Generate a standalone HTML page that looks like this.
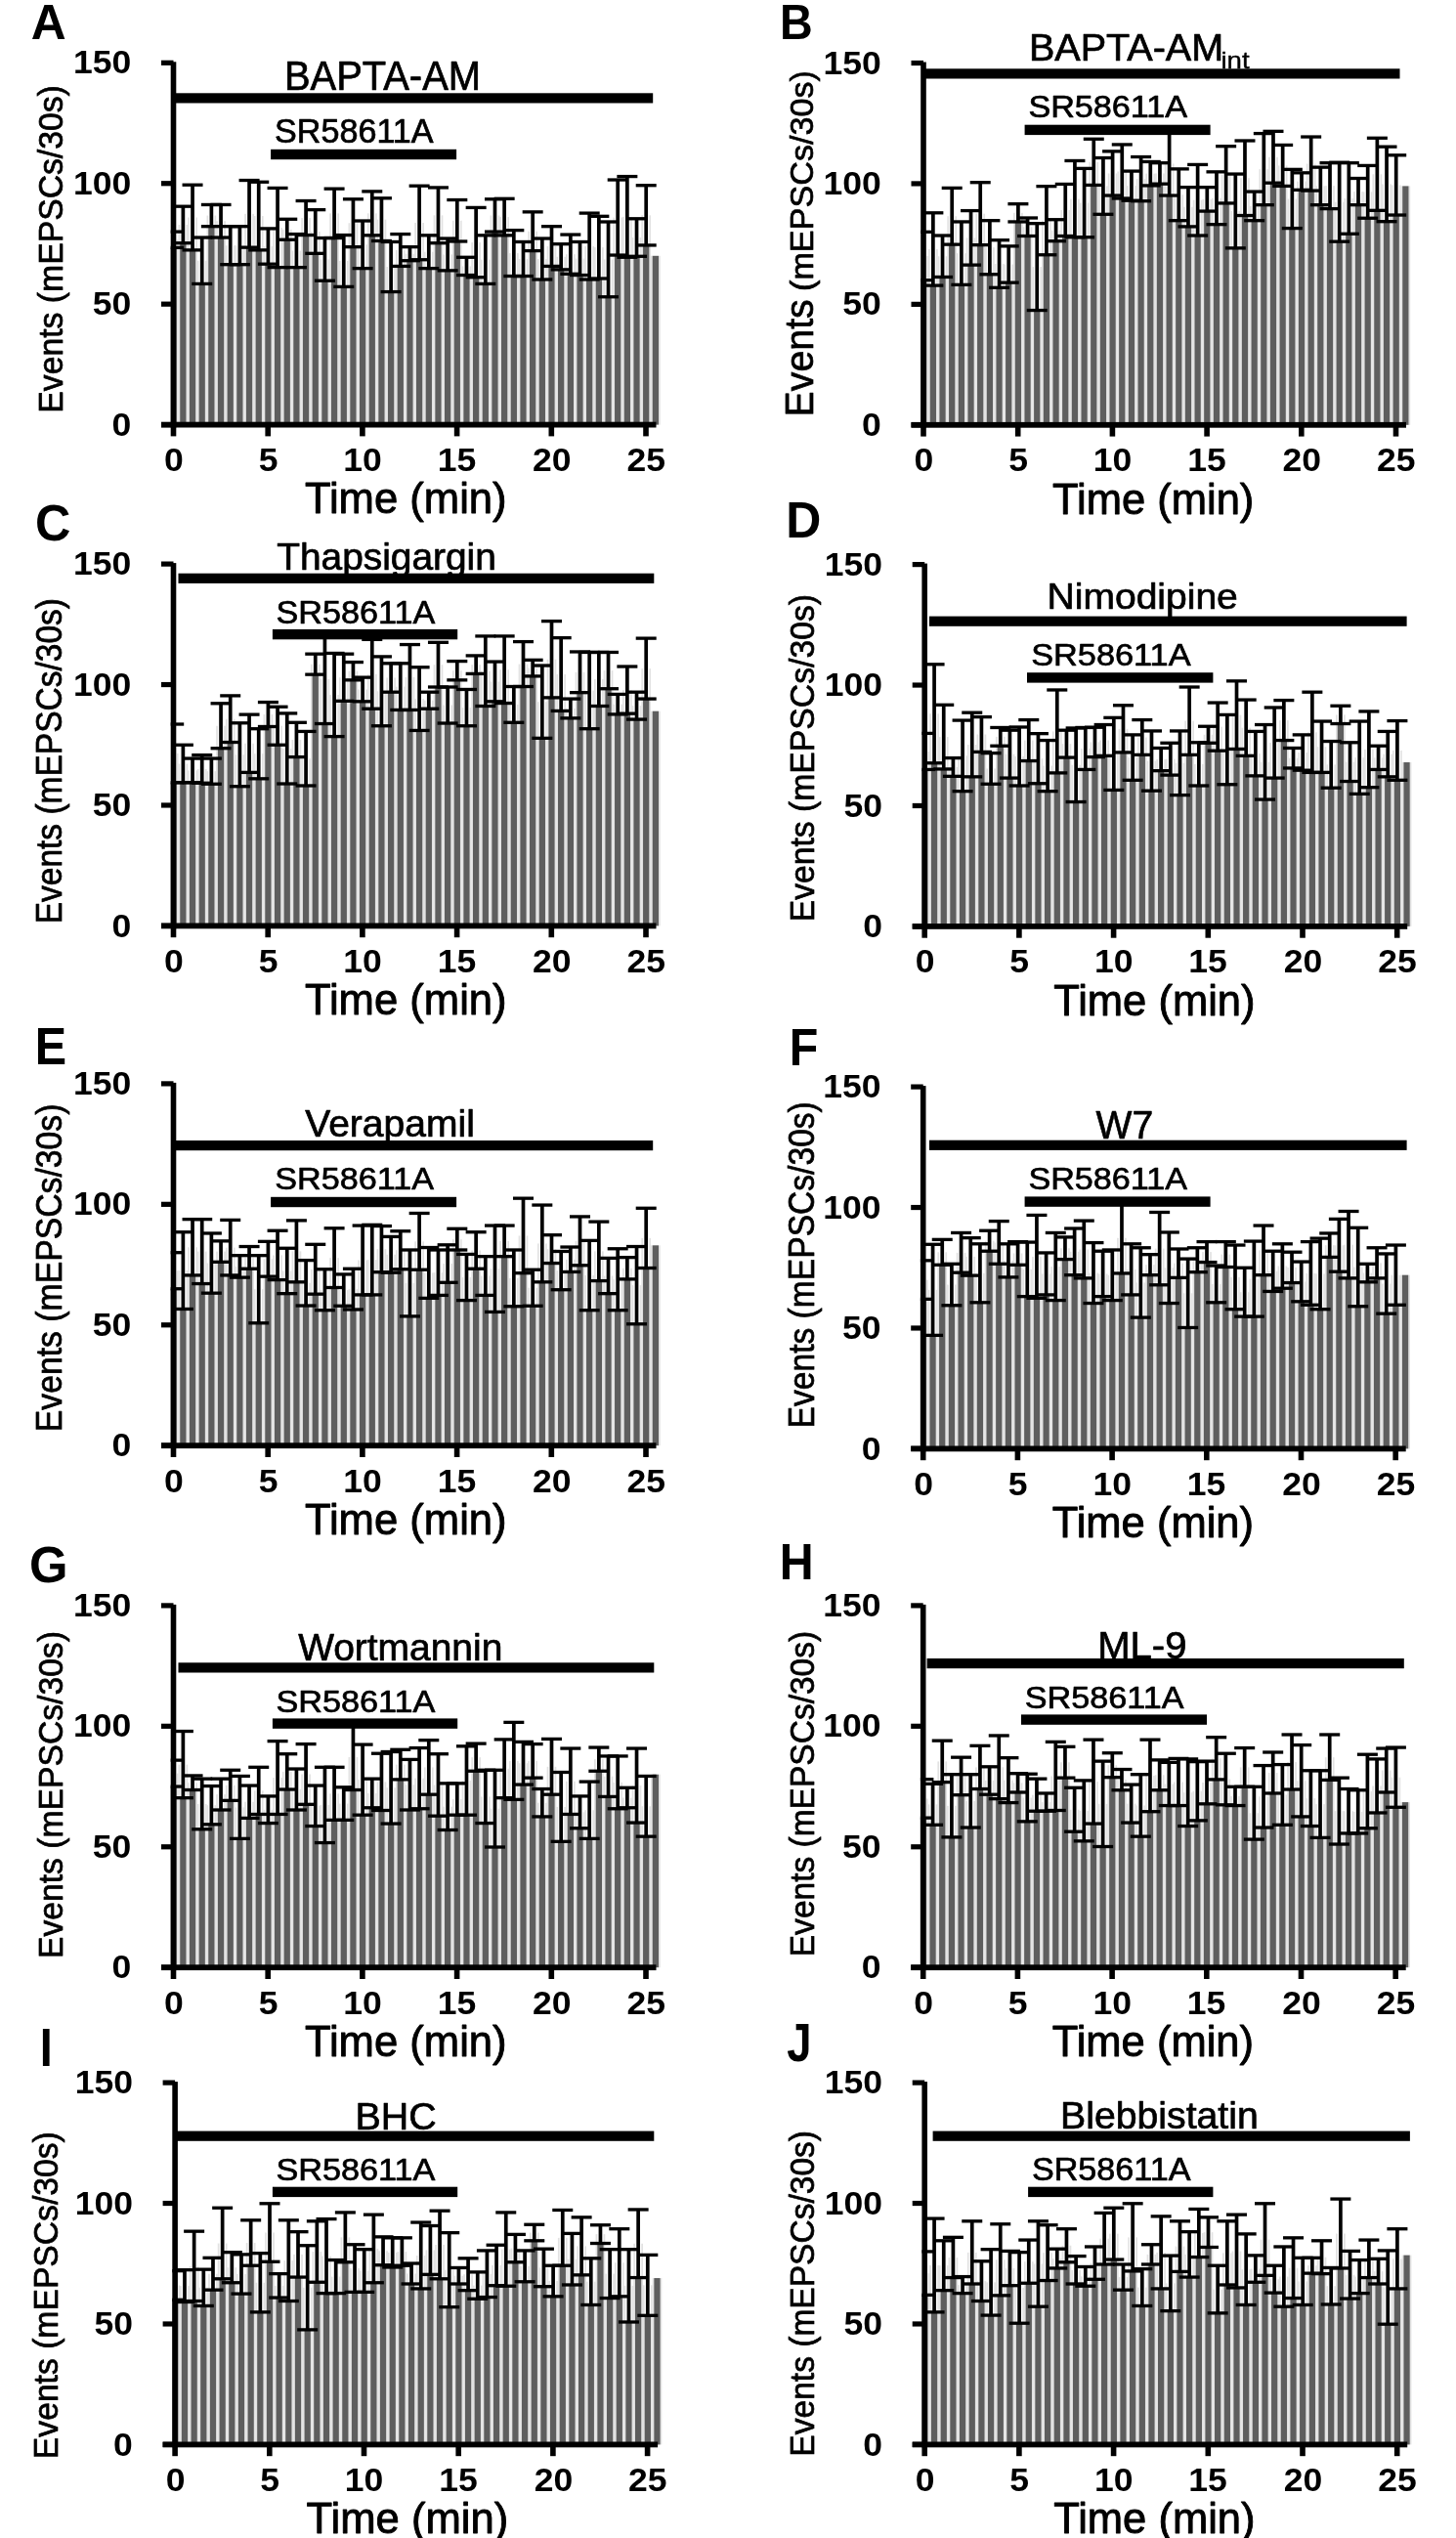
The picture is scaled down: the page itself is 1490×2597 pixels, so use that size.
<!DOCTYPE html>
<html><head><meta charset="utf-8"><title>Figure</title>
<style>html,body{margin:0;padding:0;background:#fff;}svg{display:block;will-change:transform;}
text{font-family:"Liberation Sans",sans-serif;font-size:100px;fill:#000;}</style></head>
<body><svg width="1490" height="2597" viewBox="0 0 1490 2597">
<rect x="0" y="0" width="1490" height="2597" fill="#fff"/>
<g>
<rect x="180.85" y="245.25" width="1.70" height="189.35" fill="#e2e2e2"/>
<rect x="182.51" y="229.95" width="1.70" height="204.65" fill="#e2e2e2"/>
<rect x="190.52" y="229.95" width="1.70" height="204.65" fill="#e2e2e2"/>
<rect x="192.19" y="222.54" width="1.70" height="212.06" fill="#e2e2e2"/>
<rect x="200.19" y="222.54" width="1.70" height="212.06" fill="#e2e2e2"/>
<rect x="201.85" y="266.73" width="1.70" height="167.87" fill="#e2e2e2"/>
<rect x="209.86" y="266.73" width="1.70" height="167.87" fill="#e2e2e2"/>
<rect x="211.53" y="220.57" width="1.70" height="214.03" fill="#e2e2e2"/>
<rect x="219.53" y="220.57" width="1.70" height="214.03" fill="#e2e2e2"/>
<rect x="221.19" y="226.24" width="1.70" height="208.36" fill="#e2e2e2"/>
<rect x="229.20" y="226.24" width="1.70" height="208.36" fill="#e2e2e2"/>
<rect x="230.86" y="251.18" width="1.70" height="183.42" fill="#e2e2e2"/>
<rect x="238.87" y="251.18" width="1.70" height="183.42" fill="#e2e2e2"/>
<rect x="240.53" y="251.18" width="1.70" height="183.42" fill="#e2e2e2"/>
<rect x="248.54" y="251.18" width="1.70" height="183.42" fill="#e2e2e2"/>
<rect x="250.21" y="218.84" width="1.70" height="215.76" fill="#e2e2e2"/>
<rect x="258.21" y="218.84" width="1.71" height="215.76" fill="#e2e2e2"/>
<rect x="259.87" y="221.06" width="1.71" height="213.54" fill="#e2e2e2"/>
<rect x="267.88" y="221.06" width="1.71" height="213.54" fill="#e2e2e2"/>
<rect x="269.54" y="252.04" width="1.71" height="182.56" fill="#e2e2e2"/>
<rect x="277.55" y="252.04" width="1.71" height="182.56" fill="#e2e2e2"/>
<rect x="279.21" y="233.03" width="1.71" height="201.57" fill="#e2e2e2"/>
<rect x="287.22" y="233.03" width="1.71" height="201.57" fill="#e2e2e2"/>
<rect x="288.88" y="234.76" width="1.71" height="199.84" fill="#e2e2e2"/>
<rect x="296.89" y="234.76" width="1.71" height="199.84" fill="#e2e2e2"/>
<rect x="298.55" y="256.61" width="1.71" height="177.99" fill="#e2e2e2"/>
<rect x="306.56" y="256.61" width="1.71" height="177.99" fill="#e2e2e2"/>
<rect x="308.22" y="223.04" width="1.71" height="211.56" fill="#e2e2e2"/>
<rect x="316.23" y="223.04" width="1.71" height="211.56" fill="#e2e2e2"/>
<rect x="317.89" y="236.98" width="1.71" height="197.62" fill="#e2e2e2"/>
<rect x="325.90" y="236.98" width="1.71" height="197.62" fill="#e2e2e2"/>
<rect x="327.56" y="265.37" width="1.71" height="169.23" fill="#e2e2e2"/>
<rect x="335.57" y="265.37" width="1.71" height="169.23" fill="#e2e2e2"/>
<rect x="337.23" y="218.34" width="1.71" height="216.26" fill="#e2e2e2"/>
<rect x="345.24" y="218.34" width="1.71" height="216.26" fill="#e2e2e2"/>
<rect x="346.90" y="266.98" width="1.71" height="167.62" fill="#e2e2e2"/>
<rect x="354.91" y="266.98" width="1.71" height="167.62" fill="#e2e2e2"/>
<rect x="356.57" y="228.22" width="1.71" height="206.38" fill="#e2e2e2"/>
<rect x="364.58" y="228.22" width="1.71" height="206.38" fill="#e2e2e2"/>
<rect x="366.24" y="250.31" width="1.71" height="184.29" fill="#e2e2e2"/>
<rect x="374.25" y="250.31" width="1.71" height="184.29" fill="#e2e2e2"/>
<rect x="375.91" y="218.34" width="1.71" height="216.26" fill="#e2e2e2"/>
<rect x="383.92" y="218.34" width="1.71" height="216.26" fill="#e2e2e2"/>
<rect x="385.58" y="224.64" width="1.71" height="209.96" fill="#e2e2e2"/>
<rect x="393.59" y="224.64" width="1.71" height="209.96" fill="#e2e2e2"/>
<rect x="395.25" y="273.03" width="1.71" height="161.57" fill="#e2e2e2"/>
<rect x="403.26" y="273.03" width="1.71" height="161.57" fill="#e2e2e2"/>
<rect x="404.92" y="255.99" width="1.71" height="178.61" fill="#e2e2e2"/>
<rect x="412.93" y="255.99" width="1.71" height="178.61" fill="#e2e2e2"/>
<rect x="414.59" y="259.69" width="1.71" height="174.91" fill="#e2e2e2"/>
<rect x="422.60" y="259.69" width="1.71" height="174.91" fill="#e2e2e2"/>
<rect x="424.26" y="227.97" width="1.71" height="206.63" fill="#e2e2e2"/>
<rect x="432.27" y="227.97" width="1.71" height="206.63" fill="#e2e2e2"/>
<rect x="433.93" y="257.72" width="1.71" height="176.88" fill="#e2e2e2"/>
<rect x="441.94" y="257.72" width="1.71" height="176.88" fill="#e2e2e2"/>
<rect x="443.60" y="220.32" width="1.71" height="214.28" fill="#e2e2e2"/>
<rect x="451.61" y="220.32" width="1.71" height="214.28" fill="#e2e2e2"/>
<rect x="453.27" y="260.44" width="1.71" height="174.16" fill="#e2e2e2"/>
<rect x="461.28" y="260.44" width="1.71" height="174.16" fill="#e2e2e2"/>
<rect x="462.94" y="225.75" width="1.71" height="208.85" fill="#e2e2e2"/>
<rect x="470.95" y="225.75" width="1.71" height="208.85" fill="#e2e2e2"/>
<rect x="472.61" y="272.41" width="1.71" height="162.19" fill="#e2e2e2"/>
<rect x="480.62" y="272.41" width="1.71" height="162.19" fill="#e2e2e2"/>
<rect x="482.28" y="248.09" width="1.71" height="186.51" fill="#e2e2e2"/>
<rect x="490.29" y="248.09" width="1.71" height="186.51" fill="#e2e2e2"/>
<rect x="491.95" y="265.62" width="1.71" height="168.98" fill="#e2e2e2"/>
<rect x="499.96" y="265.62" width="1.71" height="168.98" fill="#e2e2e2"/>
<rect x="501.62" y="220.44" width="1.71" height="214.16" fill="#e2e2e2"/>
<rect x="509.63" y="220.44" width="1.71" height="214.16" fill="#e2e2e2"/>
<rect x="511.30" y="222.05" width="1.71" height="212.55" fill="#e2e2e2"/>
<rect x="519.30" y="222.05" width="1.71" height="212.55" fill="#e2e2e2"/>
<rect x="520.97" y="259.08" width="1.71" height="175.52" fill="#e2e2e2"/>
<rect x="528.97" y="259.08" width="1.71" height="175.52" fill="#e2e2e2"/>
<rect x="530.63" y="265.00" width="1.71" height="169.60" fill="#e2e2e2"/>
<rect x="538.64" y="265.00" width="1.71" height="169.60" fill="#e2e2e2"/>
<rect x="540.31" y="236.74" width="1.71" height="197.86" fill="#e2e2e2"/>
<rect x="548.31" y="236.74" width="1.71" height="197.86" fill="#e2e2e2"/>
<rect x="549.98" y="265.00" width="1.71" height="169.60" fill="#e2e2e2"/>
<rect x="557.98" y="265.00" width="1.71" height="169.60" fill="#e2e2e2"/>
<rect x="559.64" y="252.04" width="1.71" height="182.56" fill="#e2e2e2"/>
<rect x="567.65" y="252.04" width="1.71" height="182.56" fill="#e2e2e2"/>
<rect x="569.32" y="262.78" width="1.71" height="171.82" fill="#e2e2e2"/>
<rect x="577.32" y="262.78" width="1.71" height="171.82" fill="#e2e2e2"/>
<rect x="578.99" y="260.19" width="1.71" height="174.41" fill="#e2e2e2"/>
<rect x="586.99" y="260.19" width="1.71" height="174.41" fill="#e2e2e2"/>
<rect x="588.65" y="264.51" width="1.71" height="170.09" fill="#e2e2e2"/>
<rect x="596.66" y="264.51" width="1.71" height="170.09" fill="#e2e2e2"/>
<rect x="598.33" y="252.04" width="1.71" height="182.56" fill="#e2e2e2"/>
<rect x="606.33" y="252.04" width="1.71" height="182.56" fill="#e2e2e2"/>
<rect x="608.00" y="253.15" width="1.71" height="181.45" fill="#e2e2e2"/>
<rect x="616.00" y="253.15" width="1.71" height="181.45" fill="#e2e2e2"/>
<rect x="617.66" y="265.37" width="1.71" height="169.23" fill="#e2e2e2"/>
<rect x="625.67" y="265.37" width="1.71" height="169.23" fill="#e2e2e2"/>
<rect x="627.34" y="222.54" width="1.71" height="212.06" fill="#e2e2e2"/>
<rect x="635.34" y="222.54" width="1.71" height="212.06" fill="#e2e2e2"/>
<rect x="637.00" y="221.92" width="1.71" height="212.68" fill="#e2e2e2"/>
<rect x="645.01" y="221.92" width="1.71" height="212.68" fill="#e2e2e2"/>
<rect x="646.67" y="243.03" width="1.71" height="191.57" fill="#e2e2e2"/>
<rect x="654.68" y="243.03" width="1.71" height="191.57" fill="#e2e2e2"/>
<rect x="656.35" y="220.32" width="1.71" height="214.28" fill="#e2e2e2"/>
<rect x="664.35" y="220.32" width="1.71" height="214.28" fill="#e2e2e2"/>
<rect x="666.02" y="261.79" width="1.71" height="172.81" fill="#e2e2e2"/>
<rect x="674.02" y="261.79" width="1.71" height="172.81" fill="#e2e2e2"/>
<rect x="174.70" y="253.40" width="6.15" height="181.20" fill="#5e5e5e"/>
<rect x="184.22" y="248.71" width="6.30" height="185.89" fill="#5e5e5e"/>
<rect x="193.89" y="255.87" width="6.30" height="178.73" fill="#5e5e5e"/>
<rect x="203.56" y="290.43" width="6.30" height="144.17" fill="#5e5e5e"/>
<rect x="213.23" y="231.68" width="6.30" height="202.92" fill="#5e5e5e"/>
<rect x="222.90" y="243.03" width="6.30" height="191.57" fill="#5e5e5e"/>
<rect x="232.57" y="270.68" width="6.30" height="163.92" fill="#5e5e5e"/>
<rect x="242.24" y="270.68" width="6.30" height="163.92" fill="#5e5e5e"/>
<rect x="251.91" y="253.15" width="6.30" height="181.45" fill="#5e5e5e"/>
<rect x="261.58" y="255.87" width="6.30" height="178.73" fill="#5e5e5e"/>
<rect x="271.25" y="270.19" width="6.30" height="164.41" fill="#5e5e5e"/>
<rect x="280.92" y="273.64" width="6.30" height="160.96" fill="#5e5e5e"/>
<rect x="290.59" y="245.25" width="6.30" height="189.35" fill="#5e5e5e"/>
<rect x="300.26" y="273.64" width="6.30" height="160.96" fill="#5e5e5e"/>
<rect x="309.93" y="240.56" width="6.30" height="194.04" fill="#5e5e5e"/>
<rect x="319.60" y="259.32" width="6.30" height="175.28" fill="#5e5e5e"/>
<rect x="329.27" y="287.22" width="6.30" height="147.38" fill="#5e5e5e"/>
<rect x="338.94" y="243.53" width="6.30" height="191.07" fill="#5e5e5e"/>
<rect x="348.61" y="293.39" width="6.30" height="141.21" fill="#5e5e5e"/>
<rect x="358.28" y="252.66" width="6.30" height="181.94" fill="#5e5e5e"/>
<rect x="367.95" y="274.63" width="6.30" height="159.97" fill="#5e5e5e"/>
<rect x="377.62" y="240.81" width="6.30" height="193.79" fill="#5e5e5e"/>
<rect x="387.29" y="246.49" width="6.30" height="188.11" fill="#5e5e5e"/>
<rect x="396.96" y="298.58" width="6.30" height="136.02" fill="#5e5e5e"/>
<rect x="406.63" y="272.41" width="6.30" height="162.19" fill="#5e5e5e"/>
<rect x="416.30" y="266.73" width="6.30" height="167.87" fill="#5e5e5e"/>
<rect x="425.97" y="265.74" width="6.30" height="168.86" fill="#5e5e5e"/>
<rect x="435.64" y="274.63" width="6.30" height="159.97" fill="#5e5e5e"/>
<rect x="445.31" y="248.71" width="6.30" height="185.89" fill="#5e5e5e"/>
<rect x="454.98" y="276.85" width="6.30" height="157.75" fill="#5e5e5e"/>
<rect x="464.65" y="246.98" width="6.30" height="187.62" fill="#5e5e5e"/>
<rect x="474.32" y="281.54" width="6.30" height="153.06" fill="#5e5e5e"/>
<rect x="483.99" y="283.76" width="6.30" height="150.84" fill="#5e5e5e"/>
<rect x="493.66" y="290.43" width="6.30" height="144.17" fill="#5e5e5e"/>
<rect x="503.33" y="237.11" width="6.30" height="197.49" fill="#5e5e5e"/>
<rect x="513.00" y="240.81" width="6.30" height="193.79" fill="#5e5e5e"/>
<rect x="522.67" y="282.53" width="6.30" height="152.07" fill="#5e5e5e"/>
<rect x="532.34" y="282.53" width="6.30" height="152.07" fill="#5e5e5e"/>
<rect x="542.01" y="256.61" width="6.30" height="177.99" fill="#5e5e5e"/>
<rect x="551.68" y="285.99" width="6.30" height="148.61" fill="#5e5e5e"/>
<rect x="561.35" y="272.41" width="6.30" height="162.19" fill="#5e5e5e"/>
<rect x="571.02" y="275.86" width="6.30" height="158.74" fill="#5e5e5e"/>
<rect x="580.69" y="280.31" width="6.30" height="154.29" fill="#5e5e5e"/>
<rect x="590.36" y="281.54" width="6.30" height="153.06" fill="#5e5e5e"/>
<rect x="600.03" y="285.99" width="6.30" height="148.61" fill="#5e5e5e"/>
<rect x="609.70" y="285.00" width="6.30" height="149.60" fill="#5e5e5e"/>
<rect x="619.37" y="303.76" width="6.30" height="130.84" fill="#5e5e5e"/>
<rect x="629.04" y="261.05" width="6.30" height="173.55" fill="#5e5e5e"/>
<rect x="638.71" y="263.27" width="6.30" height="171.33" fill="#5e5e5e"/>
<rect x="648.38" y="262.29" width="6.30" height="172.31" fill="#5e5e5e"/>
<rect x="658.05" y="250.93" width="6.30" height="183.67" fill="#5e5e5e"/>
<rect x="667.72" y="261.79" width="6.30" height="172.81" fill="#5e5e5e"/>
</g>
<rect x="175.85" y="237.11" width="3.70" height="16.29" fill="#000"/>
<rect x="174.70" y="235.46" width="13.50" height="3.30" fill="#000"/>
<rect x="174.70" y="251.75" width="13.50" height="3.30" fill="#000"/>
<rect x="185.52" y="211.19" width="3.70" height="37.52" fill="#000"/>
<rect x="176.87" y="209.54" width="21.00" height="3.30" fill="#000"/>
<rect x="176.87" y="247.06" width="21.00" height="3.30" fill="#000"/>
<rect x="195.19" y="189.21" width="3.70" height="66.65" fill="#000"/>
<rect x="186.54" y="187.56" width="21.00" height="3.30" fill="#000"/>
<rect x="186.54" y="254.22" width="21.00" height="3.30" fill="#000"/>
<rect x="204.86" y="243.03" width="3.70" height="47.40" fill="#000"/>
<rect x="196.21" y="241.38" width="21.00" height="3.30" fill="#000"/>
<rect x="196.21" y="288.78" width="21.00" height="3.30" fill="#000"/>
<rect x="214.53" y="209.46" width="3.70" height="22.22" fill="#000"/>
<rect x="205.88" y="207.81" width="21.00" height="3.30" fill="#000"/>
<rect x="205.88" y="230.03" width="21.00" height="3.30" fill="#000"/>
<rect x="224.20" y="209.46" width="3.70" height="33.57" fill="#000"/>
<rect x="215.55" y="207.81" width="21.00" height="3.30" fill="#000"/>
<rect x="215.55" y="241.38" width="21.00" height="3.30" fill="#000"/>
<rect x="233.87" y="231.68" width="3.70" height="39.00" fill="#000"/>
<rect x="225.22" y="230.03" width="21.00" height="3.30" fill="#000"/>
<rect x="225.22" y="269.03" width="21.00" height="3.30" fill="#000"/>
<rect x="243.54" y="231.68" width="3.70" height="39.00" fill="#000"/>
<rect x="234.89" y="230.03" width="21.00" height="3.30" fill="#000"/>
<rect x="234.89" y="269.03" width="21.00" height="3.30" fill="#000"/>
<rect x="253.21" y="184.52" width="3.70" height="68.63" fill="#000"/>
<rect x="244.56" y="182.87" width="21.00" height="3.30" fill="#000"/>
<rect x="244.56" y="251.50" width="21.00" height="3.30" fill="#000"/>
<rect x="262.88" y="186.25" width="3.70" height="69.62" fill="#000"/>
<rect x="254.23" y="184.60" width="21.00" height="3.30" fill="#000"/>
<rect x="254.23" y="254.22" width="21.00" height="3.30" fill="#000"/>
<rect x="272.55" y="233.90" width="3.70" height="36.29" fill="#000"/>
<rect x="263.90" y="232.25" width="21.00" height="3.30" fill="#000"/>
<rect x="263.90" y="268.54" width="21.00" height="3.30" fill="#000"/>
<rect x="282.22" y="192.42" width="3.70" height="81.22" fill="#000"/>
<rect x="273.57" y="190.77" width="21.00" height="3.30" fill="#000"/>
<rect x="273.57" y="271.99" width="21.00" height="3.30" fill="#000"/>
<rect x="291.89" y="224.27" width="3.70" height="20.98" fill="#000"/>
<rect x="283.24" y="222.62" width="21.00" height="3.30" fill="#000"/>
<rect x="283.24" y="243.60" width="21.00" height="3.30" fill="#000"/>
<rect x="301.56" y="239.58" width="3.70" height="34.07" fill="#000"/>
<rect x="292.91" y="237.93" width="21.00" height="3.30" fill="#000"/>
<rect x="292.91" y="271.99" width="21.00" height="3.30" fill="#000"/>
<rect x="311.23" y="205.51" width="3.70" height="35.06" fill="#000"/>
<rect x="302.58" y="203.86" width="21.00" height="3.30" fill="#000"/>
<rect x="302.58" y="238.91" width="21.00" height="3.30" fill="#000"/>
<rect x="320.90" y="214.64" width="3.70" height="44.68" fill="#000"/>
<rect x="312.25" y="212.99" width="21.00" height="3.30" fill="#000"/>
<rect x="312.25" y="257.67" width="21.00" height="3.30" fill="#000"/>
<rect x="330.57" y="243.53" width="3.70" height="43.70" fill="#000"/>
<rect x="321.92" y="241.88" width="21.00" height="3.30" fill="#000"/>
<rect x="321.92" y="285.57" width="21.00" height="3.30" fill="#000"/>
<rect x="340.24" y="193.16" width="3.70" height="50.36" fill="#000"/>
<rect x="331.59" y="191.51" width="21.00" height="3.30" fill="#000"/>
<rect x="331.59" y="241.88" width="21.00" height="3.30" fill="#000"/>
<rect x="349.91" y="240.56" width="3.70" height="52.83" fill="#000"/>
<rect x="341.26" y="238.91" width="21.00" height="3.30" fill="#000"/>
<rect x="341.26" y="291.74" width="21.00" height="3.30" fill="#000"/>
<rect x="359.58" y="203.78" width="3.70" height="48.88" fill="#000"/>
<rect x="350.93" y="202.13" width="21.00" height="3.30" fill="#000"/>
<rect x="350.93" y="251.01" width="21.00" height="3.30" fill="#000"/>
<rect x="369.25" y="226.00" width="3.70" height="48.63" fill="#000"/>
<rect x="360.60" y="224.35" width="21.00" height="3.30" fill="#000"/>
<rect x="360.60" y="272.98" width="21.00" height="3.30" fill="#000"/>
<rect x="378.92" y="195.88" width="3.70" height="44.93" fill="#000"/>
<rect x="370.27" y="194.23" width="21.00" height="3.30" fill="#000"/>
<rect x="370.27" y="239.16" width="21.00" height="3.30" fill="#000"/>
<rect x="388.59" y="202.79" width="3.70" height="43.70" fill="#000"/>
<rect x="379.94" y="201.14" width="21.00" height="3.30" fill="#000"/>
<rect x="379.94" y="244.84" width="21.00" height="3.30" fill="#000"/>
<rect x="398.26" y="247.48" width="3.70" height="51.10" fill="#000"/>
<rect x="389.61" y="245.83" width="21.00" height="3.30" fill="#000"/>
<rect x="389.61" y="296.93" width="21.00" height="3.30" fill="#000"/>
<rect x="407.93" y="239.58" width="3.70" height="32.83" fill="#000"/>
<rect x="399.28" y="237.93" width="21.00" height="3.30" fill="#000"/>
<rect x="399.28" y="270.76" width="21.00" height="3.30" fill="#000"/>
<rect x="417.60" y="252.66" width="3.70" height="14.07" fill="#000"/>
<rect x="408.95" y="251.01" width="21.00" height="3.30" fill="#000"/>
<rect x="408.95" y="265.08" width="21.00" height="3.30" fill="#000"/>
<rect x="427.27" y="190.20" width="3.70" height="75.54" fill="#000"/>
<rect x="418.62" y="188.55" width="21.00" height="3.30" fill="#000"/>
<rect x="418.62" y="264.09" width="21.00" height="3.30" fill="#000"/>
<rect x="436.94" y="240.81" width="3.70" height="33.82" fill="#000"/>
<rect x="428.29" y="239.16" width="21.00" height="3.30" fill="#000"/>
<rect x="428.29" y="272.98" width="21.00" height="3.30" fill="#000"/>
<rect x="446.61" y="191.93" width="3.70" height="56.78" fill="#000"/>
<rect x="437.96" y="190.28" width="21.00" height="3.30" fill="#000"/>
<rect x="437.96" y="247.06" width="21.00" height="3.30" fill="#000"/>
<rect x="456.28" y="244.02" width="3.70" height="32.83" fill="#000"/>
<rect x="447.63" y="242.37" width="21.00" height="3.30" fill="#000"/>
<rect x="447.63" y="275.20" width="21.00" height="3.30" fill="#000"/>
<rect x="465.95" y="204.52" width="3.70" height="42.46" fill="#000"/>
<rect x="457.30" y="202.87" width="21.00" height="3.30" fill="#000"/>
<rect x="457.30" y="245.33" width="21.00" height="3.30" fill="#000"/>
<rect x="475.62" y="263.27" width="3.70" height="18.27" fill="#000"/>
<rect x="466.97" y="261.62" width="21.00" height="3.30" fill="#000"/>
<rect x="466.97" y="279.89" width="21.00" height="3.30" fill="#000"/>
<rect x="485.29" y="212.42" width="3.70" height="71.34" fill="#000"/>
<rect x="476.64" y="210.77" width="21.00" height="3.30" fill="#000"/>
<rect x="476.64" y="282.11" width="21.00" height="3.30" fill="#000"/>
<rect x="494.96" y="240.81" width="3.70" height="49.62" fill="#000"/>
<rect x="486.31" y="239.16" width="21.00" height="3.30" fill="#000"/>
<rect x="486.31" y="288.78" width="21.00" height="3.30" fill="#000"/>
<rect x="504.63" y="203.78" width="3.70" height="33.33" fill="#000"/>
<rect x="495.98" y="202.13" width="21.00" height="3.30" fill="#000"/>
<rect x="495.98" y="235.46" width="21.00" height="3.30" fill="#000"/>
<rect x="514.30" y="203.29" width="3.70" height="37.52" fill="#000"/>
<rect x="505.65" y="201.64" width="21.00" height="3.30" fill="#000"/>
<rect x="505.65" y="239.16" width="21.00" height="3.30" fill="#000"/>
<rect x="523.97" y="235.63" width="3.70" height="46.90" fill="#000"/>
<rect x="515.32" y="233.98" width="21.00" height="3.30" fill="#000"/>
<rect x="515.32" y="280.88" width="21.00" height="3.30" fill="#000"/>
<rect x="533.64" y="247.48" width="3.70" height="35.06" fill="#000"/>
<rect x="524.99" y="245.83" width="21.00" height="3.30" fill="#000"/>
<rect x="524.99" y="280.88" width="21.00" height="3.30" fill="#000"/>
<rect x="543.31" y="216.86" width="3.70" height="39.75" fill="#000"/>
<rect x="534.66" y="215.21" width="21.00" height="3.30" fill="#000"/>
<rect x="534.66" y="254.96" width="21.00" height="3.30" fill="#000"/>
<rect x="552.98" y="244.02" width="3.70" height="41.97" fill="#000"/>
<rect x="544.33" y="242.37" width="21.00" height="3.30" fill="#000"/>
<rect x="544.33" y="284.34" width="21.00" height="3.30" fill="#000"/>
<rect x="562.65" y="231.68" width="3.70" height="40.73" fill="#000"/>
<rect x="554.00" y="230.03" width="21.00" height="3.30" fill="#000"/>
<rect x="554.00" y="270.76" width="21.00" height="3.30" fill="#000"/>
<rect x="572.32" y="249.70" width="3.70" height="26.17" fill="#000"/>
<rect x="563.67" y="248.05" width="21.00" height="3.30" fill="#000"/>
<rect x="563.67" y="274.21" width="21.00" height="3.30" fill="#000"/>
<rect x="581.99" y="240.07" width="3.70" height="40.24" fill="#000"/>
<rect x="573.34" y="238.42" width="21.00" height="3.30" fill="#000"/>
<rect x="573.34" y="278.66" width="21.00" height="3.30" fill="#000"/>
<rect x="591.66" y="247.48" width="3.70" height="34.07" fill="#000"/>
<rect x="583.01" y="245.83" width="21.00" height="3.30" fill="#000"/>
<rect x="583.01" y="279.89" width="21.00" height="3.30" fill="#000"/>
<rect x="601.33" y="218.10" width="3.70" height="67.89" fill="#000"/>
<rect x="592.68" y="216.45" width="21.00" height="3.30" fill="#000"/>
<rect x="592.68" y="284.34" width="21.00" height="3.30" fill="#000"/>
<rect x="611.00" y="221.31" width="3.70" height="63.69" fill="#000"/>
<rect x="602.35" y="219.66" width="21.00" height="3.30" fill="#000"/>
<rect x="602.35" y="283.35" width="21.00" height="3.30" fill="#000"/>
<rect x="620.67" y="226.99" width="3.70" height="76.78" fill="#000"/>
<rect x="612.02" y="225.34" width="21.00" height="3.30" fill="#000"/>
<rect x="612.02" y="302.11" width="21.00" height="3.30" fill="#000"/>
<rect x="630.34" y="184.03" width="3.70" height="77.02" fill="#000"/>
<rect x="621.69" y="182.38" width="21.00" height="3.30" fill="#000"/>
<rect x="621.69" y="259.40" width="21.00" height="3.30" fill="#000"/>
<rect x="640.01" y="180.57" width="3.70" height="82.70" fill="#000"/>
<rect x="631.36" y="178.92" width="21.00" height="3.30" fill="#000"/>
<rect x="631.36" y="261.62" width="21.00" height="3.30" fill="#000"/>
<rect x="649.68" y="223.78" width="3.70" height="38.51" fill="#000"/>
<rect x="641.03" y="222.13" width="21.00" height="3.30" fill="#000"/>
<rect x="641.03" y="260.64" width="21.00" height="3.30" fill="#000"/>
<rect x="659.35" y="189.71" width="3.70" height="61.22" fill="#000"/>
<rect x="650.70" y="188.06" width="21.00" height="3.30" fill="#000"/>
<rect x="650.70" y="249.28" width="21.00" height="3.30" fill="#000"/>
<rect x="174.70" y="63.30" width="5.60" height="374.20" fill="#000"/>
<rect x="165.00" y="431.70" width="506.50" height="5.80" fill="#000"/>
<rect x="165.00" y="432.00" width="12.50" height="5.20" fill="#000"/>
<rect x="165.00" y="308.57" width="12.50" height="5.20" fill="#000"/>
<rect x="165.00" y="185.13" width="12.50" height="5.20" fill="#000"/>
<rect x="165.00" y="61.70" width="12.50" height="5.20" fill="#000"/>
<rect x="174.70" y="434.60" width="5.60" height="11.80" fill="#000"/>
<rect x="271.40" y="434.60" width="5.60" height="11.80" fill="#000"/>
<rect x="368.10" y="434.60" width="5.60" height="11.80" fill="#000"/>
<rect x="464.80" y="434.60" width="5.60" height="11.80" fill="#000"/>
<rect x="561.50" y="434.60" width="5.60" height="11.80" fill="#000"/>
<rect x="658.20" y="434.60" width="5.60" height="11.80" fill="#000"/>
<text transform="translate(114.50,445.70) scale(0.35527,0.34000)" font-weight="700">0</text>
<text transform="translate(94.79,322.27) scale(0.35527,0.34000)" font-weight="700">50</text>
<text transform="translate(75.07,198.83) scale(0.35527,0.34000)" font-weight="700">100</text>
<text transform="translate(75.07,75.40) scale(0.35527,0.34000)" font-weight="700">150</text>
<text transform="translate(168.04,482.10) scale(0.35527,0.34000)" font-weight="700">0</text>
<text transform="translate(264.65,482.10) scale(0.35527,0.34000)" font-weight="700">5</text>
<text transform="translate(351.23,482.10) scale(0.35527,0.34000)" font-weight="700">10</text>
<text transform="translate(447.66,482.10) scale(0.35527,0.34000)" font-weight="700">15</text>
<text transform="translate(545.07,482.10) scale(0.35527,0.34000)" font-weight="700">20</text>
<text transform="translate(641.50,482.10) scale(0.35527,0.34000)" font-weight="700">25</text>
<text transform="translate(311.88,525.35) scale(0.43631,0.43724)" font-weight="400" stroke="#000" stroke-width="2.06" stroke-linejoin="round">Time (min)</text>
<text transform="translate(63.75,422.65) rotate(-90) scale(0.33738,0.35362)" font-weight="400" stroke="#000" stroke-width="2.03" stroke-linejoin="round">Events (mEPSCs/30s)</text>
<text transform="translate(31.76,39.60) scale(0.49701,0.50725)" font-weight="700">A</text>
<rect x="180.00" y="95.30" width="488.20" height="10.20" fill="#000"/>
<text transform="translate(290.96,91.65) scale(0.39918,0.41884)" font-weight="400" stroke="#000" stroke-width="1.71" stroke-linejoin="round">BAPTA-AM</text>
<rect x="277.10" y="152.80" width="190.00" height="10.40" fill="#000"/>
<text transform="translate(281.12,145.55) scale(0.34104,0.34714)" font-weight="400" stroke="#000" stroke-width="2.03" stroke-linejoin="round">SR58611A</text>
<g>
<rect x="948.35" y="261.99" width="1.71" height="172.81" fill="#e2e2e2"/>
<rect x="950.01" y="254.96" width="1.71" height="179.84" fill="#e2e2e2"/>
<rect x="958.02" y="254.96" width="1.71" height="179.84" fill="#e2e2e2"/>
<rect x="959.69" y="262.24" width="1.71" height="172.56" fill="#e2e2e2"/>
<rect x="967.69" y="262.24" width="1.71" height="172.56" fill="#e2e2e2"/>
<rect x="969.36" y="221.26" width="1.71" height="213.54" fill="#e2e2e2"/>
<rect x="977.36" y="221.26" width="1.71" height="213.54" fill="#e2e2e2"/>
<rect x="979.02" y="259.15" width="1.71" height="175.65" fill="#e2e2e2"/>
<rect x="987.03" y="259.15" width="1.71" height="175.65" fill="#e2e2e2"/>
<rect x="988.70" y="243.35" width="1.71" height="191.45" fill="#e2e2e2"/>
<rect x="996.70" y="243.35" width="1.71" height="191.45" fill="#e2e2e2"/>
<rect x="998.37" y="218.67" width="1.71" height="216.13" fill="#e2e2e2"/>
<rect x="1006.37" y="218.67" width="1.71" height="216.13" fill="#e2e2e2"/>
<rect x="1008.04" y="253.23" width="1.71" height="181.57" fill="#e2e2e2"/>
<rect x="1016.04" y="253.23" width="1.71" height="181.57" fill="#e2e2e2"/>
<rect x="1017.71" y="270.02" width="1.71" height="164.78" fill="#e2e2e2"/>
<rect x="1025.71" y="270.02" width="1.70" height="164.78" fill="#e2e2e2"/>
<rect x="1027.38" y="270.51" width="1.70" height="164.29" fill="#e2e2e2"/>
<rect x="1035.38" y="270.51" width="1.70" height="164.29" fill="#e2e2e2"/>
<rect x="1037.05" y="217.80" width="1.70" height="217.00" fill="#e2e2e2"/>
<rect x="1045.05" y="217.80" width="1.70" height="217.00" fill="#e2e2e2"/>
<rect x="1046.71" y="232.25" width="1.70" height="202.55" fill="#e2e2e2"/>
<rect x="1054.72" y="232.25" width="1.70" height="202.55" fill="#e2e2e2"/>
<rect x="1056.38" y="273.10" width="1.70" height="161.70" fill="#e2e2e2"/>
<rect x="1064.39" y="273.10" width="1.70" height="161.70" fill="#e2e2e2"/>
<rect x="1066.06" y="225.70" width="1.70" height="209.10" fill="#e2e2e2"/>
<rect x="1074.06" y="225.70" width="1.70" height="209.10" fill="#e2e2e2"/>
<rect x="1075.73" y="235.70" width="1.70" height="199.10" fill="#e2e2e2"/>
<rect x="1083.73" y="235.70" width="1.70" height="199.10" fill="#e2e2e2"/>
<rect x="1085.39" y="214.97" width="1.70" height="219.83" fill="#e2e2e2"/>
<rect x="1093.40" y="214.97" width="1.70" height="219.83" fill="#e2e2e2"/>
<rect x="1095.07" y="203.61" width="1.70" height="231.19" fill="#e2e2e2"/>
<rect x="1103.07" y="203.61" width="1.70" height="231.19" fill="#e2e2e2"/>
<rect x="1104.73" y="207.56" width="1.70" height="227.24" fill="#e2e2e2"/>
<rect x="1112.74" y="207.56" width="1.70" height="227.24" fill="#e2e2e2"/>
<rect x="1114.40" y="165.84" width="1.70" height="268.96" fill="#e2e2e2"/>
<rect x="1122.41" y="165.84" width="1.70" height="268.96" fill="#e2e2e2"/>
<rect x="1124.08" y="190.40" width="1.70" height="244.40" fill="#e2e2e2"/>
<rect x="1132.08" y="190.40" width="1.70" height="244.40" fill="#e2e2e2"/>
<rect x="1133.75" y="177.44" width="1.70" height="257.36" fill="#e2e2e2"/>
<rect x="1141.75" y="177.44" width="1.70" height="257.36" fill="#e2e2e2"/>
<rect x="1143.41" y="175.47" width="1.70" height="259.33" fill="#e2e2e2"/>
<rect x="1151.42" y="175.47" width="1.70" height="259.33" fill="#e2e2e2"/>
<rect x="1153.09" y="190.16" width="1.70" height="244.64" fill="#e2e2e2"/>
<rect x="1161.09" y="190.16" width="1.70" height="244.64" fill="#e2e2e2"/>
<rect x="1162.76" y="183.12" width="1.70" height="251.68" fill="#e2e2e2"/>
<rect x="1170.76" y="183.12" width="1.70" height="251.68" fill="#e2e2e2"/>
<rect x="1172.42" y="177.69" width="1.70" height="257.11" fill="#e2e2e2"/>
<rect x="1180.43" y="177.69" width="1.70" height="257.11" fill="#e2e2e2"/>
<rect x="1182.10" y="177.44" width="1.70" height="257.36" fill="#e2e2e2"/>
<rect x="1190.10" y="177.44" width="1.70" height="257.36" fill="#e2e2e2"/>
<rect x="1191.77" y="167.44" width="1.70" height="267.36" fill="#e2e2e2"/>
<rect x="1199.77" y="167.44" width="1.70" height="267.36" fill="#e2e2e2"/>
<rect x="1201.43" y="199.29" width="1.70" height="235.51" fill="#e2e2e2"/>
<rect x="1209.44" y="199.29" width="1.70" height="235.51" fill="#e2e2e2"/>
<rect x="1211.11" y="211.76" width="1.70" height="223.04" fill="#e2e2e2"/>
<rect x="1219.11" y="211.76" width="1.70" height="223.04" fill="#e2e2e2"/>
<rect x="1220.78" y="204.72" width="1.70" height="230.08" fill="#e2e2e2"/>
<rect x="1228.78" y="204.72" width="1.70" height="230.08" fill="#e2e2e2"/>
<rect x="1230.44" y="203.86" width="1.70" height="230.94" fill="#e2e2e2"/>
<rect x="1238.45" y="203.86" width="1.70" height="230.94" fill="#e2e2e2"/>
<rect x="1240.12" y="202.75" width="1.70" height="232.05" fill="#e2e2e2"/>
<rect x="1248.12" y="202.75" width="1.70" height="232.05" fill="#e2e2e2"/>
<rect x="1249.79" y="178.80" width="1.70" height="256.00" fill="#e2e2e2"/>
<rect x="1257.79" y="178.80" width="1.70" height="256.00" fill="#e2e2e2"/>
<rect x="1259.46" y="215.95" width="1.70" height="218.85" fill="#e2e2e2"/>
<rect x="1267.46" y="215.95" width="1.70" height="218.85" fill="#e2e2e2"/>
<rect x="1269.12" y="182.26" width="1.70" height="252.54" fill="#e2e2e2"/>
<rect x="1277.13" y="182.26" width="1.70" height="252.54" fill="#e2e2e2"/>
<rect x="1278.80" y="210.89" width="1.70" height="223.91" fill="#e2e2e2"/>
<rect x="1286.80" y="210.89" width="1.70" height="223.91" fill="#e2e2e2"/>
<rect x="1288.46" y="173.12" width="1.70" height="261.68" fill="#e2e2e2"/>
<rect x="1296.47" y="173.12" width="1.70" height="261.68" fill="#e2e2e2"/>
<rect x="1298.13" y="160.78" width="1.70" height="274.02" fill="#e2e2e2"/>
<rect x="1306.14" y="160.78" width="1.70" height="274.02" fill="#e2e2e2"/>
<rect x="1307.81" y="169.42" width="1.70" height="265.38" fill="#e2e2e2"/>
<rect x="1315.81" y="169.42" width="1.70" height="265.38" fill="#e2e2e2"/>
<rect x="1317.48" y="203.49" width="1.70" height="231.31" fill="#e2e2e2"/>
<rect x="1325.48" y="203.49" width="1.70" height="231.31" fill="#e2e2e2"/>
<rect x="1327.14" y="185.59" width="1.70" height="249.21" fill="#e2e2e2"/>
<rect x="1335.15" y="185.59" width="1.70" height="249.21" fill="#e2e2e2"/>
<rect x="1336.82" y="167.57" width="1.70" height="267.23" fill="#e2e2e2"/>
<rect x="1344.82" y="167.57" width="1.70" height="267.23" fill="#e2e2e2"/>
<rect x="1346.48" y="190.40" width="1.70" height="244.40" fill="#e2e2e2"/>
<rect x="1354.49" y="190.40" width="1.70" height="244.40" fill="#e2e2e2"/>
<rect x="1356.15" y="190.16" width="1.70" height="244.64" fill="#e2e2e2"/>
<rect x="1364.16" y="190.16" width="1.70" height="244.64" fill="#e2e2e2"/>
<rect x="1365.83" y="206.70" width="1.70" height="228.10" fill="#e2e2e2"/>
<rect x="1373.83" y="206.70" width="1.70" height="228.10" fill="#e2e2e2"/>
<rect x="1375.50" y="202.99" width="1.70" height="231.81" fill="#e2e2e2"/>
<rect x="1383.50" y="202.99" width="1.70" height="231.81" fill="#e2e2e2"/>
<rect x="1385.16" y="196.08" width="1.70" height="238.72" fill="#e2e2e2"/>
<rect x="1393.17" y="196.08" width="1.70" height="238.72" fill="#e2e2e2"/>
<rect x="1394.84" y="196.33" width="1.70" height="238.47" fill="#e2e2e2"/>
<rect x="1402.84" y="196.33" width="1.70" height="238.47" fill="#e2e2e2"/>
<rect x="1404.50" y="178.31" width="1.70" height="256.49" fill="#e2e2e2"/>
<rect x="1412.51" y="178.31" width="1.70" height="256.49" fill="#e2e2e2"/>
<rect x="1414.17" y="188.43" width="1.70" height="246.37" fill="#e2e2e2"/>
<rect x="1422.18" y="188.43" width="1.70" height="246.37" fill="#e2e2e2"/>
<rect x="1423.85" y="189.41" width="1.70" height="245.39" fill="#e2e2e2"/>
<rect x="1431.85" y="189.41" width="1.70" height="245.39" fill="#e2e2e2"/>
<rect x="1433.52" y="190.40" width="1.70" height="244.40" fill="#e2e2e2"/>
<rect x="1441.52" y="190.40" width="1.70" height="244.40" fill="#e2e2e2"/>
<rect x="942.20" y="286.68" width="6.15" height="148.12" fill="#5e5e5e"/>
<rect x="951.72" y="292.11" width="6.30" height="142.69" fill="#5e5e5e"/>
<rect x="961.39" y="283.47" width="6.30" height="151.33" fill="#5e5e5e"/>
<rect x="971.06" y="250.14" width="6.30" height="184.66" fill="#5e5e5e"/>
<rect x="980.73" y="291.37" width="6.30" height="143.43" fill="#5e5e5e"/>
<rect x="990.40" y="271.13" width="6.30" height="163.67" fill="#5e5e5e"/>
<rect x="1000.07" y="250.64" width="6.30" height="184.16" fill="#5e5e5e"/>
<rect x="1009.74" y="280.76" width="6.30" height="154.04" fill="#5e5e5e"/>
<rect x="1019.41" y="294.33" width="6.30" height="140.47" fill="#5e5e5e"/>
<rect x="1029.08" y="289.15" width="6.30" height="145.65" fill="#5e5e5e"/>
<rect x="1038.75" y="226.94" width="6.30" height="207.86" fill="#5e5e5e"/>
<rect x="1048.42" y="241.50" width="6.30" height="193.30" fill="#5e5e5e"/>
<rect x="1058.09" y="317.54" width="6.30" height="117.26" fill="#5e5e5e"/>
<rect x="1067.76" y="260.76" width="6.30" height="174.04" fill="#5e5e5e"/>
<rect x="1077.43" y="246.69" width="6.30" height="188.11" fill="#5e5e5e"/>
<rect x="1087.10" y="241.50" width="6.30" height="193.30" fill="#5e5e5e"/>
<rect x="1096.77" y="242.74" width="6.30" height="192.06" fill="#5e5e5e"/>
<rect x="1106.44" y="242.74" width="6.30" height="192.06" fill="#5e5e5e"/>
<rect x="1116.11" y="189.41" width="6.30" height="245.39" fill="#5e5e5e"/>
<rect x="1125.78" y="219.29" width="6.30" height="215.51" fill="#5e5e5e"/>
<rect x="1135.45" y="200.03" width="6.30" height="234.77" fill="#5e5e5e"/>
<rect x="1145.12" y="202.99" width="6.30" height="231.81" fill="#5e5e5e"/>
<rect x="1154.79" y="205.21" width="6.30" height="229.59" fill="#5e5e5e"/>
<rect x="1164.46" y="205.71" width="6.30" height="229.09" fill="#5e5e5e"/>
<rect x="1174.13" y="189.91" width="6.30" height="244.89" fill="#5e5e5e"/>
<rect x="1183.80" y="188.18" width="6.30" height="246.62" fill="#5e5e5e"/>
<rect x="1193.47" y="200.03" width="6.30" height="234.77" fill="#5e5e5e"/>
<rect x="1203.14" y="225.70" width="6.30" height="209.10" fill="#5e5e5e"/>
<rect x="1212.81" y="231.88" width="6.30" height="202.92" fill="#5e5e5e"/>
<rect x="1222.48" y="241.01" width="6.30" height="193.79" fill="#5e5e5e"/>
<rect x="1232.15" y="216.08" width="6.30" height="218.72" fill="#5e5e5e"/>
<rect x="1241.82" y="229.65" width="6.30" height="205.15" fill="#5e5e5e"/>
<rect x="1251.49" y="207.93" width="6.30" height="226.87" fill="#5e5e5e"/>
<rect x="1261.16" y="253.85" width="6.30" height="180.95" fill="#5e5e5e"/>
<rect x="1270.83" y="220.52" width="6.30" height="214.28" fill="#5e5e5e"/>
<rect x="1280.50" y="225.70" width="6.30" height="209.10" fill="#5e5e5e"/>
<rect x="1290.17" y="209.66" width="6.30" height="225.14" fill="#5e5e5e"/>
<rect x="1299.84" y="187.19" width="6.30" height="247.61" fill="#5e5e5e"/>
<rect x="1309.51" y="190.40" width="6.30" height="244.40" fill="#5e5e5e"/>
<rect x="1319.18" y="233.60" width="6.30" height="201.20" fill="#5e5e5e"/>
<rect x="1328.85" y="194.35" width="6.30" height="240.45" fill="#5e5e5e"/>
<rect x="1338.52" y="195.09" width="6.30" height="239.71" fill="#5e5e5e"/>
<rect x="1348.19" y="209.66" width="6.30" height="225.14" fill="#5e5e5e"/>
<rect x="1357.86" y="213.61" width="6.30" height="221.19" fill="#5e5e5e"/>
<rect x="1367.53" y="247.18" width="6.30" height="187.62" fill="#5e5e5e"/>
<rect x="1377.20" y="239.28" width="6.30" height="195.52" fill="#5e5e5e"/>
<rect x="1386.87" y="209.66" width="6.30" height="225.14" fill="#5e5e5e"/>
<rect x="1396.54" y="223.24" width="6.30" height="211.56" fill="#5e5e5e"/>
<rect x="1406.21" y="215.34" width="6.30" height="219.46" fill="#5e5e5e"/>
<rect x="1415.88" y="226.69" width="6.30" height="208.11" fill="#5e5e5e"/>
<rect x="1425.55" y="220.03" width="6.30" height="214.77" fill="#5e5e5e"/>
<rect x="1435.22" y="190.40" width="6.30" height="244.40" fill="#5e5e5e"/>
</g>
<rect x="943.35" y="237.31" width="3.70" height="49.37" fill="#000"/>
<rect x="942.20" y="235.66" width="13.50" height="3.30" fill="#000"/>
<rect x="942.20" y="285.03" width="13.50" height="3.30" fill="#000"/>
<rect x="953.02" y="217.80" width="3.70" height="74.31" fill="#000"/>
<rect x="944.37" y="216.15" width="21.00" height="3.30" fill="#000"/>
<rect x="944.37" y="290.46" width="21.00" height="3.30" fill="#000"/>
<rect x="962.69" y="241.01" width="3.70" height="42.46" fill="#000"/>
<rect x="954.04" y="239.36" width="21.00" height="3.30" fill="#000"/>
<rect x="954.04" y="281.82" width="21.00" height="3.30" fill="#000"/>
<rect x="972.36" y="192.38" width="3.70" height="57.77" fill="#000"/>
<rect x="963.71" y="190.73" width="21.00" height="3.30" fill="#000"/>
<rect x="963.71" y="248.49" width="21.00" height="3.30" fill="#000"/>
<rect x="982.03" y="226.94" width="3.70" height="64.43" fill="#000"/>
<rect x="973.38" y="225.29" width="21.00" height="3.30" fill="#000"/>
<rect x="973.38" y="289.72" width="21.00" height="3.30" fill="#000"/>
<rect x="991.70" y="215.58" width="3.70" height="55.54" fill="#000"/>
<rect x="983.05" y="213.93" width="21.00" height="3.30" fill="#000"/>
<rect x="983.05" y="269.48" width="21.00" height="3.30" fill="#000"/>
<rect x="1001.37" y="186.70" width="3.70" height="63.94" fill="#000"/>
<rect x="992.72" y="185.05" width="21.00" height="3.30" fill="#000"/>
<rect x="992.72" y="248.99" width="21.00" height="3.30" fill="#000"/>
<rect x="1011.04" y="225.70" width="3.70" height="55.05" fill="#000"/>
<rect x="1002.39" y="224.05" width="21.00" height="3.30" fill="#000"/>
<rect x="1002.39" y="279.11" width="21.00" height="3.30" fill="#000"/>
<rect x="1020.71" y="245.70" width="3.70" height="48.63" fill="#000"/>
<rect x="1012.06" y="244.05" width="21.00" height="3.30" fill="#000"/>
<rect x="1012.06" y="292.68" width="21.00" height="3.30" fill="#000"/>
<rect x="1030.38" y="251.87" width="3.70" height="37.28" fill="#000"/>
<rect x="1021.73" y="250.22" width="21.00" height="3.30" fill="#000"/>
<rect x="1021.73" y="287.50" width="21.00" height="3.30" fill="#000"/>
<rect x="1040.05" y="208.67" width="3.70" height="18.27" fill="#000"/>
<rect x="1031.40" y="207.02" width="21.00" height="3.30" fill="#000"/>
<rect x="1031.40" y="225.29" width="21.00" height="3.30" fill="#000"/>
<rect x="1049.72" y="222.99" width="3.70" height="18.51" fill="#000"/>
<rect x="1041.07" y="221.34" width="21.00" height="3.30" fill="#000"/>
<rect x="1041.07" y="239.85" width="21.00" height="3.30" fill="#000"/>
<rect x="1059.39" y="228.67" width="3.70" height="88.87" fill="#000"/>
<rect x="1050.74" y="227.02" width="21.00" height="3.30" fill="#000"/>
<rect x="1050.74" y="315.89" width="21.00" height="3.30" fill="#000"/>
<rect x="1069.06" y="190.65" width="3.70" height="70.11" fill="#000"/>
<rect x="1060.41" y="189.00" width="21.00" height="3.30" fill="#000"/>
<rect x="1060.41" y="259.11" width="21.00" height="3.30" fill="#000"/>
<rect x="1078.73" y="224.72" width="3.70" height="21.97" fill="#000"/>
<rect x="1070.08" y="223.07" width="21.00" height="3.30" fill="#000"/>
<rect x="1070.08" y="245.04" width="21.00" height="3.30" fill="#000"/>
<rect x="1088.40" y="188.43" width="3.70" height="53.08" fill="#000"/>
<rect x="1079.75" y="186.78" width="21.00" height="3.30" fill="#000"/>
<rect x="1079.75" y="239.85" width="21.00" height="3.30" fill="#000"/>
<rect x="1098.07" y="164.48" width="3.70" height="78.26" fill="#000"/>
<rect x="1089.42" y="162.83" width="21.00" height="3.30" fill="#000"/>
<rect x="1089.42" y="241.09" width="21.00" height="3.30" fill="#000"/>
<rect x="1107.74" y="172.38" width="3.70" height="70.36" fill="#000"/>
<rect x="1099.09" y="170.73" width="21.00" height="3.30" fill="#000"/>
<rect x="1099.09" y="241.09" width="21.00" height="3.30" fill="#000"/>
<rect x="1117.41" y="142.26" width="3.70" height="47.15" fill="#000"/>
<rect x="1108.76" y="140.61" width="21.00" height="3.30" fill="#000"/>
<rect x="1108.76" y="187.76" width="21.00" height="3.30" fill="#000"/>
<rect x="1127.08" y="161.52" width="3.70" height="57.77" fill="#000"/>
<rect x="1118.43" y="159.87" width="21.00" height="3.30" fill="#000"/>
<rect x="1118.43" y="217.64" width="21.00" height="3.30" fill="#000"/>
<rect x="1136.75" y="154.85" width="3.70" height="45.18" fill="#000"/>
<rect x="1128.10" y="153.20" width="21.00" height="3.30" fill="#000"/>
<rect x="1128.10" y="198.38" width="21.00" height="3.30" fill="#000"/>
<rect x="1146.42" y="147.94" width="3.70" height="55.05" fill="#000"/>
<rect x="1137.77" y="146.29" width="21.00" height="3.30" fill="#000"/>
<rect x="1137.77" y="201.34" width="21.00" height="3.30" fill="#000"/>
<rect x="1156.09" y="175.10" width="3.70" height="30.12" fill="#000"/>
<rect x="1147.44" y="173.45" width="21.00" height="3.30" fill="#000"/>
<rect x="1147.44" y="203.56" width="21.00" height="3.30" fill="#000"/>
<rect x="1165.76" y="160.53" width="3.70" height="45.18" fill="#000"/>
<rect x="1157.11" y="158.88" width="21.00" height="3.30" fill="#000"/>
<rect x="1157.11" y="204.06" width="21.00" height="3.30" fill="#000"/>
<rect x="1175.43" y="165.47" width="3.70" height="24.44" fill="#000"/>
<rect x="1166.78" y="163.82" width="21.00" height="3.30" fill="#000"/>
<rect x="1166.78" y="188.26" width="21.00" height="3.30" fill="#000"/>
<rect x="1185.10" y="166.70" width="3.70" height="21.48" fill="#000"/>
<rect x="1176.45" y="165.05" width="21.00" height="3.30" fill="#000"/>
<rect x="1176.45" y="186.53" width="21.00" height="3.30" fill="#000"/>
<rect x="1194.77" y="134.86" width="3.70" height="65.17" fill="#000"/>
<rect x="1186.12" y="133.21" width="21.00" height="3.30" fill="#000"/>
<rect x="1186.12" y="198.38" width="21.00" height="3.30" fill="#000"/>
<rect x="1204.44" y="172.87" width="3.70" height="52.83" fill="#000"/>
<rect x="1195.79" y="171.22" width="21.00" height="3.30" fill="#000"/>
<rect x="1195.79" y="224.05" width="21.00" height="3.30" fill="#000"/>
<rect x="1214.11" y="191.64" width="3.70" height="40.24" fill="#000"/>
<rect x="1205.46" y="189.99" width="21.00" height="3.30" fill="#000"/>
<rect x="1205.46" y="230.23" width="21.00" height="3.30" fill="#000"/>
<rect x="1223.78" y="168.43" width="3.70" height="72.58" fill="#000"/>
<rect x="1215.13" y="166.78" width="21.00" height="3.30" fill="#000"/>
<rect x="1215.13" y="239.36" width="21.00" height="3.30" fill="#000"/>
<rect x="1233.45" y="191.64" width="3.70" height="24.44" fill="#000"/>
<rect x="1224.80" y="189.99" width="21.00" height="3.30" fill="#000"/>
<rect x="1224.80" y="214.43" width="21.00" height="3.30" fill="#000"/>
<rect x="1243.12" y="175.84" width="3.70" height="53.82" fill="#000"/>
<rect x="1234.47" y="174.19" width="21.00" height="3.30" fill="#000"/>
<rect x="1234.47" y="228.00" width="21.00" height="3.30" fill="#000"/>
<rect x="1252.79" y="149.67" width="3.70" height="58.26" fill="#000"/>
<rect x="1244.14" y="148.02" width="21.00" height="3.30" fill="#000"/>
<rect x="1244.14" y="206.28" width="21.00" height="3.30" fill="#000"/>
<rect x="1262.46" y="178.06" width="3.70" height="75.79" fill="#000"/>
<rect x="1253.81" y="176.41" width="21.00" height="3.30" fill="#000"/>
<rect x="1253.81" y="252.20" width="21.00" height="3.30" fill="#000"/>
<rect x="1272.13" y="143.99" width="3.70" height="76.53" fill="#000"/>
<rect x="1263.48" y="142.34" width="21.00" height="3.30" fill="#000"/>
<rect x="1263.48" y="218.87" width="21.00" height="3.30" fill="#000"/>
<rect x="1281.80" y="196.08" width="3.70" height="29.62" fill="#000"/>
<rect x="1273.15" y="194.43" width="21.00" height="3.30" fill="#000"/>
<rect x="1273.15" y="224.05" width="21.00" height="3.30" fill="#000"/>
<rect x="1291.47" y="136.59" width="3.70" height="73.07" fill="#000"/>
<rect x="1282.82" y="134.94" width="21.00" height="3.30" fill="#000"/>
<rect x="1282.82" y="208.01" width="21.00" height="3.30" fill="#000"/>
<rect x="1301.14" y="134.36" width="3.70" height="52.83" fill="#000"/>
<rect x="1292.49" y="132.71" width="21.00" height="3.30" fill="#000"/>
<rect x="1292.49" y="185.54" width="21.00" height="3.30" fill="#000"/>
<rect x="1310.81" y="148.43" width="3.70" height="41.97" fill="#000"/>
<rect x="1302.16" y="146.78" width="21.00" height="3.30" fill="#000"/>
<rect x="1302.16" y="188.75" width="21.00" height="3.30" fill="#000"/>
<rect x="1320.48" y="173.37" width="3.70" height="60.24" fill="#000"/>
<rect x="1311.83" y="171.72" width="21.00" height="3.30" fill="#000"/>
<rect x="1311.83" y="231.95" width="21.00" height="3.30" fill="#000"/>
<rect x="1330.15" y="176.82" width="3.70" height="17.53" fill="#000"/>
<rect x="1321.50" y="175.17" width="21.00" height="3.30" fill="#000"/>
<rect x="1321.50" y="192.70" width="21.00" height="3.30" fill="#000"/>
<rect x="1339.82" y="140.04" width="3.70" height="55.05" fill="#000"/>
<rect x="1331.17" y="138.39" width="21.00" height="3.30" fill="#000"/>
<rect x="1331.17" y="193.44" width="21.00" height="3.30" fill="#000"/>
<rect x="1349.49" y="171.15" width="3.70" height="38.51" fill="#000"/>
<rect x="1340.84" y="169.50" width="21.00" height="3.30" fill="#000"/>
<rect x="1340.84" y="208.01" width="21.00" height="3.30" fill="#000"/>
<rect x="1359.16" y="166.70" width="3.70" height="46.90" fill="#000"/>
<rect x="1350.51" y="165.05" width="21.00" height="3.30" fill="#000"/>
<rect x="1350.51" y="211.96" width="21.00" height="3.30" fill="#000"/>
<rect x="1368.83" y="166.21" width="3.70" height="80.97" fill="#000"/>
<rect x="1360.18" y="164.56" width="21.00" height="3.30" fill="#000"/>
<rect x="1360.18" y="245.53" width="21.00" height="3.30" fill="#000"/>
<rect x="1378.50" y="166.70" width="3.70" height="72.58" fill="#000"/>
<rect x="1369.85" y="165.05" width="21.00" height="3.30" fill="#000"/>
<rect x="1369.85" y="237.63" width="21.00" height="3.30" fill="#000"/>
<rect x="1388.17" y="182.50" width="3.70" height="27.16" fill="#000"/>
<rect x="1379.52" y="180.85" width="21.00" height="3.30" fill="#000"/>
<rect x="1379.52" y="208.01" width="21.00" height="3.30" fill="#000"/>
<rect x="1397.84" y="169.42" width="3.70" height="53.82" fill="#000"/>
<rect x="1389.19" y="167.77" width="21.00" height="3.30" fill="#000"/>
<rect x="1389.19" y="221.59" width="21.00" height="3.30" fill="#000"/>
<rect x="1407.51" y="141.28" width="3.70" height="74.06" fill="#000"/>
<rect x="1398.86" y="139.63" width="21.00" height="3.30" fill="#000"/>
<rect x="1398.86" y="213.69" width="21.00" height="3.30" fill="#000"/>
<rect x="1417.18" y="150.16" width="3.70" height="76.53" fill="#000"/>
<rect x="1408.53" y="148.51" width="21.00" height="3.30" fill="#000"/>
<rect x="1408.53" y="225.04" width="21.00" height="3.30" fill="#000"/>
<rect x="1426.85" y="158.80" width="3.70" height="61.22" fill="#000"/>
<rect x="1418.20" y="157.15" width="21.00" height="3.30" fill="#000"/>
<rect x="1418.20" y="218.38" width="21.00" height="3.30" fill="#000"/>
<rect x="942.20" y="63.50" width="5.60" height="374.20" fill="#000"/>
<rect x="932.50" y="431.90" width="506.50" height="5.80" fill="#000"/>
<rect x="932.50" y="432.20" width="12.50" height="5.20" fill="#000"/>
<rect x="932.50" y="308.77" width="12.50" height="5.20" fill="#000"/>
<rect x="932.50" y="185.33" width="12.50" height="5.20" fill="#000"/>
<rect x="932.50" y="61.90" width="12.50" height="5.20" fill="#000"/>
<rect x="942.20" y="434.80" width="5.60" height="11.80" fill="#000"/>
<rect x="1038.90" y="434.80" width="5.60" height="11.80" fill="#000"/>
<rect x="1135.60" y="434.80" width="5.60" height="11.80" fill="#000"/>
<rect x="1232.30" y="434.80" width="5.60" height="11.80" fill="#000"/>
<rect x="1329.00" y="434.80" width="5.60" height="11.80" fill="#000"/>
<rect x="1425.70" y="434.80" width="5.60" height="11.80" fill="#000"/>
<text transform="translate(882.00,445.90) scale(0.35527,0.34000)" font-weight="700">0</text>
<text transform="translate(862.29,322.47) scale(0.35527,0.34000)" font-weight="700">50</text>
<text transform="translate(842.57,199.03) scale(0.35527,0.34000)" font-weight="700">100</text>
<text transform="translate(842.57,75.60) scale(0.35527,0.34000)" font-weight="700">150</text>
<text transform="translate(935.54,482.30) scale(0.35527,0.34000)" font-weight="700">0</text>
<text transform="translate(1032.15,482.30) scale(0.35527,0.34000)" font-weight="700">5</text>
<text transform="translate(1118.73,482.30) scale(0.35527,0.34000)" font-weight="700">10</text>
<text transform="translate(1215.16,482.30) scale(0.35527,0.34000)" font-weight="700">15</text>
<text transform="translate(1312.57,482.30) scale(0.35527,0.34000)" font-weight="700">20</text>
<text transform="translate(1409.00,482.30) scale(0.35527,0.34000)" font-weight="700">25</text>
<text transform="translate(1076.98,525.55) scale(0.43545,0.43724)" font-weight="400" stroke="#000" stroke-width="2.06" stroke-linejoin="round">Time (min)</text>
<text transform="translate(832.05,426.40) rotate(-90) scale(0.39320,0.41304)" font-weight="400" stroke="#000" stroke-width="1.74" stroke-linejoin="round">Events</text>
<text transform="translate(831.85,298.00) rotate(-90) scale(0.34191,0.33768)" font-weight="400" stroke="#000" stroke-width="2.06" stroke-linejoin="round">(mEPSCs/30s)</text>
<text transform="translate(797.96,40.00) scale(0.46721,0.50725)" font-weight="700">B</text>
<rect x="945.70" y="70.30" width="486.80" height="10.20" fill="#000"/>
<text transform="translate(1052.88,61.75) scale(0.39569,0.39275)" font-weight="400" stroke="#000" stroke-width="1.78" stroke-linejoin="round">BAPTA-AM</text>
<text transform="translate(1249.42,69.79) scale(0.27594,0.23007)" font-weight="400" stroke="#000" stroke-width="1.66" stroke-linejoin="round">int</text>
<rect x="1048.60" y="127.70" width="190.00" height="10.40" fill="#000"/>
<text transform="translate(1052.41,119.65) scale(0.34168,0.32143)" font-weight="400" stroke="#000" stroke-width="2.11" stroke-linejoin="round">SR58611A</text>
<g>
<rect x="180.85" y="770.89" width="1.70" height="176.51" fill="#e2e2e2"/>
<rect x="182.51" y="781.51" width="1.70" height="165.89" fill="#e2e2e2"/>
<rect x="190.52" y="781.51" width="1.70" height="165.89" fill="#e2e2e2"/>
<rect x="192.19" y="788.42" width="1.70" height="158.98" fill="#e2e2e2"/>
<rect x="200.19" y="788.42" width="1.70" height="158.98" fill="#e2e2e2"/>
<rect x="201.85" y="786.94" width="1.70" height="160.46" fill="#e2e2e2"/>
<rect x="209.86" y="786.94" width="1.70" height="160.46" fill="#e2e2e2"/>
<rect x="211.53" y="789.16" width="1.70" height="158.24" fill="#e2e2e2"/>
<rect x="219.53" y="789.16" width="1.70" height="158.24" fill="#e2e2e2"/>
<rect x="221.19" y="742.75" width="1.70" height="204.65" fill="#e2e2e2"/>
<rect x="229.20" y="742.75" width="1.70" height="204.65" fill="#e2e2e2"/>
<rect x="230.86" y="735.71" width="1.70" height="211.69" fill="#e2e2e2"/>
<rect x="238.87" y="735.71" width="1.70" height="211.69" fill="#e2e2e2"/>
<rect x="240.53" y="772.25" width="1.70" height="175.15" fill="#e2e2e2"/>
<rect x="248.54" y="772.25" width="1.70" height="175.15" fill="#e2e2e2"/>
<rect x="250.21" y="760.77" width="1.70" height="186.63" fill="#e2e2e2"/>
<rect x="258.21" y="760.77" width="1.71" height="186.63" fill="#e2e2e2"/>
<rect x="259.87" y="771.26" width="1.71" height="176.14" fill="#e2e2e2"/>
<rect x="267.88" y="771.26" width="1.71" height="176.14" fill="#e2e2e2"/>
<rect x="269.54" y="731.02" width="1.71" height="216.38" fill="#e2e2e2"/>
<rect x="277.55" y="731.02" width="1.71" height="216.38" fill="#e2e2e2"/>
<rect x="279.21" y="742.75" width="1.71" height="204.65" fill="#e2e2e2"/>
<rect x="287.22" y="742.75" width="1.71" height="204.65" fill="#e2e2e2"/>
<rect x="288.88" y="765.95" width="1.71" height="181.45" fill="#e2e2e2"/>
<rect x="296.89" y="765.95" width="1.71" height="181.45" fill="#e2e2e2"/>
<rect x="298.55" y="756.94" width="1.71" height="190.46" fill="#e2e2e2"/>
<rect x="306.56" y="756.94" width="1.71" height="190.46" fill="#e2e2e2"/>
<rect x="308.22" y="776.20" width="1.71" height="171.20" fill="#e2e2e2"/>
<rect x="316.23" y="776.20" width="1.71" height="171.20" fill="#e2e2e2"/>
<rect x="317.89" y="679.67" width="1.71" height="267.73" fill="#e2e2e2"/>
<rect x="325.90" y="679.67" width="1.71" height="267.73" fill="#e2e2e2"/>
<rect x="327.56" y="694.86" width="1.71" height="252.54" fill="#e2e2e2"/>
<rect x="335.57" y="694.86" width="1.71" height="252.54" fill="#e2e2e2"/>
<rect x="337.23" y="711.03" width="1.71" height="236.37" fill="#e2e2e2"/>
<rect x="345.24" y="711.03" width="1.71" height="236.37" fill="#e2e2e2"/>
<rect x="346.90" y="693.25" width="1.71" height="254.15" fill="#e2e2e2"/>
<rect x="354.91" y="693.25" width="1.71" height="254.15" fill="#e2e2e2"/>
<rect x="356.57" y="686.71" width="1.71" height="260.69" fill="#e2e2e2"/>
<rect x="364.58" y="686.71" width="1.71" height="260.69" fill="#e2e2e2"/>
<rect x="366.24" y="705.47" width="1.71" height="241.93" fill="#e2e2e2"/>
<rect x="374.25" y="705.47" width="1.71" height="241.93" fill="#e2e2e2"/>
<rect x="375.91" y="689.79" width="1.71" height="257.61" fill="#e2e2e2"/>
<rect x="383.92" y="689.79" width="1.71" height="257.61" fill="#e2e2e2"/>
<rect x="385.58" y="707.32" width="1.71" height="240.08" fill="#e2e2e2"/>
<rect x="393.59" y="707.32" width="1.71" height="240.08" fill="#e2e2e2"/>
<rect x="395.25" y="693.50" width="1.71" height="253.90" fill="#e2e2e2"/>
<rect x="403.26" y="693.50" width="1.71" height="253.90" fill="#e2e2e2"/>
<rect x="404.92" y="702.63" width="1.71" height="244.77" fill="#e2e2e2"/>
<rect x="412.93" y="702.63" width="1.71" height="244.77" fill="#e2e2e2"/>
<rect x="414.59" y="693.00" width="1.71" height="254.40" fill="#e2e2e2"/>
<rect x="422.60" y="693.00" width="1.71" height="254.40" fill="#e2e2e2"/>
<rect x="424.26" y="715.10" width="1.71" height="232.30" fill="#e2e2e2"/>
<rect x="432.27" y="715.10" width="1.71" height="232.30" fill="#e2e2e2"/>
<rect x="433.93" y="716.70" width="1.71" height="230.70" fill="#e2e2e2"/>
<rect x="441.94" y="716.70" width="1.71" height="230.70" fill="#e2e2e2"/>
<rect x="443.60" y="680.17" width="1.71" height="267.23" fill="#e2e2e2"/>
<rect x="451.61" y="680.17" width="1.71" height="267.23" fill="#e2e2e2"/>
<rect x="453.27" y="721.52" width="1.71" height="225.88" fill="#e2e2e2"/>
<rect x="461.28" y="721.52" width="1.71" height="225.88" fill="#e2e2e2"/>
<rect x="462.94" y="686.22" width="1.71" height="261.18" fill="#e2e2e2"/>
<rect x="470.95" y="686.22" width="1.71" height="261.18" fill="#e2e2e2"/>
<rect x="472.61" y="724.11" width="1.71" height="223.29" fill="#e2e2e2"/>
<rect x="480.62" y="724.11" width="1.71" height="223.29" fill="#e2e2e2"/>
<rect x="482.28" y="680.17" width="1.71" height="267.23" fill="#e2e2e2"/>
<rect x="490.29" y="680.17" width="1.71" height="267.23" fill="#e2e2e2"/>
<rect x="491.95" y="686.71" width="1.71" height="260.69" fill="#e2e2e2"/>
<rect x="499.96" y="686.71" width="1.71" height="260.69" fill="#e2e2e2"/>
<rect x="501.62" y="697.45" width="1.71" height="249.95" fill="#e2e2e2"/>
<rect x="509.63" y="697.45" width="1.71" height="249.95" fill="#e2e2e2"/>
<rect x="511.30" y="685.23" width="1.71" height="262.17" fill="#e2e2e2"/>
<rect x="519.30" y="685.23" width="1.71" height="262.17" fill="#e2e2e2"/>
<rect x="520.97" y="720.90" width="1.71" height="226.50" fill="#e2e2e2"/>
<rect x="528.97" y="720.90" width="1.71" height="226.50" fill="#e2e2e2"/>
<rect x="530.63" y="679.55" width="1.71" height="267.85" fill="#e2e2e2"/>
<rect x="538.64" y="679.55" width="1.71" height="267.85" fill="#e2e2e2"/>
<rect x="540.31" y="683.62" width="1.71" height="263.78" fill="#e2e2e2"/>
<rect x="548.31" y="683.62" width="1.71" height="263.78" fill="#e2e2e2"/>
<rect x="549.98" y="718.18" width="1.71" height="229.22" fill="#e2e2e2"/>
<rect x="557.98" y="718.18" width="1.71" height="229.22" fill="#e2e2e2"/>
<rect x="559.64" y="674.74" width="1.71" height="272.66" fill="#e2e2e2"/>
<rect x="567.65" y="674.74" width="1.71" height="272.66" fill="#e2e2e2"/>
<rect x="569.32" y="690.04" width="1.71" height="257.36" fill="#e2e2e2"/>
<rect x="577.32" y="690.04" width="1.71" height="257.36" fill="#e2e2e2"/>
<rect x="578.99" y="724.97" width="1.71" height="222.43" fill="#e2e2e2"/>
<rect x="586.99" y="724.97" width="1.71" height="222.43" fill="#e2e2e2"/>
<rect x="588.65" y="687.82" width="1.71" height="259.58" fill="#e2e2e2"/>
<rect x="596.66" y="687.82" width="1.71" height="259.58" fill="#e2e2e2"/>
<rect x="598.33" y="706.58" width="1.71" height="240.82" fill="#e2e2e2"/>
<rect x="606.33" y="706.58" width="1.71" height="240.82" fill="#e2e2e2"/>
<rect x="608.00" y="694.98" width="1.71" height="252.42" fill="#e2e2e2"/>
<rect x="616.00" y="694.98" width="1.71" height="252.42" fill="#e2e2e2"/>
<rect x="617.66" y="686.09" width="1.71" height="261.31" fill="#e2e2e2"/>
<rect x="625.67" y="686.09" width="1.71" height="261.31" fill="#e2e2e2"/>
<rect x="627.34" y="720.65" width="1.71" height="226.75" fill="#e2e2e2"/>
<rect x="635.34" y="720.65" width="1.71" height="226.75" fill="#e2e2e2"/>
<rect x="637.00" y="706.09" width="1.71" height="241.31" fill="#e2e2e2"/>
<rect x="645.01" y="706.09" width="1.71" height="241.31" fill="#e2e2e2"/>
<rect x="646.67" y="722.13" width="1.71" height="225.27" fill="#e2e2e2"/>
<rect x="654.68" y="722.13" width="1.71" height="225.27" fill="#e2e2e2"/>
<rect x="656.35" y="684.12" width="1.71" height="263.28" fill="#e2e2e2"/>
<rect x="664.35" y="684.12" width="1.71" height="263.28" fill="#e2e2e2"/>
<rect x="666.02" y="727.69" width="1.71" height="219.71" fill="#e2e2e2"/>
<rect x="674.02" y="727.69" width="1.71" height="219.71" fill="#e2e2e2"/>
<rect x="174.70" y="800.76" width="6.15" height="146.64" fill="#5e5e5e"/>
<rect x="184.22" y="800.76" width="6.30" height="146.64" fill="#5e5e5e"/>
<rect x="193.89" y="800.76" width="6.30" height="146.64" fill="#5e5e5e"/>
<rect x="203.56" y="801.25" width="6.30" height="146.15" fill="#5e5e5e"/>
<rect x="213.23" y="802.24" width="6.30" height="145.16" fill="#5e5e5e"/>
<rect x="222.90" y="765.71" width="6.30" height="181.69" fill="#5e5e5e"/>
<rect x="232.57" y="759.53" width="6.30" height="187.87" fill="#5e5e5e"/>
<rect x="242.24" y="804.71" width="6.30" height="142.69" fill="#5e5e5e"/>
<rect x="251.91" y="790.39" width="6.30" height="157.01" fill="#5e5e5e"/>
<rect x="261.58" y="796.81" width="6.30" height="150.59" fill="#5e5e5e"/>
<rect x="271.25" y="743.49" width="6.30" height="203.91" fill="#5e5e5e"/>
<rect x="280.92" y="762.25" width="6.30" height="185.15" fill="#5e5e5e"/>
<rect x="290.59" y="802.00" width="6.30" height="145.40" fill="#5e5e5e"/>
<rect x="300.26" y="774.59" width="6.30" height="172.81" fill="#5e5e5e"/>
<rect x="309.93" y="803.97" width="6.30" height="143.43" fill="#5e5e5e"/>
<rect x="319.60" y="690.16" width="6.30" height="257.24" fill="#5e5e5e"/>
<rect x="329.27" y="740.53" width="6.30" height="206.87" fill="#5e5e5e"/>
<rect x="338.94" y="753.61" width="6.30" height="193.79" fill="#5e5e5e"/>
<rect x="348.61" y="717.32" width="6.30" height="230.08" fill="#5e5e5e"/>
<rect x="358.28" y="695.84" width="6.30" height="251.56" fill="#5e5e5e"/>
<rect x="367.95" y="717.81" width="6.30" height="229.59" fill="#5e5e5e"/>
<rect x="377.62" y="725.22" width="6.30" height="222.18" fill="#5e5e5e"/>
<rect x="387.29" y="742.75" width="6.30" height="204.65" fill="#5e5e5e"/>
<rect x="396.96" y="708.19" width="6.30" height="239.21" fill="#5e5e5e"/>
<rect x="406.63" y="726.45" width="6.30" height="220.95" fill="#5e5e5e"/>
<rect x="416.30" y="726.45" width="6.30" height="220.95" fill="#5e5e5e"/>
<rect x="425.97" y="747.44" width="6.30" height="199.96" fill="#5e5e5e"/>
<rect x="435.64" y="725.22" width="6.30" height="222.18" fill="#5e5e5e"/>
<rect x="445.31" y="703.00" width="6.30" height="244.40" fill="#5e5e5e"/>
<rect x="454.98" y="740.03" width="6.30" height="207.37" fill="#5e5e5e"/>
<rect x="464.65" y="695.84" width="6.30" height="251.56" fill="#5e5e5e"/>
<rect x="474.32" y="742.75" width="6.30" height="204.65" fill="#5e5e5e"/>
<rect x="483.99" y="689.42" width="6.30" height="257.98" fill="#5e5e5e"/>
<rect x="493.66" y="722.50" width="6.30" height="224.90" fill="#5e5e5e"/>
<rect x="503.33" y="717.81" width="6.30" height="229.59" fill="#5e5e5e"/>
<rect x="513.00" y="719.54" width="6.30" height="227.86" fill="#5e5e5e"/>
<rect x="522.67" y="739.29" width="6.30" height="208.11" fill="#5e5e5e"/>
<rect x="532.34" y="702.51" width="6.30" height="244.89" fill="#5e5e5e"/>
<rect x="542.01" y="691.89" width="6.30" height="255.51" fill="#5e5e5e"/>
<rect x="551.68" y="755.34" width="6.30" height="192.06" fill="#5e5e5e"/>
<rect x="561.35" y="713.86" width="6.30" height="233.54" fill="#5e5e5e"/>
<rect x="571.02" y="727.44" width="6.30" height="219.96" fill="#5e5e5e"/>
<rect x="580.69" y="734.85" width="6.30" height="212.55" fill="#5e5e5e"/>
<rect x="590.36" y="708.68" width="6.30" height="238.72" fill="#5e5e5e"/>
<rect x="600.03" y="745.71" width="6.30" height="201.69" fill="#5e5e5e"/>
<rect x="609.70" y="722.50" width="6.30" height="224.90" fill="#5e5e5e"/>
<rect x="619.37" y="704.73" width="6.30" height="242.67" fill="#5e5e5e"/>
<rect x="629.04" y="730.90" width="6.30" height="216.50" fill="#5e5e5e"/>
<rect x="638.71" y="730.16" width="6.30" height="217.24" fill="#5e5e5e"/>
<rect x="648.38" y="736.08" width="6.30" height="211.32" fill="#5e5e5e"/>
<rect x="658.05" y="715.10" width="6.30" height="232.30" fill="#5e5e5e"/>
<rect x="667.72" y="727.69" width="6.30" height="219.71" fill="#5e5e5e"/>
</g>
<rect x="175.85" y="741.02" width="3.70" height="59.74" fill="#000"/>
<rect x="174.70" y="739.37" width="13.50" height="3.30" fill="#000"/>
<rect x="174.70" y="799.11" width="13.50" height="3.30" fill="#000"/>
<rect x="185.52" y="762.25" width="3.70" height="38.51" fill="#000"/>
<rect x="176.87" y="760.60" width="21.00" height="3.30" fill="#000"/>
<rect x="176.87" y="799.11" width="21.00" height="3.30" fill="#000"/>
<rect x="195.19" y="776.07" width="3.70" height="24.69" fill="#000"/>
<rect x="186.54" y="774.42" width="21.00" height="3.30" fill="#000"/>
<rect x="186.54" y="799.11" width="21.00" height="3.30" fill="#000"/>
<rect x="204.86" y="772.62" width="3.70" height="28.64" fill="#000"/>
<rect x="196.21" y="770.97" width="21.00" height="3.30" fill="#000"/>
<rect x="196.21" y="799.60" width="21.00" height="3.30" fill="#000"/>
<rect x="214.53" y="776.07" width="3.70" height="26.17" fill="#000"/>
<rect x="205.88" y="774.42" width="21.00" height="3.30" fill="#000"/>
<rect x="205.88" y="800.59" width="21.00" height="3.30" fill="#000"/>
<rect x="224.20" y="719.79" width="3.70" height="45.92" fill="#000"/>
<rect x="215.55" y="718.14" width="21.00" height="3.30" fill="#000"/>
<rect x="215.55" y="764.06" width="21.00" height="3.30" fill="#000"/>
<rect x="233.87" y="711.89" width="3.70" height="47.65" fill="#000"/>
<rect x="225.22" y="710.24" width="21.00" height="3.30" fill="#000"/>
<rect x="225.22" y="757.88" width="21.00" height="3.30" fill="#000"/>
<rect x="243.54" y="739.79" width="3.70" height="64.93" fill="#000"/>
<rect x="234.89" y="738.14" width="21.00" height="3.30" fill="#000"/>
<rect x="234.89" y="803.06" width="21.00" height="3.30" fill="#000"/>
<rect x="253.21" y="731.14" width="3.70" height="59.25" fill="#000"/>
<rect x="244.56" y="729.49" width="21.00" height="3.30" fill="#000"/>
<rect x="244.56" y="788.74" width="21.00" height="3.30" fill="#000"/>
<rect x="262.88" y="745.71" width="3.70" height="51.10" fill="#000"/>
<rect x="254.23" y="744.06" width="21.00" height="3.30" fill="#000"/>
<rect x="254.23" y="795.16" width="21.00" height="3.30" fill="#000"/>
<rect x="272.55" y="718.55" width="3.70" height="24.93" fill="#000"/>
<rect x="263.90" y="716.90" width="21.00" height="3.30" fill="#000"/>
<rect x="263.90" y="741.84" width="21.00" height="3.30" fill="#000"/>
<rect x="282.22" y="723.25" width="3.70" height="39.00" fill="#000"/>
<rect x="273.57" y="721.60" width="21.00" height="3.30" fill="#000"/>
<rect x="273.57" y="760.60" width="21.00" height="3.30" fill="#000"/>
<rect x="291.89" y="729.91" width="3.70" height="72.09" fill="#000"/>
<rect x="283.24" y="728.26" width="21.00" height="3.30" fill="#000"/>
<rect x="283.24" y="800.35" width="21.00" height="3.30" fill="#000"/>
<rect x="301.56" y="739.29" width="3.70" height="35.30" fill="#000"/>
<rect x="292.91" y="737.64" width="21.00" height="3.30" fill="#000"/>
<rect x="292.91" y="772.94" width="21.00" height="3.30" fill="#000"/>
<rect x="311.23" y="748.43" width="3.70" height="55.54" fill="#000"/>
<rect x="302.58" y="746.78" width="21.00" height="3.30" fill="#000"/>
<rect x="302.58" y="802.32" width="21.00" height="3.30" fill="#000"/>
<rect x="320.90" y="669.18" width="3.70" height="20.98" fill="#000"/>
<rect x="312.25" y="667.53" width="21.00" height="3.30" fill="#000"/>
<rect x="312.25" y="688.51" width="21.00" height="3.30" fill="#000"/>
<rect x="330.57" y="649.19" width="3.70" height="91.34" fill="#000"/>
<rect x="321.92" y="647.54" width="21.00" height="3.30" fill="#000"/>
<rect x="321.92" y="738.88" width="21.00" height="3.30" fill="#000"/>
<rect x="340.24" y="668.44" width="3.70" height="85.17" fill="#000"/>
<rect x="331.59" y="666.79" width="21.00" height="3.30" fill="#000"/>
<rect x="331.59" y="751.96" width="21.00" height="3.30" fill="#000"/>
<rect x="349.91" y="669.18" width="3.70" height="48.14" fill="#000"/>
<rect x="341.26" y="667.53" width="21.00" height="3.30" fill="#000"/>
<rect x="341.26" y="715.67" width="21.00" height="3.30" fill="#000"/>
<rect x="359.58" y="677.57" width="3.70" height="18.27" fill="#000"/>
<rect x="350.93" y="675.92" width="21.00" height="3.30" fill="#000"/>
<rect x="350.93" y="694.19" width="21.00" height="3.30" fill="#000"/>
<rect x="369.25" y="693.13" width="3.70" height="24.69" fill="#000"/>
<rect x="360.60" y="691.48" width="21.00" height="3.30" fill="#000"/>
<rect x="360.60" y="716.16" width="21.00" height="3.30" fill="#000"/>
<rect x="378.92" y="654.37" width="3.70" height="70.85" fill="#000"/>
<rect x="370.27" y="652.72" width="21.00" height="3.30" fill="#000"/>
<rect x="370.27" y="723.57" width="21.00" height="3.30" fill="#000"/>
<rect x="388.59" y="671.90" width="3.70" height="70.85" fill="#000"/>
<rect x="379.94" y="670.25" width="21.00" height="3.30" fill="#000"/>
<rect x="379.94" y="741.10" width="21.00" height="3.30" fill="#000"/>
<rect x="398.26" y="678.81" width="3.70" height="29.38" fill="#000"/>
<rect x="389.61" y="677.16" width="21.00" height="3.30" fill="#000"/>
<rect x="389.61" y="706.54" width="21.00" height="3.30" fill="#000"/>
<rect x="407.93" y="678.81" width="3.70" height="47.65" fill="#000"/>
<rect x="399.28" y="677.16" width="21.00" height="3.30" fill="#000"/>
<rect x="399.28" y="724.80" width="21.00" height="3.30" fill="#000"/>
<rect x="417.60" y="659.55" width="3.70" height="66.90" fill="#000"/>
<rect x="408.95" y="657.90" width="21.00" height="3.30" fill="#000"/>
<rect x="408.95" y="724.80" width="21.00" height="3.30" fill="#000"/>
<rect x="427.27" y="682.76" width="3.70" height="64.68" fill="#000"/>
<rect x="418.62" y="681.11" width="21.00" height="3.30" fill="#000"/>
<rect x="418.62" y="745.79" width="21.00" height="3.30" fill="#000"/>
<rect x="436.94" y="708.19" width="3.70" height="17.03" fill="#000"/>
<rect x="428.29" y="706.54" width="21.00" height="3.30" fill="#000"/>
<rect x="428.29" y="723.57" width="21.00" height="3.30" fill="#000"/>
<rect x="446.61" y="657.33" width="3.70" height="45.67" fill="#000"/>
<rect x="437.96" y="655.68" width="21.00" height="3.30" fill="#000"/>
<rect x="437.96" y="701.35" width="21.00" height="3.30" fill="#000"/>
<rect x="456.28" y="703.00" width="3.70" height="37.03" fill="#000"/>
<rect x="447.63" y="701.35" width="21.00" height="3.30" fill="#000"/>
<rect x="447.63" y="738.38" width="21.00" height="3.30" fill="#000"/>
<rect x="465.95" y="676.59" width="3.70" height="19.26" fill="#000"/>
<rect x="457.30" y="674.94" width="21.00" height="3.30" fill="#000"/>
<rect x="457.30" y="694.19" width="21.00" height="3.30" fill="#000"/>
<rect x="475.62" y="705.47" width="3.70" height="37.28" fill="#000"/>
<rect x="466.97" y="703.82" width="21.00" height="3.30" fill="#000"/>
<rect x="466.97" y="741.10" width="21.00" height="3.30" fill="#000"/>
<rect x="485.29" y="670.91" width="3.70" height="18.52" fill="#000"/>
<rect x="476.64" y="669.26" width="21.00" height="3.30" fill="#000"/>
<rect x="476.64" y="687.77" width="21.00" height="3.30" fill="#000"/>
<rect x="494.96" y="650.91" width="3.70" height="71.59" fill="#000"/>
<rect x="486.31" y="649.26" width="21.00" height="3.30" fill="#000"/>
<rect x="486.31" y="720.85" width="21.00" height="3.30" fill="#000"/>
<rect x="504.63" y="677.08" width="3.70" height="40.73" fill="#000"/>
<rect x="495.98" y="675.43" width="21.00" height="3.30" fill="#000"/>
<rect x="495.98" y="716.16" width="21.00" height="3.30" fill="#000"/>
<rect x="514.30" y="650.91" width="3.70" height="68.63" fill="#000"/>
<rect x="505.65" y="649.26" width="21.00" height="3.30" fill="#000"/>
<rect x="505.65" y="717.89" width="21.00" height="3.30" fill="#000"/>
<rect x="523.97" y="702.51" width="3.70" height="36.78" fill="#000"/>
<rect x="515.32" y="700.86" width="21.00" height="3.30" fill="#000"/>
<rect x="515.32" y="737.64" width="21.00" height="3.30" fill="#000"/>
<rect x="533.64" y="656.59" width="3.70" height="45.92" fill="#000"/>
<rect x="524.99" y="654.94" width="21.00" height="3.30" fill="#000"/>
<rect x="524.99" y="700.86" width="21.00" height="3.30" fill="#000"/>
<rect x="543.31" y="675.35" width="3.70" height="16.54" fill="#000"/>
<rect x="534.66" y="673.70" width="21.00" height="3.30" fill="#000"/>
<rect x="534.66" y="690.24" width="21.00" height="3.30" fill="#000"/>
<rect x="552.98" y="681.03" width="3.70" height="74.31" fill="#000"/>
<rect x="544.33" y="679.38" width="21.00" height="3.30" fill="#000"/>
<rect x="544.33" y="753.69" width="21.00" height="3.30" fill="#000"/>
<rect x="562.65" y="635.61" width="3.70" height="78.26" fill="#000"/>
<rect x="554.00" y="633.96" width="21.00" height="3.30" fill="#000"/>
<rect x="554.00" y="712.21" width="21.00" height="3.30" fill="#000"/>
<rect x="572.32" y="652.64" width="3.70" height="74.80" fill="#000"/>
<rect x="563.67" y="650.99" width="21.00" height="3.30" fill="#000"/>
<rect x="563.67" y="725.79" width="21.00" height="3.30" fill="#000"/>
<rect x="581.99" y="715.10" width="3.70" height="19.75" fill="#000"/>
<rect x="573.34" y="713.45" width="21.00" height="3.30" fill="#000"/>
<rect x="573.34" y="733.20" width="21.00" height="3.30" fill="#000"/>
<rect x="591.66" y="666.96" width="3.70" height="41.72" fill="#000"/>
<rect x="583.01" y="665.31" width="21.00" height="3.30" fill="#000"/>
<rect x="583.01" y="707.03" width="21.00" height="3.30" fill="#000"/>
<rect x="601.33" y="667.45" width="3.70" height="78.26" fill="#000"/>
<rect x="592.68" y="665.80" width="21.00" height="3.30" fill="#000"/>
<rect x="592.68" y="744.06" width="21.00" height="3.30" fill="#000"/>
<rect x="611.00" y="667.45" width="3.70" height="55.05" fill="#000"/>
<rect x="602.35" y="665.80" width="21.00" height="3.30" fill="#000"/>
<rect x="602.35" y="720.85" width="21.00" height="3.30" fill="#000"/>
<rect x="620.67" y="667.45" width="3.70" height="37.28" fill="#000"/>
<rect x="612.02" y="665.80" width="21.00" height="3.30" fill="#000"/>
<rect x="612.02" y="703.08" width="21.00" height="3.30" fill="#000"/>
<rect x="630.34" y="710.41" width="3.70" height="20.49" fill="#000"/>
<rect x="621.69" y="708.76" width="21.00" height="3.30" fill="#000"/>
<rect x="621.69" y="729.25" width="21.00" height="3.30" fill="#000"/>
<rect x="640.01" y="682.02" width="3.70" height="48.14" fill="#000"/>
<rect x="631.36" y="680.37" width="21.00" height="3.30" fill="#000"/>
<rect x="631.36" y="728.51" width="21.00" height="3.30" fill="#000"/>
<rect x="649.68" y="708.19" width="3.70" height="27.90" fill="#000"/>
<rect x="641.03" y="706.54" width="21.00" height="3.30" fill="#000"/>
<rect x="641.03" y="734.43" width="21.00" height="3.30" fill="#000"/>
<rect x="659.35" y="653.13" width="3.70" height="61.96" fill="#000"/>
<rect x="650.70" y="651.48" width="21.00" height="3.30" fill="#000"/>
<rect x="650.70" y="713.45" width="21.00" height="3.30" fill="#000"/>
<rect x="174.70" y="576.10" width="5.60" height="374.20" fill="#000"/>
<rect x="165.00" y="944.50" width="506.50" height="5.80" fill="#000"/>
<rect x="165.00" y="944.80" width="12.50" height="5.20" fill="#000"/>
<rect x="165.00" y="821.37" width="12.50" height="5.20" fill="#000"/>
<rect x="165.00" y="697.93" width="12.50" height="5.20" fill="#000"/>
<rect x="165.00" y="574.50" width="12.50" height="5.20" fill="#000"/>
<rect x="174.70" y="947.40" width="5.60" height="11.80" fill="#000"/>
<rect x="271.40" y="947.40" width="5.60" height="11.80" fill="#000"/>
<rect x="368.10" y="947.40" width="5.60" height="11.80" fill="#000"/>
<rect x="464.80" y="947.40" width="5.60" height="11.80" fill="#000"/>
<rect x="561.50" y="947.40" width="5.60" height="11.80" fill="#000"/>
<rect x="658.20" y="947.40" width="5.60" height="11.80" fill="#000"/>
<text transform="translate(114.50,958.50) scale(0.35527,0.34000)" font-weight="700">0</text>
<text transform="translate(94.79,835.07) scale(0.35527,0.34000)" font-weight="700">50</text>
<text transform="translate(75.07,711.63) scale(0.35527,0.34000)" font-weight="700">100</text>
<text transform="translate(75.07,588.20) scale(0.35527,0.34000)" font-weight="700">150</text>
<text transform="translate(168.04,994.90) scale(0.35527,0.34000)" font-weight="700">0</text>
<text transform="translate(264.65,994.90) scale(0.35527,0.34000)" font-weight="700">5</text>
<text transform="translate(351.23,994.90) scale(0.35527,0.34000)" font-weight="700">10</text>
<text transform="translate(447.66,994.90) scale(0.35527,0.34000)" font-weight="700">15</text>
<text transform="translate(545.07,994.90) scale(0.35527,0.34000)" font-weight="700">20</text>
<text transform="translate(641.50,994.90) scale(0.35527,0.34000)" font-weight="700">25</text>
<text transform="translate(311.88,1038.15) scale(0.43631,0.43724)" font-weight="400" stroke="#000" stroke-width="2.06" stroke-linejoin="round">Time (min)</text>
<text transform="translate(63.45,945.33) rotate(-90) scale(0.33524,0.36232)" font-weight="400" stroke="#000" stroke-width="2.01" stroke-linejoin="round">Events (mEPSCs/30s)</text>
<text transform="translate(35.98,553.20) scale(0.50382,0.52714)" font-weight="700">C</text>
<rect x="182.50" y="586.70" width="486.80" height="10.20" fill="#000"/>
<text transform="translate(283.17,582.85) scale(0.38876,0.37931)" font-weight="400" stroke="#000" stroke-width="1.82" stroke-linejoin="round">Thapsigargin</text>
<rect x="278.90" y="643.90" width="189.30" height="10.40" fill="#000"/>
<text transform="translate(282.41,637.55) scale(0.34231,0.32286)" font-weight="400" stroke="#000" stroke-width="2.10" stroke-linejoin="round">SR58611A</text>
<g>
<rect x="949.55" y="768.92" width="1.71" height="178.98" fill="#e2e2e2"/>
<rect x="951.22" y="730.29" width="1.71" height="217.61" fill="#e2e2e2"/>
<rect x="959.22" y="730.29" width="1.71" height="217.61" fill="#e2e2e2"/>
<rect x="960.89" y="754.11" width="1.71" height="193.79" fill="#e2e2e2"/>
<rect x="968.89" y="754.11" width="1.71" height="193.79" fill="#e2e2e2"/>
<rect x="970.56" y="784.97" width="1.71" height="162.93" fill="#e2e2e2"/>
<rect x="978.56" y="784.97" width="1.71" height="162.93" fill="#e2e2e2"/>
<rect x="980.23" y="773.37" width="1.71" height="174.53" fill="#e2e2e2"/>
<rect x="988.23" y="773.37" width="1.71" height="174.53" fill="#e2e2e2"/>
<rect x="989.90" y="762.01" width="1.71" height="185.89" fill="#e2e2e2"/>
<rect x="997.90" y="762.01" width="1.71" height="185.89" fill="#e2e2e2"/>
<rect x="999.57" y="751.52" width="1.71" height="196.38" fill="#e2e2e2"/>
<rect x="1007.57" y="751.52" width="1.71" height="196.38" fill="#e2e2e2"/>
<rect x="1009.24" y="786.45" width="1.71" height="161.45" fill="#e2e2e2"/>
<rect x="1017.24" y="786.45" width="1.71" height="161.45" fill="#e2e2e2"/>
<rect x="1018.91" y="753.86" width="1.71" height="194.04" fill="#e2e2e2"/>
<rect x="1026.91" y="753.86" width="1.70" height="194.04" fill="#e2e2e2"/>
<rect x="1028.58" y="771.64" width="1.70" height="176.26" fill="#e2e2e2"/>
<rect x="1036.58" y="771.64" width="1.70" height="176.26" fill="#e2e2e2"/>
<rect x="1038.25" y="773.98" width="1.70" height="173.92" fill="#e2e2e2"/>
<rect x="1046.25" y="773.98" width="1.70" height="173.92" fill="#e2e2e2"/>
<rect x="1047.92" y="757.57" width="1.70" height="190.33" fill="#e2e2e2"/>
<rect x="1055.92" y="757.57" width="1.70" height="190.33" fill="#e2e2e2"/>
<rect x="1057.59" y="776.20" width="1.70" height="171.70" fill="#e2e2e2"/>
<rect x="1065.59" y="776.20" width="1.70" height="171.70" fill="#e2e2e2"/>
<rect x="1067.26" y="783.61" width="1.70" height="164.29" fill="#e2e2e2"/>
<rect x="1075.26" y="783.61" width="1.70" height="164.29" fill="#e2e2e2"/>
<rect x="1076.92" y="748.43" width="1.70" height="199.47" fill="#e2e2e2"/>
<rect x="1084.93" y="748.43" width="1.70" height="199.47" fill="#e2e2e2"/>
<rect x="1086.60" y="761.15" width="1.70" height="186.75" fill="#e2e2e2"/>
<rect x="1094.60" y="761.15" width="1.70" height="186.75" fill="#e2e2e2"/>
<rect x="1096.27" y="782.75" width="1.70" height="165.15" fill="#e2e2e2"/>
<rect x="1104.27" y="782.75" width="1.70" height="165.15" fill="#e2e2e2"/>
<rect x="1105.94" y="765.96" width="1.70" height="181.94" fill="#e2e2e2"/>
<rect x="1113.94" y="765.96" width="1.70" height="181.94" fill="#e2e2e2"/>
<rect x="1115.61" y="759.42" width="1.70" height="188.48" fill="#e2e2e2"/>
<rect x="1123.61" y="759.42" width="1.70" height="188.48" fill="#e2e2e2"/>
<rect x="1125.28" y="757.44" width="1.70" height="190.46" fill="#e2e2e2"/>
<rect x="1133.28" y="757.44" width="1.70" height="190.46" fill="#e2e2e2"/>
<rect x="1134.95" y="771.39" width="1.70" height="176.51" fill="#e2e2e2"/>
<rect x="1142.95" y="771.39" width="1.70" height="176.51" fill="#e2e2e2"/>
<rect x="1144.62" y="745.84" width="1.70" height="202.06" fill="#e2e2e2"/>
<rect x="1152.62" y="745.84" width="1.70" height="202.06" fill="#e2e2e2"/>
<rect x="1154.29" y="775.09" width="1.70" height="172.81" fill="#e2e2e2"/>
<rect x="1162.29" y="775.09" width="1.70" height="172.81" fill="#e2e2e2"/>
<rect x="1163.96" y="754.48" width="1.70" height="193.42" fill="#e2e2e2"/>
<rect x="1171.96" y="754.48" width="1.70" height="193.42" fill="#e2e2e2"/>
<rect x="1173.62" y="778.55" width="1.70" height="169.35" fill="#e2e2e2"/>
<rect x="1181.63" y="778.55" width="1.70" height="169.35" fill="#e2e2e2"/>
<rect x="1183.30" y="777.07" width="1.70" height="170.83" fill="#e2e2e2"/>
<rect x="1191.30" y="777.07" width="1.70" height="170.83" fill="#e2e2e2"/>
<rect x="1192.97" y="776.70" width="1.70" height="171.20" fill="#e2e2e2"/>
<rect x="1200.97" y="776.70" width="1.70" height="171.20" fill="#e2e2e2"/>
<rect x="1202.63" y="780.77" width="1.70" height="167.13" fill="#e2e2e2"/>
<rect x="1210.64" y="780.77" width="1.70" height="167.13" fill="#e2e2e2"/>
<rect x="1212.31" y="737.69" width="1.70" height="210.21" fill="#e2e2e2"/>
<rect x="1220.31" y="737.69" width="1.70" height="210.21" fill="#e2e2e2"/>
<rect x="1221.98" y="781.88" width="1.70" height="166.02" fill="#e2e2e2"/>
<rect x="1229.98" y="781.88" width="1.70" height="166.02" fill="#e2e2e2"/>
<rect x="1231.65" y="751.76" width="1.70" height="196.14" fill="#e2e2e2"/>
<rect x="1239.65" y="751.76" width="1.70" height="196.14" fill="#e2e2e2"/>
<rect x="1241.32" y="743.62" width="1.70" height="204.28" fill="#e2e2e2"/>
<rect x="1249.32" y="743.62" width="1.70" height="204.28" fill="#e2e2e2"/>
<rect x="1250.99" y="767.07" width="1.70" height="180.83" fill="#e2e2e2"/>
<rect x="1258.99" y="767.07" width="1.70" height="180.83" fill="#e2e2e2"/>
<rect x="1260.65" y="731.64" width="1.70" height="216.26" fill="#e2e2e2"/>
<rect x="1268.66" y="731.64" width="1.70" height="216.26" fill="#e2e2e2"/>
<rect x="1270.33" y="744.73" width="1.70" height="203.17" fill="#e2e2e2"/>
<rect x="1278.33" y="744.73" width="1.70" height="203.17" fill="#e2e2e2"/>
<rect x="1280.00" y="771.14" width="1.70" height="176.76" fill="#e2e2e2"/>
<rect x="1288.00" y="771.14" width="1.70" height="176.76" fill="#e2e2e2"/>
<rect x="1289.67" y="779.78" width="1.70" height="168.12" fill="#e2e2e2"/>
<rect x="1297.67" y="779.78" width="1.70" height="168.12" fill="#e2e2e2"/>
<rect x="1299.34" y="760.03" width="1.70" height="187.87" fill="#e2e2e2"/>
<rect x="1307.34" y="760.03" width="1.70" height="187.87" fill="#e2e2e2"/>
<rect x="1309.01" y="737.08" width="1.70" height="210.82" fill="#e2e2e2"/>
<rect x="1317.01" y="737.08" width="1.70" height="210.82" fill="#e2e2e2"/>
<rect x="1318.67" y="775.71" width="1.70" height="172.19" fill="#e2e2e2"/>
<rect x="1326.68" y="775.71" width="1.70" height="172.19" fill="#e2e2e2"/>
<rect x="1328.35" y="770.03" width="1.70" height="177.87" fill="#e2e2e2"/>
<rect x="1336.35" y="770.03" width="1.70" height="177.87" fill="#e2e2e2"/>
<rect x="1338.02" y="749.30" width="1.70" height="198.60" fill="#e2e2e2"/>
<rect x="1346.02" y="749.30" width="1.70" height="198.60" fill="#e2e2e2"/>
<rect x="1347.69" y="764.23" width="1.70" height="183.67" fill="#e2e2e2"/>
<rect x="1355.69" y="764.23" width="1.70" height="183.67" fill="#e2e2e2"/>
<rect x="1357.36" y="782.38" width="1.70" height="165.52" fill="#e2e2e2"/>
<rect x="1365.36" y="782.38" width="1.70" height="165.52" fill="#e2e2e2"/>
<rect x="1367.03" y="731.40" width="1.70" height="216.50" fill="#e2e2e2"/>
<rect x="1375.03" y="731.40" width="1.70" height="216.50" fill="#e2e2e2"/>
<rect x="1376.69" y="779.66" width="1.70" height="168.24" fill="#e2e2e2"/>
<rect x="1384.70" y="779.66" width="1.70" height="168.24" fill="#e2e2e2"/>
<rect x="1386.37" y="775.22" width="1.70" height="172.68" fill="#e2e2e2"/>
<rect x="1394.37" y="775.22" width="1.70" height="172.68" fill="#e2e2e2"/>
<rect x="1396.04" y="766.82" width="1.70" height="181.08" fill="#e2e2e2"/>
<rect x="1404.04" y="766.82" width="1.70" height="181.08" fill="#e2e2e2"/>
<rect x="1405.71" y="775.34" width="1.70" height="172.56" fill="#e2e2e2"/>
<rect x="1413.71" y="775.34" width="1.70" height="172.56" fill="#e2e2e2"/>
<rect x="1415.38" y="771.64" width="1.70" height="176.26" fill="#e2e2e2"/>
<rect x="1423.38" y="771.64" width="1.70" height="176.26" fill="#e2e2e2"/>
<rect x="1425.05" y="767.93" width="1.70" height="179.97" fill="#e2e2e2"/>
<rect x="1433.05" y="767.93" width="1.70" height="179.97" fill="#e2e2e2"/>
<rect x="1434.72" y="780.03" width="1.70" height="167.87" fill="#e2e2e2"/>
<rect x="1442.72" y="780.03" width="1.70" height="167.87" fill="#e2e2e2"/>
<rect x="943.40" y="787.44" width="6.15" height="160.46" fill="#5e5e5e"/>
<rect x="952.92" y="780.77" width="6.30" height="167.13" fill="#5e5e5e"/>
<rect x="962.59" y="786.94" width="6.30" height="160.96" fill="#5e5e5e"/>
<rect x="972.26" y="794.35" width="6.30" height="153.55" fill="#5e5e5e"/>
<rect x="981.93" y="809.65" width="6.30" height="138.25" fill="#5e5e5e"/>
<rect x="991.60" y="794.84" width="6.30" height="153.06" fill="#5e5e5e"/>
<rect x="1001.27" y="769.42" width="6.30" height="178.48" fill="#5e5e5e"/>
<rect x="1010.94" y="802.25" width="6.30" height="145.65" fill="#5e5e5e"/>
<rect x="1020.61" y="763.24" width="6.30" height="184.66" fill="#5e5e5e"/>
<rect x="1030.28" y="796.08" width="6.30" height="151.82" fill="#5e5e5e"/>
<rect x="1039.95" y="803.98" width="6.30" height="143.92" fill="#5e5e5e"/>
<rect x="1049.62" y="778.55" width="6.30" height="169.35" fill="#5e5e5e"/>
<rect x="1059.29" y="801.75" width="6.30" height="146.15" fill="#5e5e5e"/>
<rect x="1068.96" y="809.65" width="6.30" height="138.25" fill="#5e5e5e"/>
<rect x="1078.63" y="790.89" width="6.30" height="157.01" fill="#5e5e5e"/>
<rect x="1088.30" y="775.09" width="6.30" height="172.81" fill="#5e5e5e"/>
<rect x="1097.97" y="820.52" width="6.30" height="127.38" fill="#5e5e5e"/>
<rect x="1107.64" y="787.44" width="6.30" height="160.46" fill="#5e5e5e"/>
<rect x="1117.31" y="774.60" width="6.30" height="173.30" fill="#5e5e5e"/>
<rect x="1126.98" y="773.37" width="6.30" height="174.53" fill="#5e5e5e"/>
<rect x="1136.65" y="808.42" width="6.30" height="139.48" fill="#5e5e5e"/>
<rect x="1146.32" y="769.91" width="6.30" height="177.99" fill="#5e5e5e"/>
<rect x="1155.99" y="798.30" width="6.30" height="149.60" fill="#5e5e5e"/>
<rect x="1165.66" y="772.38" width="6.30" height="175.52" fill="#5e5e5e"/>
<rect x="1175.33" y="809.16" width="6.30" height="138.74" fill="#5e5e5e"/>
<rect x="1185.00" y="788.67" width="6.30" height="159.23" fill="#5e5e5e"/>
<rect x="1194.67" y="793.11" width="6.30" height="154.79" fill="#5e5e5e"/>
<rect x="1204.34" y="813.60" width="6.30" height="134.30" fill="#5e5e5e"/>
<rect x="1214.01" y="772.38" width="6.30" height="175.52" fill="#5e5e5e"/>
<rect x="1223.68" y="803.98" width="6.30" height="143.92" fill="#5e5e5e"/>
<rect x="1233.35" y="760.28" width="6.30" height="187.62" fill="#5e5e5e"/>
<rect x="1243.02" y="768.18" width="6.30" height="179.72" fill="#5e5e5e"/>
<rect x="1252.69" y="802.74" width="6.30" height="145.16" fill="#5e5e5e"/>
<rect x="1262.36" y="766.45" width="6.30" height="181.45" fill="#5e5e5e"/>
<rect x="1272.03" y="773.37" width="6.30" height="174.53" fill="#5e5e5e"/>
<rect x="1281.70" y="793.86" width="6.30" height="154.04" fill="#5e5e5e"/>
<rect x="1291.37" y="818.05" width="6.30" height="129.85" fill="#5e5e5e"/>
<rect x="1301.04" y="796.08" width="6.30" height="151.82" fill="#5e5e5e"/>
<rect x="1310.71" y="757.57" width="6.30" height="190.33" fill="#5e5e5e"/>
<rect x="1320.38" y="785.96" width="6.30" height="161.94" fill="#5e5e5e"/>
<rect x="1330.05" y="788.18" width="6.30" height="159.72" fill="#5e5e5e"/>
<rect x="1339.72" y="790.40" width="6.30" height="157.50" fill="#5e5e5e"/>
<rect x="1349.39" y="790.40" width="6.30" height="157.50" fill="#5e5e5e"/>
<rect x="1359.06" y="806.20" width="6.30" height="141.70" fill="#5e5e5e"/>
<rect x="1368.73" y="740.53" width="6.30" height="207.37" fill="#5e5e5e"/>
<rect x="1378.40" y="799.53" width="6.30" height="148.37" fill="#5e5e5e"/>
<rect x="1388.07" y="812.37" width="6.30" height="135.53" fill="#5e5e5e"/>
<rect x="1397.74" y="805.70" width="6.30" height="142.20" fill="#5e5e5e"/>
<rect x="1407.41" y="787.44" width="6.30" height="160.46" fill="#5e5e5e"/>
<rect x="1417.08" y="794.84" width="6.30" height="153.06" fill="#5e5e5e"/>
<rect x="1426.75" y="798.30" width="6.30" height="149.60" fill="#5e5e5e"/>
<rect x="1436.42" y="780.03" width="6.30" height="167.87" fill="#5e5e5e"/>
</g>
<rect x="944.55" y="750.41" width="3.70" height="37.03" fill="#000"/>
<rect x="943.40" y="748.76" width="13.50" height="3.30" fill="#000"/>
<rect x="943.40" y="785.79" width="13.50" height="3.30" fill="#000"/>
<rect x="954.22" y="679.80" width="3.70" height="100.97" fill="#000"/>
<rect x="945.57" y="678.15" width="21.00" height="3.30" fill="#000"/>
<rect x="945.57" y="779.12" width="21.00" height="3.30" fill="#000"/>
<rect x="963.89" y="721.28" width="3.70" height="65.67" fill="#000"/>
<rect x="955.24" y="719.63" width="21.00" height="3.30" fill="#000"/>
<rect x="955.24" y="785.29" width="21.00" height="3.30" fill="#000"/>
<rect x="973.56" y="775.59" width="3.70" height="18.76" fill="#000"/>
<rect x="964.91" y="773.94" width="21.00" height="3.30" fill="#000"/>
<rect x="964.91" y="792.70" width="21.00" height="3.30" fill="#000"/>
<rect x="983.23" y="737.08" width="3.70" height="72.58" fill="#000"/>
<rect x="974.58" y="735.43" width="21.00" height="3.30" fill="#000"/>
<rect x="974.58" y="808.00" width="21.00" height="3.30" fill="#000"/>
<rect x="992.90" y="729.18" width="3.70" height="65.67" fill="#000"/>
<rect x="984.25" y="727.53" width="21.00" height="3.30" fill="#000"/>
<rect x="984.25" y="793.19" width="21.00" height="3.30" fill="#000"/>
<rect x="1002.57" y="733.62" width="3.70" height="35.80" fill="#000"/>
<rect x="993.92" y="731.97" width="21.00" height="3.30" fill="#000"/>
<rect x="993.92" y="767.77" width="21.00" height="3.30" fill="#000"/>
<rect x="1012.24" y="770.65" width="3.70" height="31.60" fill="#000"/>
<rect x="1003.59" y="769.00" width="21.00" height="3.30" fill="#000"/>
<rect x="1003.59" y="800.60" width="21.00" height="3.30" fill="#000"/>
<rect x="1021.91" y="744.48" width="3.70" height="18.76" fill="#000"/>
<rect x="1013.26" y="742.83" width="21.00" height="3.30" fill="#000"/>
<rect x="1013.26" y="761.59" width="21.00" height="3.30" fill="#000"/>
<rect x="1031.58" y="747.20" width="3.70" height="48.88" fill="#000"/>
<rect x="1022.93" y="745.55" width="21.00" height="3.30" fill="#000"/>
<rect x="1022.93" y="794.43" width="21.00" height="3.30" fill="#000"/>
<rect x="1041.25" y="743.99" width="3.70" height="59.99" fill="#000"/>
<rect x="1032.60" y="742.34" width="21.00" height="3.30" fill="#000"/>
<rect x="1032.60" y="802.33" width="21.00" height="3.30" fill="#000"/>
<rect x="1050.92" y="736.58" width="3.70" height="41.97" fill="#000"/>
<rect x="1042.27" y="734.93" width="21.00" height="3.30" fill="#000"/>
<rect x="1042.27" y="776.90" width="21.00" height="3.30" fill="#000"/>
<rect x="1060.59" y="750.65" width="3.70" height="51.10" fill="#000"/>
<rect x="1051.94" y="749.00" width="21.00" height="3.30" fill="#000"/>
<rect x="1051.94" y="800.10" width="21.00" height="3.30" fill="#000"/>
<rect x="1070.26" y="757.57" width="3.70" height="52.09" fill="#000"/>
<rect x="1061.61" y="755.92" width="21.00" height="3.30" fill="#000"/>
<rect x="1061.61" y="808.00" width="21.00" height="3.30" fill="#000"/>
<rect x="1079.93" y="705.97" width="3.70" height="84.92" fill="#000"/>
<rect x="1071.28" y="704.32" width="21.00" height="3.30" fill="#000"/>
<rect x="1071.28" y="789.24" width="21.00" height="3.30" fill="#000"/>
<rect x="1089.60" y="747.20" width="3.70" height="27.90" fill="#000"/>
<rect x="1080.95" y="745.55" width="21.00" height="3.30" fill="#000"/>
<rect x="1080.95" y="773.44" width="21.00" height="3.30" fill="#000"/>
<rect x="1099.27" y="744.98" width="3.70" height="75.54" fill="#000"/>
<rect x="1090.62" y="743.33" width="21.00" height="3.30" fill="#000"/>
<rect x="1090.62" y="818.87" width="21.00" height="3.30" fill="#000"/>
<rect x="1108.94" y="744.48" width="3.70" height="42.95" fill="#000"/>
<rect x="1100.29" y="742.83" width="21.00" height="3.30" fill="#000"/>
<rect x="1100.29" y="785.79" width="21.00" height="3.30" fill="#000"/>
<rect x="1118.61" y="744.24" width="3.70" height="30.36" fill="#000"/>
<rect x="1109.96" y="742.59" width="21.00" height="3.30" fill="#000"/>
<rect x="1109.96" y="772.95" width="21.00" height="3.30" fill="#000"/>
<rect x="1128.28" y="741.52" width="3.70" height="31.85" fill="#000"/>
<rect x="1119.63" y="739.87" width="21.00" height="3.30" fill="#000"/>
<rect x="1119.63" y="771.72" width="21.00" height="3.30" fill="#000"/>
<rect x="1137.95" y="734.36" width="3.70" height="74.06" fill="#000"/>
<rect x="1129.30" y="732.71" width="21.00" height="3.30" fill="#000"/>
<rect x="1129.30" y="806.77" width="21.00" height="3.30" fill="#000"/>
<rect x="1147.62" y="721.77" width="3.70" height="48.14" fill="#000"/>
<rect x="1138.97" y="720.12" width="21.00" height="3.30" fill="#000"/>
<rect x="1138.97" y="768.26" width="21.00" height="3.30" fill="#000"/>
<rect x="1157.29" y="751.89" width="3.70" height="46.41" fill="#000"/>
<rect x="1148.64" y="750.24" width="21.00" height="3.30" fill="#000"/>
<rect x="1148.64" y="796.65" width="21.00" height="3.30" fill="#000"/>
<rect x="1166.96" y="736.58" width="3.70" height="35.80" fill="#000"/>
<rect x="1158.31" y="734.93" width="21.00" height="3.30" fill="#000"/>
<rect x="1158.31" y="770.73" width="21.00" height="3.30" fill="#000"/>
<rect x="1176.63" y="747.94" width="3.70" height="61.22" fill="#000"/>
<rect x="1167.98" y="746.29" width="21.00" height="3.30" fill="#000"/>
<rect x="1167.98" y="807.51" width="21.00" height="3.30" fill="#000"/>
<rect x="1186.30" y="765.47" width="3.70" height="23.21" fill="#000"/>
<rect x="1177.65" y="763.82" width="21.00" height="3.30" fill="#000"/>
<rect x="1177.65" y="787.02" width="21.00" height="3.30" fill="#000"/>
<rect x="1195.97" y="760.28" width="3.70" height="32.83" fill="#000"/>
<rect x="1187.32" y="758.63" width="21.00" height="3.30" fill="#000"/>
<rect x="1187.32" y="791.46" width="21.00" height="3.30" fill="#000"/>
<rect x="1205.64" y="747.94" width="3.70" height="65.67" fill="#000"/>
<rect x="1196.99" y="746.29" width="21.00" height="3.30" fill="#000"/>
<rect x="1196.99" y="811.95" width="21.00" height="3.30" fill="#000"/>
<rect x="1215.31" y="703.01" width="3.70" height="69.37" fill="#000"/>
<rect x="1206.66" y="701.36" width="21.00" height="3.30" fill="#000"/>
<rect x="1206.66" y="770.73" width="21.00" height="3.30" fill="#000"/>
<rect x="1224.98" y="759.79" width="3.70" height="44.19" fill="#000"/>
<rect x="1216.33" y="758.14" width="21.00" height="3.30" fill="#000"/>
<rect x="1216.33" y="802.33" width="21.00" height="3.30" fill="#000"/>
<rect x="1234.65" y="743.25" width="3.70" height="17.03" fill="#000"/>
<rect x="1226.00" y="741.60" width="21.00" height="3.30" fill="#000"/>
<rect x="1226.00" y="758.63" width="21.00" height="3.30" fill="#000"/>
<rect x="1244.32" y="719.05" width="3.70" height="49.13" fill="#000"/>
<rect x="1235.67" y="717.40" width="21.00" height="3.30" fill="#000"/>
<rect x="1235.67" y="766.53" width="21.00" height="3.30" fill="#000"/>
<rect x="1253.99" y="731.40" width="3.70" height="71.34" fill="#000"/>
<rect x="1245.34" y="729.75" width="21.00" height="3.30" fill="#000"/>
<rect x="1245.34" y="801.09" width="21.00" height="3.30" fill="#000"/>
<rect x="1263.66" y="696.84" width="3.70" height="69.62" fill="#000"/>
<rect x="1255.01" y="695.19" width="21.00" height="3.30" fill="#000"/>
<rect x="1255.01" y="764.80" width="21.00" height="3.30" fill="#000"/>
<rect x="1273.33" y="716.09" width="3.70" height="57.27" fill="#000"/>
<rect x="1264.68" y="714.44" width="21.00" height="3.30" fill="#000"/>
<rect x="1264.68" y="771.72" width="21.00" height="3.30" fill="#000"/>
<rect x="1283.00" y="748.43" width="3.70" height="45.42" fill="#000"/>
<rect x="1274.35" y="746.78" width="21.00" height="3.30" fill="#000"/>
<rect x="1274.35" y="792.21" width="21.00" height="3.30" fill="#000"/>
<rect x="1292.67" y="741.52" width="3.70" height="76.53" fill="#000"/>
<rect x="1284.02" y="739.87" width="21.00" height="3.30" fill="#000"/>
<rect x="1284.02" y="816.40" width="21.00" height="3.30" fill="#000"/>
<rect x="1302.34" y="723.99" width="3.70" height="72.09" fill="#000"/>
<rect x="1293.69" y="722.34" width="21.00" height="3.30" fill="#000"/>
<rect x="1293.69" y="794.43" width="21.00" height="3.30" fill="#000"/>
<rect x="1312.01" y="716.59" width="3.70" height="40.98" fill="#000"/>
<rect x="1303.36" y="714.94" width="21.00" height="3.30" fill="#000"/>
<rect x="1303.36" y="755.92" width="21.00" height="3.30" fill="#000"/>
<rect x="1321.68" y="765.47" width="3.70" height="20.49" fill="#000"/>
<rect x="1313.03" y="763.82" width="21.00" height="3.30" fill="#000"/>
<rect x="1313.03" y="784.31" width="21.00" height="3.30" fill="#000"/>
<rect x="1331.35" y="751.89" width="3.70" height="36.29" fill="#000"/>
<rect x="1322.70" y="750.24" width="21.00" height="3.30" fill="#000"/>
<rect x="1322.70" y="786.53" width="21.00" height="3.30" fill="#000"/>
<rect x="1341.02" y="708.19" width="3.70" height="82.21" fill="#000"/>
<rect x="1332.37" y="706.54" width="21.00" height="3.30" fill="#000"/>
<rect x="1332.37" y="788.75" width="21.00" height="3.30" fill="#000"/>
<rect x="1350.69" y="738.06" width="3.70" height="52.34" fill="#000"/>
<rect x="1342.04" y="736.41" width="21.00" height="3.30" fill="#000"/>
<rect x="1342.04" y="788.75" width="21.00" height="3.30" fill="#000"/>
<rect x="1360.36" y="758.55" width="3.70" height="47.65" fill="#000"/>
<rect x="1351.71" y="756.90" width="21.00" height="3.30" fill="#000"/>
<rect x="1351.71" y="804.55" width="21.00" height="3.30" fill="#000"/>
<rect x="1370.03" y="722.26" width="3.70" height="18.27" fill="#000"/>
<rect x="1361.38" y="720.61" width="21.00" height="3.30" fill="#000"/>
<rect x="1361.38" y="738.88" width="21.00" height="3.30" fill="#000"/>
<rect x="1379.70" y="759.79" width="3.70" height="39.75" fill="#000"/>
<rect x="1371.05" y="758.14" width="21.00" height="3.30" fill="#000"/>
<rect x="1371.05" y="797.88" width="21.00" height="3.30" fill="#000"/>
<rect x="1389.37" y="738.06" width="3.70" height="74.31" fill="#000"/>
<rect x="1380.72" y="736.41" width="21.00" height="3.30" fill="#000"/>
<rect x="1380.72" y="810.72" width="21.00" height="3.30" fill="#000"/>
<rect x="1399.04" y="727.94" width="3.70" height="77.76" fill="#000"/>
<rect x="1390.39" y="726.29" width="21.00" height="3.30" fill="#000"/>
<rect x="1390.39" y="804.05" width="21.00" height="3.30" fill="#000"/>
<rect x="1408.71" y="763.24" width="3.70" height="24.19" fill="#000"/>
<rect x="1400.06" y="761.59" width="21.00" height="3.30" fill="#000"/>
<rect x="1400.06" y="785.79" width="21.00" height="3.30" fill="#000"/>
<rect x="1418.38" y="748.43" width="3.70" height="46.41" fill="#000"/>
<rect x="1409.73" y="746.78" width="21.00" height="3.30" fill="#000"/>
<rect x="1409.73" y="793.19" width="21.00" height="3.30" fill="#000"/>
<rect x="1428.05" y="737.57" width="3.70" height="60.73" fill="#000"/>
<rect x="1419.40" y="735.92" width="21.00" height="3.30" fill="#000"/>
<rect x="1419.40" y="796.65" width="21.00" height="3.30" fill="#000"/>
<rect x="943.40" y="576.60" width="5.60" height="374.20" fill="#000"/>
<rect x="933.70" y="945.00" width="506.50" height="5.80" fill="#000"/>
<rect x="933.70" y="945.30" width="12.50" height="5.20" fill="#000"/>
<rect x="933.70" y="821.87" width="12.50" height="5.20" fill="#000"/>
<rect x="933.70" y="698.43" width="12.50" height="5.20" fill="#000"/>
<rect x="933.70" y="575.00" width="12.50" height="5.20" fill="#000"/>
<rect x="943.40" y="947.90" width="5.60" height="11.80" fill="#000"/>
<rect x="1040.10" y="947.90" width="5.60" height="11.80" fill="#000"/>
<rect x="1136.80" y="947.90" width="5.60" height="11.80" fill="#000"/>
<rect x="1233.50" y="947.90" width="5.60" height="11.80" fill="#000"/>
<rect x="1330.20" y="947.90" width="5.60" height="11.80" fill="#000"/>
<rect x="1426.90" y="947.90" width="5.60" height="11.80" fill="#000"/>
<text transform="translate(883.20,959.00) scale(0.35527,0.34000)" font-weight="700">0</text>
<text transform="translate(863.49,835.57) scale(0.35527,0.34000)" font-weight="700">50</text>
<text transform="translate(843.77,712.13) scale(0.35527,0.34000)" font-weight="700">100</text>
<text transform="translate(843.77,588.70) scale(0.35527,0.34000)" font-weight="700">150</text>
<text transform="translate(936.74,995.40) scale(0.35527,0.34000)" font-weight="700">0</text>
<text transform="translate(1033.35,995.40) scale(0.35527,0.34000)" font-weight="700">5</text>
<text transform="translate(1119.93,995.40) scale(0.35527,0.34000)" font-weight="700">10</text>
<text transform="translate(1216.36,995.40) scale(0.35527,0.34000)" font-weight="700">15</text>
<text transform="translate(1313.77,995.40) scale(0.35527,0.34000)" font-weight="700">20</text>
<text transform="translate(1410.20,995.40) scale(0.35527,0.34000)" font-weight="700">25</text>
<text transform="translate(1078.18,1038.65) scale(0.43545,0.43724)" font-weight="400" stroke="#000" stroke-width="2.06" stroke-linejoin="round">Time (min)</text>
<text transform="translate(832.55,943.35) rotate(-90) scale(0.33728,0.35507)" font-weight="400" stroke="#000" stroke-width="2.02" stroke-linejoin="round">Events (mEPSCs/30s)</text>
<text transform="translate(804.16,549.50) scale(0.49919,0.52609)" font-weight="700">D</text>
<rect x="951.00" y="630.60" width="488.60" height="10.20" fill="#000"/>
<text transform="translate(1071.53,623.25) scale(0.39056,0.37103)" font-weight="400" stroke="#000" stroke-width="1.84" stroke-linejoin="round">Nimodipine</text>
<rect x="1051.00" y="688.20" width="190.40" height="10.40" fill="#000"/>
<text transform="translate(1055.21,680.65) scale(0.34316,0.32000)" font-weight="400" stroke="#000" stroke-width="2.11" stroke-linejoin="round">SR58611A</text>
<g>
<rect x="180.85" y="1300.22" width="1.70" height="178.98" fill="#e2e2e2"/>
<rect x="182.51" y="1300.10" width="1.70" height="179.10" fill="#e2e2e2"/>
<rect x="190.52" y="1300.10" width="1.70" height="179.10" fill="#e2e2e2"/>
<rect x="192.19" y="1276.28" width="1.70" height="202.92" fill="#e2e2e2"/>
<rect x="200.19" y="1276.28" width="1.70" height="202.92" fill="#e2e2e2"/>
<rect x="201.85" y="1280.60" width="1.70" height="198.60" fill="#e2e2e2"/>
<rect x="209.86" y="1280.60" width="1.70" height="198.60" fill="#e2e2e2"/>
<rect x="211.53" y="1292.57" width="1.70" height="186.63" fill="#e2e2e2"/>
<rect x="219.53" y="1292.57" width="1.70" height="186.63" fill="#e2e2e2"/>
<rect x="221.19" y="1280.60" width="1.70" height="198.60" fill="#e2e2e2"/>
<rect x="229.20" y="1280.60" width="1.70" height="198.60" fill="#e2e2e2"/>
<rect x="230.86" y="1276.65" width="1.70" height="202.55" fill="#e2e2e2"/>
<rect x="238.87" y="1276.65" width="1.70" height="202.55" fill="#e2e2e2"/>
<rect x="240.53" y="1295.90" width="1.70" height="183.30" fill="#e2e2e2"/>
<rect x="248.54" y="1295.90" width="1.70" height="183.30" fill="#e2e2e2"/>
<rect x="250.21" y="1286.89" width="1.70" height="192.31" fill="#e2e2e2"/>
<rect x="258.21" y="1286.89" width="1.71" height="192.31" fill="#e2e2e2"/>
<rect x="259.87" y="1319.23" width="1.71" height="159.97" fill="#e2e2e2"/>
<rect x="267.88" y="1319.23" width="1.71" height="159.97" fill="#e2e2e2"/>
<rect x="269.54" y="1288.25" width="1.71" height="190.95" fill="#e2e2e2"/>
<rect x="277.55" y="1288.25" width="1.71" height="190.95" fill="#e2e2e2"/>
<rect x="279.21" y="1284.42" width="1.71" height="194.78" fill="#e2e2e2"/>
<rect x="287.22" y="1284.42" width="1.71" height="194.78" fill="#e2e2e2"/>
<rect x="288.88" y="1300.47" width="1.71" height="178.73" fill="#e2e2e2"/>
<rect x="296.89" y="1300.47" width="1.71" height="178.73" fill="#e2e2e2"/>
<rect x="298.55" y="1280.35" width="1.71" height="198.85" fill="#e2e2e2"/>
<rect x="306.56" y="1280.35" width="1.71" height="198.85" fill="#e2e2e2"/>
<rect x="308.22" y="1312.81" width="1.71" height="166.39" fill="#e2e2e2"/>
<rect x="316.23" y="1312.81" width="1.71" height="166.39" fill="#e2e2e2"/>
<rect x="317.89" y="1298.74" width="1.71" height="180.46" fill="#e2e2e2"/>
<rect x="325.90" y="1298.74" width="1.71" height="180.46" fill="#e2e2e2"/>
<rect x="327.56" y="1319.72" width="1.71" height="159.48" fill="#e2e2e2"/>
<rect x="335.57" y="1319.72" width="1.71" height="159.48" fill="#e2e2e2"/>
<rect x="337.23" y="1287.14" width="1.71" height="192.06" fill="#e2e2e2"/>
<rect x="345.24" y="1287.14" width="1.71" height="192.06" fill="#e2e2e2"/>
<rect x="346.90" y="1320.09" width="1.71" height="159.11" fill="#e2e2e2"/>
<rect x="354.91" y="1320.09" width="1.71" height="159.11" fill="#e2e2e2"/>
<rect x="356.57" y="1319.11" width="1.71" height="160.09" fill="#e2e2e2"/>
<rect x="364.58" y="1319.11" width="1.71" height="160.09" fill="#e2e2e2"/>
<rect x="366.24" y="1289.48" width="1.71" height="189.72" fill="#e2e2e2"/>
<rect x="374.25" y="1289.48" width="1.71" height="189.72" fill="#e2e2e2"/>
<rect x="375.91" y="1289.11" width="1.71" height="190.09" fill="#e2e2e2"/>
<rect x="383.92" y="1289.11" width="1.71" height="190.09" fill="#e2e2e2"/>
<rect x="385.58" y="1278.13" width="1.71" height="201.07" fill="#e2e2e2"/>
<rect x="393.59" y="1278.13" width="1.71" height="201.07" fill="#e2e2e2"/>
<rect x="395.25" y="1283.81" width="1.71" height="195.39" fill="#e2e2e2"/>
<rect x="403.26" y="1283.81" width="1.71" height="195.39" fill="#e2e2e2"/>
<rect x="404.92" y="1279.24" width="1.71" height="199.96" fill="#e2e2e2"/>
<rect x="412.93" y="1279.24" width="1.71" height="199.96" fill="#e2e2e2"/>
<rect x="414.59" y="1312.94" width="1.71" height="166.26" fill="#e2e2e2"/>
<rect x="422.60" y="1312.94" width="1.71" height="166.26" fill="#e2e2e2"/>
<rect x="424.26" y="1270.35" width="1.71" height="208.85" fill="#e2e2e2"/>
<rect x="432.27" y="1270.35" width="1.71" height="208.85" fill="#e2e2e2"/>
<rect x="433.93" y="1302.44" width="1.71" height="176.76" fill="#e2e2e2"/>
<rect x="441.94" y="1302.44" width="1.71" height="176.76" fill="#e2e2e2"/>
<rect x="443.60" y="1302.20" width="1.71" height="177.00" fill="#e2e2e2"/>
<rect x="451.61" y="1302.20" width="1.71" height="177.00" fill="#e2e2e2"/>
<rect x="453.27" y="1293.06" width="1.71" height="186.14" fill="#e2e2e2"/>
<rect x="461.28" y="1293.06" width="1.71" height="186.14" fill="#e2e2e2"/>
<rect x="462.94" y="1268.13" width="1.71" height="211.07" fill="#e2e2e2"/>
<rect x="470.95" y="1268.13" width="1.71" height="211.07" fill="#e2e2e2"/>
<rect x="472.61" y="1307.01" width="1.71" height="172.19" fill="#e2e2e2"/>
<rect x="480.62" y="1307.01" width="1.71" height="172.19" fill="#e2e2e2"/>
<rect x="482.28" y="1279.48" width="1.71" height="199.72" fill="#e2e2e2"/>
<rect x="490.29" y="1279.48" width="1.71" height="199.72" fill="#e2e2e2"/>
<rect x="491.95" y="1305.53" width="1.71" height="173.67" fill="#e2e2e2"/>
<rect x="499.96" y="1305.53" width="1.71" height="173.67" fill="#e2e2e2"/>
<rect x="501.62" y="1298.25" width="1.71" height="180.95" fill="#e2e2e2"/>
<rect x="509.63" y="1298.25" width="1.71" height="180.95" fill="#e2e2e2"/>
<rect x="511.30" y="1269.86" width="1.71" height="209.34" fill="#e2e2e2"/>
<rect x="519.30" y="1269.86" width="1.71" height="209.34" fill="#e2e2e2"/>
<rect x="520.97" y="1307.87" width="1.71" height="171.33" fill="#e2e2e2"/>
<rect x="528.97" y="1307.87" width="1.71" height="171.33" fill="#e2e2e2"/>
<rect x="530.63" y="1264.43" width="1.71" height="214.77" fill="#e2e2e2"/>
<rect x="538.64" y="1264.43" width="1.71" height="214.77" fill="#e2e2e2"/>
<rect x="540.31" y="1317.75" width="1.71" height="161.45" fill="#e2e2e2"/>
<rect x="548.31" y="1317.75" width="1.71" height="161.45" fill="#e2e2e2"/>
<rect x="549.98" y="1272.45" width="1.71" height="206.75" fill="#e2e2e2"/>
<rect x="557.98" y="1272.45" width="1.71" height="206.75" fill="#e2e2e2"/>
<rect x="559.64" y="1278.13" width="1.71" height="201.07" fill="#e2e2e2"/>
<rect x="567.65" y="1278.13" width="1.71" height="201.07" fill="#e2e2e2"/>
<rect x="569.32" y="1300.10" width="1.71" height="179.10" fill="#e2e2e2"/>
<rect x="577.32" y="1300.10" width="1.71" height="179.10" fill="#e2e2e2"/>
<rect x="578.99" y="1288.74" width="1.71" height="190.46" fill="#e2e2e2"/>
<rect x="586.99" y="1288.74" width="1.71" height="190.46" fill="#e2e2e2"/>
<rect x="588.65" y="1269.86" width="1.71" height="209.34" fill="#e2e2e2"/>
<rect x="596.66" y="1269.86" width="1.71" height="209.34" fill="#e2e2e2"/>
<rect x="598.33" y="1305.04" width="1.71" height="174.16" fill="#e2e2e2"/>
<rect x="606.33" y="1305.04" width="1.71" height="174.16" fill="#e2e2e2"/>
<rect x="608.00" y="1280.35" width="1.71" height="198.85" fill="#e2e2e2"/>
<rect x="616.00" y="1280.35" width="1.71" height="198.85" fill="#e2e2e2"/>
<rect x="617.66" y="1305.53" width="1.71" height="173.67" fill="#e2e2e2"/>
<rect x="625.67" y="1305.53" width="1.71" height="173.67" fill="#e2e2e2"/>
<rect x="627.34" y="1309.23" width="1.71" height="169.97" fill="#e2e2e2"/>
<rect x="635.34" y="1309.23" width="1.71" height="169.97" fill="#e2e2e2"/>
<rect x="637.00" y="1297.75" width="1.71" height="181.45" fill="#e2e2e2"/>
<rect x="645.01" y="1297.75" width="1.71" height="181.45" fill="#e2e2e2"/>
<rect x="646.67" y="1315.16" width="1.71" height="164.04" fill="#e2e2e2"/>
<rect x="654.68" y="1315.16" width="1.71" height="164.04" fill="#e2e2e2"/>
<rect x="656.35" y="1266.89" width="1.71" height="212.31" fill="#e2e2e2"/>
<rect x="664.35" y="1266.89" width="1.71" height="212.31" fill="#e2e2e2"/>
<rect x="666.02" y="1274.30" width="1.71" height="204.90" fill="#e2e2e2"/>
<rect x="674.02" y="1274.30" width="1.71" height="204.90" fill="#e2e2e2"/>
<rect x="174.70" y="1318.74" width="6.15" height="160.46" fill="#5e5e5e"/>
<rect x="184.22" y="1339.47" width="6.30" height="139.73" fill="#5e5e5e"/>
<rect x="193.89" y="1304.91" width="6.30" height="174.29" fill="#5e5e5e"/>
<rect x="203.56" y="1313.55" width="6.30" height="165.65" fill="#5e5e5e"/>
<rect x="213.23" y="1323.18" width="6.30" height="156.02" fill="#5e5e5e"/>
<rect x="222.90" y="1291.33" width="6.30" height="187.87" fill="#5e5e5e"/>
<rect x="232.57" y="1304.91" width="6.30" height="174.29" fill="#5e5e5e"/>
<rect x="242.24" y="1307.13" width="6.30" height="172.07" fill="#5e5e5e"/>
<rect x="251.91" y="1298.25" width="6.30" height="180.95" fill="#5e5e5e"/>
<rect x="261.58" y="1353.79" width="6.30" height="125.41" fill="#5e5e5e"/>
<rect x="271.25" y="1306.15" width="6.30" height="173.05" fill="#5e5e5e"/>
<rect x="280.92" y="1309.60" width="6.30" height="169.60" fill="#5e5e5e"/>
<rect x="290.59" y="1323.67" width="6.30" height="155.53" fill="#5e5e5e"/>
<rect x="300.26" y="1311.82" width="6.30" height="167.38" fill="#5e5e5e"/>
<rect x="309.93" y="1336.02" width="6.30" height="143.18" fill="#5e5e5e"/>
<rect x="319.60" y="1324.17" width="6.30" height="155.03" fill="#5e5e5e"/>
<rect x="329.27" y="1340.71" width="6.30" height="138.49" fill="#5e5e5e"/>
<rect x="338.94" y="1317.50" width="6.30" height="161.70" fill="#5e5e5e"/>
<rect x="348.61" y="1336.26" width="6.30" height="142.94" fill="#5e5e5e"/>
<rect x="358.28" y="1339.97" width="6.30" height="139.23" fill="#5e5e5e"/>
<rect x="367.95" y="1324.91" width="6.30" height="154.29" fill="#5e5e5e"/>
<rect x="377.62" y="1324.91" width="6.30" height="154.29" fill="#5e5e5e"/>
<rect x="387.29" y="1301.70" width="6.30" height="177.50" fill="#5e5e5e"/>
<rect x="396.96" y="1302.20" width="6.30" height="177.00" fill="#5e5e5e"/>
<rect x="406.63" y="1298.74" width="6.30" height="180.46" fill="#5e5e5e"/>
<rect x="416.30" y="1346.88" width="6.30" height="132.32" fill="#5e5e5e"/>
<rect x="425.97" y="1299.23" width="6.30" height="179.97" fill="#5e5e5e"/>
<rect x="435.64" y="1328.36" width="6.30" height="150.84" fill="#5e5e5e"/>
<rect x="445.31" y="1325.40" width="6.30" height="153.80" fill="#5e5e5e"/>
<rect x="454.98" y="1312.32" width="6.30" height="166.88" fill="#5e5e5e"/>
<rect x="464.65" y="1278.99" width="6.30" height="200.21" fill="#5e5e5e"/>
<rect x="474.32" y="1330.59" width="6.30" height="148.61" fill="#5e5e5e"/>
<rect x="483.99" y="1298.25" width="6.30" height="180.95" fill="#5e5e5e"/>
<rect x="493.66" y="1325.40" width="6.30" height="153.80" fill="#5e5e5e"/>
<rect x="503.33" y="1342.44" width="6.30" height="136.76" fill="#5e5e5e"/>
<rect x="513.00" y="1285.66" width="6.30" height="193.54" fill="#5e5e5e"/>
<rect x="522.67" y="1336.76" width="6.30" height="142.44" fill="#5e5e5e"/>
<rect x="532.34" y="1302.69" width="6.30" height="176.51" fill="#5e5e5e"/>
<rect x="542.01" y="1336.26" width="6.30" height="142.94" fill="#5e5e5e"/>
<rect x="551.68" y="1311.82" width="6.30" height="167.38" fill="#5e5e5e"/>
<rect x="561.35" y="1292.57" width="6.30" height="186.63" fill="#5e5e5e"/>
<rect x="571.02" y="1319.72" width="6.30" height="159.48" fill="#5e5e5e"/>
<rect x="580.69" y="1301.46" width="6.30" height="177.74" fill="#5e5e5e"/>
<rect x="590.36" y="1294.79" width="6.30" height="184.41" fill="#5e5e5e"/>
<rect x="600.03" y="1340.71" width="6.30" height="138.49" fill="#5e5e5e"/>
<rect x="609.70" y="1310.59" width="6.30" height="168.61" fill="#5e5e5e"/>
<rect x="619.37" y="1323.67" width="6.30" height="155.53" fill="#5e5e5e"/>
<rect x="629.04" y="1340.71" width="6.30" height="138.49" fill="#5e5e5e"/>
<rect x="638.71" y="1308.86" width="6.30" height="170.34" fill="#5e5e5e"/>
<rect x="648.38" y="1354.78" width="6.30" height="124.42" fill="#5e5e5e"/>
<rect x="658.05" y="1297.51" width="6.30" height="181.69" fill="#5e5e5e"/>
<rect x="667.72" y="1274.30" width="6.30" height="204.90" fill="#5e5e5e"/>
</g>
<rect x="175.85" y="1281.71" width="3.70" height="37.03" fill="#000"/>
<rect x="174.70" y="1280.06" width="13.50" height="3.30" fill="#000"/>
<rect x="174.70" y="1317.09" width="13.50" height="3.30" fill="#000"/>
<rect x="185.52" y="1260.72" width="3.70" height="78.75" fill="#000"/>
<rect x="176.87" y="1259.07" width="21.00" height="3.30" fill="#000"/>
<rect x="176.87" y="1337.82" width="21.00" height="3.30" fill="#000"/>
<rect x="195.19" y="1247.64" width="3.70" height="57.27" fill="#000"/>
<rect x="186.54" y="1245.99" width="21.00" height="3.30" fill="#000"/>
<rect x="186.54" y="1303.26" width="21.00" height="3.30" fill="#000"/>
<rect x="204.86" y="1247.64" width="3.70" height="65.91" fill="#000"/>
<rect x="196.21" y="1245.99" width="21.00" height="3.30" fill="#000"/>
<rect x="196.21" y="1311.90" width="21.00" height="3.30" fill="#000"/>
<rect x="214.53" y="1261.96" width="3.70" height="61.22" fill="#000"/>
<rect x="205.88" y="1260.31" width="21.00" height="3.30" fill="#000"/>
<rect x="205.88" y="1321.53" width="21.00" height="3.30" fill="#000"/>
<rect x="224.20" y="1269.86" width="3.70" height="21.48" fill="#000"/>
<rect x="215.55" y="1268.21" width="21.00" height="3.30" fill="#000"/>
<rect x="215.55" y="1289.68" width="21.00" height="3.30" fill="#000"/>
<rect x="233.87" y="1248.38" width="3.70" height="56.53" fill="#000"/>
<rect x="225.22" y="1246.73" width="21.00" height="3.30" fill="#000"/>
<rect x="225.22" y="1303.26" width="21.00" height="3.30" fill="#000"/>
<rect x="243.54" y="1284.67" width="3.70" height="22.46" fill="#000"/>
<rect x="234.89" y="1283.02" width="21.00" height="3.30" fill="#000"/>
<rect x="234.89" y="1305.48" width="21.00" height="3.30" fill="#000"/>
<rect x="253.21" y="1275.54" width="3.70" height="22.71" fill="#000"/>
<rect x="244.56" y="1273.88" width="21.00" height="3.30" fill="#000"/>
<rect x="244.56" y="1296.60" width="21.00" height="3.30" fill="#000"/>
<rect x="262.88" y="1284.67" width="3.70" height="69.12" fill="#000"/>
<rect x="254.23" y="1283.02" width="21.00" height="3.30" fill="#000"/>
<rect x="254.23" y="1352.14" width="21.00" height="3.30" fill="#000"/>
<rect x="272.55" y="1270.35" width="3.70" height="35.80" fill="#000"/>
<rect x="263.90" y="1268.70" width="21.00" height="3.30" fill="#000"/>
<rect x="263.90" y="1304.50" width="21.00" height="3.30" fill="#000"/>
<rect x="282.22" y="1259.24" width="3.70" height="50.36" fill="#000"/>
<rect x="273.57" y="1257.59" width="21.00" height="3.30" fill="#000"/>
<rect x="273.57" y="1307.95" width="21.00" height="3.30" fill="#000"/>
<rect x="291.89" y="1277.26" width="3.70" height="46.41" fill="#000"/>
<rect x="283.24" y="1275.61" width="21.00" height="3.30" fill="#000"/>
<rect x="283.24" y="1322.02" width="21.00" height="3.30" fill="#000"/>
<rect x="301.56" y="1248.87" width="3.70" height="62.95" fill="#000"/>
<rect x="292.91" y="1247.22" width="21.00" height="3.30" fill="#000"/>
<rect x="292.91" y="1310.17" width="21.00" height="3.30" fill="#000"/>
<rect x="311.23" y="1289.61" width="3.70" height="46.41" fill="#000"/>
<rect x="302.58" y="1287.96" width="21.00" height="3.30" fill="#000"/>
<rect x="302.58" y="1334.37" width="21.00" height="3.30" fill="#000"/>
<rect x="320.90" y="1273.31" width="3.70" height="50.85" fill="#000"/>
<rect x="312.25" y="1271.66" width="21.00" height="3.30" fill="#000"/>
<rect x="312.25" y="1322.52" width="21.00" height="3.30" fill="#000"/>
<rect x="330.57" y="1298.74" width="3.70" height="41.97" fill="#000"/>
<rect x="321.92" y="1297.09" width="21.00" height="3.30" fill="#000"/>
<rect x="321.92" y="1339.06" width="21.00" height="3.30" fill="#000"/>
<rect x="340.24" y="1256.77" width="3.70" height="60.73" fill="#000"/>
<rect x="331.59" y="1255.12" width="21.00" height="3.30" fill="#000"/>
<rect x="331.59" y="1315.85" width="21.00" height="3.30" fill="#000"/>
<rect x="349.91" y="1303.92" width="3.70" height="32.34" fill="#000"/>
<rect x="341.26" y="1302.27" width="21.00" height="3.30" fill="#000"/>
<rect x="341.26" y="1334.61" width="21.00" height="3.30" fill="#000"/>
<rect x="359.58" y="1298.25" width="3.70" height="41.72" fill="#000"/>
<rect x="350.93" y="1296.60" width="21.00" height="3.30" fill="#000"/>
<rect x="350.93" y="1338.32" width="21.00" height="3.30" fill="#000"/>
<rect x="369.25" y="1254.06" width="3.70" height="70.85" fill="#000"/>
<rect x="360.60" y="1252.41" width="21.00" height="3.30" fill="#000"/>
<rect x="360.60" y="1323.26" width="21.00" height="3.30" fill="#000"/>
<rect x="378.92" y="1253.32" width="3.70" height="71.59" fill="#000"/>
<rect x="370.27" y="1251.67" width="21.00" height="3.30" fill="#000"/>
<rect x="370.27" y="1323.26" width="21.00" height="3.30" fill="#000"/>
<rect x="388.59" y="1254.55" width="3.70" height="47.15" fill="#000"/>
<rect x="379.94" y="1252.90" width="21.00" height="3.30" fill="#000"/>
<rect x="379.94" y="1300.05" width="21.00" height="3.30" fill="#000"/>
<rect x="398.26" y="1265.41" width="3.70" height="36.78" fill="#000"/>
<rect x="389.61" y="1263.76" width="21.00" height="3.30" fill="#000"/>
<rect x="389.61" y="1300.55" width="21.00" height="3.30" fill="#000"/>
<rect x="407.93" y="1259.74" width="3.70" height="39.00" fill="#000"/>
<rect x="399.28" y="1258.09" width="21.00" height="3.30" fill="#000"/>
<rect x="399.28" y="1297.09" width="21.00" height="3.30" fill="#000"/>
<rect x="417.60" y="1278.99" width="3.70" height="67.89" fill="#000"/>
<rect x="408.95" y="1277.34" width="21.00" height="3.30" fill="#000"/>
<rect x="408.95" y="1345.23" width="21.00" height="3.30" fill="#000"/>
<rect x="427.27" y="1241.47" width="3.70" height="57.77" fill="#000"/>
<rect x="418.62" y="1239.82" width="21.00" height="3.30" fill="#000"/>
<rect x="418.62" y="1297.58" width="21.00" height="3.30" fill="#000"/>
<rect x="436.94" y="1276.52" width="3.70" height="51.84" fill="#000"/>
<rect x="428.29" y="1274.87" width="21.00" height="3.30" fill="#000"/>
<rect x="428.29" y="1326.71" width="21.00" height="3.30" fill="#000"/>
<rect x="446.61" y="1278.99" width="3.70" height="46.41" fill="#000"/>
<rect x="437.96" y="1277.34" width="21.00" height="3.30" fill="#000"/>
<rect x="437.96" y="1323.75" width="21.00" height="3.30" fill="#000"/>
<rect x="456.28" y="1273.81" width="3.70" height="38.51" fill="#000"/>
<rect x="447.63" y="1272.16" width="21.00" height="3.30" fill="#000"/>
<rect x="447.63" y="1310.67" width="21.00" height="3.30" fill="#000"/>
<rect x="465.95" y="1257.27" width="3.70" height="21.72" fill="#000"/>
<rect x="457.30" y="1255.62" width="21.00" height="3.30" fill="#000"/>
<rect x="457.30" y="1277.34" width="21.00" height="3.30" fill="#000"/>
<rect x="475.62" y="1283.43" width="3.70" height="47.15" fill="#000"/>
<rect x="466.97" y="1281.78" width="21.00" height="3.30" fill="#000"/>
<rect x="466.97" y="1328.94" width="21.00" height="3.30" fill="#000"/>
<rect x="485.29" y="1260.72" width="3.70" height="37.52" fill="#000"/>
<rect x="476.64" y="1259.07" width="21.00" height="3.30" fill="#000"/>
<rect x="476.64" y="1296.60" width="21.00" height="3.30" fill="#000"/>
<rect x="494.96" y="1285.66" width="3.70" height="39.75" fill="#000"/>
<rect x="486.31" y="1284.01" width="21.00" height="3.30" fill="#000"/>
<rect x="486.31" y="1323.75" width="21.00" height="3.30" fill="#000"/>
<rect x="504.63" y="1254.06" width="3.70" height="88.38" fill="#000"/>
<rect x="495.98" y="1252.41" width="21.00" height="3.30" fill="#000"/>
<rect x="495.98" y="1340.79" width="21.00" height="3.30" fill="#000"/>
<rect x="514.30" y="1254.06" width="3.70" height="31.60" fill="#000"/>
<rect x="505.65" y="1252.41" width="21.00" height="3.30" fill="#000"/>
<rect x="505.65" y="1284.01" width="21.00" height="3.30" fill="#000"/>
<rect x="523.97" y="1278.99" width="3.70" height="57.77" fill="#000"/>
<rect x="515.32" y="1277.34" width="21.00" height="3.30" fill="#000"/>
<rect x="515.32" y="1335.11" width="21.00" height="3.30" fill="#000"/>
<rect x="533.64" y="1226.16" width="3.70" height="76.53" fill="#000"/>
<rect x="524.99" y="1224.51" width="21.00" height="3.30" fill="#000"/>
<rect x="524.99" y="1301.04" width="21.00" height="3.30" fill="#000"/>
<rect x="543.31" y="1299.23" width="3.70" height="37.03" fill="#000"/>
<rect x="534.66" y="1297.58" width="21.00" height="3.30" fill="#000"/>
<rect x="534.66" y="1334.61" width="21.00" height="3.30" fill="#000"/>
<rect x="552.98" y="1233.07" width="3.70" height="78.75" fill="#000"/>
<rect x="544.33" y="1231.42" width="21.00" height="3.30" fill="#000"/>
<rect x="544.33" y="1310.17" width="21.00" height="3.30" fill="#000"/>
<rect x="562.65" y="1263.69" width="3.70" height="28.88" fill="#000"/>
<rect x="554.00" y="1262.04" width="21.00" height="3.30" fill="#000"/>
<rect x="554.00" y="1290.92" width="21.00" height="3.30" fill="#000"/>
<rect x="572.32" y="1280.47" width="3.70" height="39.25" fill="#000"/>
<rect x="563.67" y="1278.82" width="21.00" height="3.30" fill="#000"/>
<rect x="563.67" y="1318.07" width="21.00" height="3.30" fill="#000"/>
<rect x="581.99" y="1276.03" width="3.70" height="25.43" fill="#000"/>
<rect x="573.34" y="1274.38" width="21.00" height="3.30" fill="#000"/>
<rect x="573.34" y="1299.81" width="21.00" height="3.30" fill="#000"/>
<rect x="591.66" y="1244.92" width="3.70" height="49.87" fill="#000"/>
<rect x="583.01" y="1243.27" width="21.00" height="3.30" fill="#000"/>
<rect x="583.01" y="1293.14" width="21.00" height="3.30" fill="#000"/>
<rect x="601.33" y="1269.36" width="3.70" height="71.34" fill="#000"/>
<rect x="592.68" y="1267.71" width="21.00" height="3.30" fill="#000"/>
<rect x="592.68" y="1339.06" width="21.00" height="3.30" fill="#000"/>
<rect x="611.00" y="1250.11" width="3.70" height="60.48" fill="#000"/>
<rect x="602.35" y="1248.46" width="21.00" height="3.30" fill="#000"/>
<rect x="602.35" y="1308.94" width="21.00" height="3.30" fill="#000"/>
<rect x="620.67" y="1287.38" width="3.70" height="36.29" fill="#000"/>
<rect x="612.02" y="1285.73" width="21.00" height="3.30" fill="#000"/>
<rect x="612.02" y="1322.02" width="21.00" height="3.30" fill="#000"/>
<rect x="630.34" y="1277.76" width="3.70" height="62.95" fill="#000"/>
<rect x="621.69" y="1276.11" width="21.00" height="3.30" fill="#000"/>
<rect x="621.69" y="1339.06" width="21.00" height="3.30" fill="#000"/>
<rect x="640.01" y="1286.64" width="3.70" height="22.22" fill="#000"/>
<rect x="631.36" y="1284.99" width="21.00" height="3.30" fill="#000"/>
<rect x="631.36" y="1307.21" width="21.00" height="3.30" fill="#000"/>
<rect x="649.68" y="1275.54" width="3.70" height="79.24" fill="#000"/>
<rect x="641.03" y="1273.88" width="21.00" height="3.30" fill="#000"/>
<rect x="641.03" y="1353.13" width="21.00" height="3.30" fill="#000"/>
<rect x="659.35" y="1236.28" width="3.70" height="61.22" fill="#000"/>
<rect x="650.70" y="1234.63" width="21.00" height="3.30" fill="#000"/>
<rect x="650.70" y="1295.86" width="21.00" height="3.30" fill="#000"/>
<rect x="174.70" y="1107.90" width="5.60" height="374.20" fill="#000"/>
<rect x="165.00" y="1476.30" width="506.50" height="5.80" fill="#000"/>
<rect x="165.00" y="1476.60" width="12.50" height="5.20" fill="#000"/>
<rect x="165.00" y="1353.17" width="12.50" height="5.20" fill="#000"/>
<rect x="165.00" y="1229.73" width="12.50" height="5.20" fill="#000"/>
<rect x="165.00" y="1106.30" width="12.50" height="5.20" fill="#000"/>
<rect x="174.70" y="1479.20" width="5.60" height="11.80" fill="#000"/>
<rect x="271.40" y="1479.20" width="5.60" height="11.80" fill="#000"/>
<rect x="368.10" y="1479.20" width="5.60" height="11.80" fill="#000"/>
<rect x="464.80" y="1479.20" width="5.60" height="11.80" fill="#000"/>
<rect x="561.50" y="1479.20" width="5.60" height="11.80" fill="#000"/>
<rect x="658.20" y="1479.20" width="5.60" height="11.80" fill="#000"/>
<text transform="translate(114.50,1490.30) scale(0.35527,0.34000)" font-weight="700">0</text>
<text transform="translate(94.79,1366.87) scale(0.35527,0.34000)" font-weight="700">50</text>
<text transform="translate(75.07,1243.43) scale(0.35527,0.34000)" font-weight="700">100</text>
<text transform="translate(75.07,1120.00) scale(0.35527,0.34000)" font-weight="700">150</text>
<text transform="translate(168.04,1526.70) scale(0.35527,0.34000)" font-weight="700">0</text>
<text transform="translate(264.65,1526.70) scale(0.35527,0.34000)" font-weight="700">5</text>
<text transform="translate(351.23,1526.70) scale(0.35527,0.34000)" font-weight="700">10</text>
<text transform="translate(447.66,1526.70) scale(0.35527,0.34000)" font-weight="700">15</text>
<text transform="translate(545.07,1526.70) scale(0.35527,0.34000)" font-weight="700">20</text>
<text transform="translate(641.50,1526.70) scale(0.35527,0.34000)" font-weight="700">25</text>
<text transform="translate(311.88,1569.95) scale(0.43631,0.43724)" font-weight="400" stroke="#000" stroke-width="2.06" stroke-linejoin="round">Time (min)</text>
<text transform="translate(63.45,1465.15) rotate(-90) scale(0.33738,0.36232)" font-weight="400" stroke="#000" stroke-width="2.00" stroke-linejoin="round">Events (mEPSCs/30s)</text>
<text transform="translate(35.85,1088.50) scale(0.48496,0.53188)" font-weight="700">E</text>
<rect x="180.00" y="1167.00" width="488.20" height="10.20" fill="#000"/>
<text transform="translate(312.25,1163.25) scale(0.39040,0.38483)" font-weight="400" stroke="#000" stroke-width="1.81" stroke-linejoin="round">Verapamil</text>
<rect x="277.10" y="1224.80" width="190.00" height="10.40" fill="#000"/>
<text transform="translate(281.31,1216.75) scale(0.34168,0.30571)" font-weight="400" stroke="#000" stroke-width="2.16" stroke-linejoin="round">SR58611A</text>
<g>
<rect x="948.05" y="1309.59" width="1.71" height="172.81" fill="#e2e2e2"/>
<rect x="949.72" y="1319.84" width="1.71" height="162.56" fill="#e2e2e2"/>
<rect x="957.72" y="1319.84" width="1.71" height="162.56" fill="#e2e2e2"/>
<rect x="959.39" y="1281.33" width="1.71" height="201.07" fill="#e2e2e2"/>
<rect x="967.39" y="1281.33" width="1.71" height="201.07" fill="#e2e2e2"/>
<rect x="969.06" y="1314.53" width="1.71" height="167.87" fill="#e2e2e2"/>
<rect x="977.06" y="1314.53" width="1.71" height="167.87" fill="#e2e2e2"/>
<rect x="978.73" y="1281.82" width="1.71" height="200.58" fill="#e2e2e2"/>
<rect x="986.73" y="1281.82" width="1.71" height="200.58" fill="#e2e2e2"/>
<rect x="988.40" y="1285.89" width="1.71" height="196.51" fill="#e2e2e2"/>
<rect x="996.40" y="1285.89" width="1.71" height="196.51" fill="#e2e2e2"/>
<rect x="998.07" y="1302.80" width="1.71" height="179.60" fill="#e2e2e2"/>
<rect x="1006.07" y="1302.80" width="1.71" height="179.60" fill="#e2e2e2"/>
<rect x="1007.74" y="1269.72" width="1.71" height="212.68" fill="#e2e2e2"/>
<rect x="1015.74" y="1269.72" width="1.71" height="212.68" fill="#e2e2e2"/>
<rect x="1017.41" y="1271.45" width="1.71" height="210.95" fill="#e2e2e2"/>
<rect x="1025.41" y="1271.45" width="1.70" height="210.95" fill="#e2e2e2"/>
<rect x="1027.08" y="1289.84" width="1.70" height="192.56" fill="#e2e2e2"/>
<rect x="1035.08" y="1289.84" width="1.70" height="192.56" fill="#e2e2e2"/>
<rect x="1036.75" y="1282.44" width="1.70" height="199.96" fill="#e2e2e2"/>
<rect x="1044.75" y="1282.44" width="1.70" height="199.96" fill="#e2e2e2"/>
<rect x="1046.42" y="1298.85" width="1.70" height="183.55" fill="#e2e2e2"/>
<rect x="1054.42" y="1298.85" width="1.70" height="183.55" fill="#e2e2e2"/>
<rect x="1056.09" y="1285.89" width="1.70" height="196.51" fill="#e2e2e2"/>
<rect x="1064.09" y="1285.89" width="1.70" height="196.51" fill="#e2e2e2"/>
<rect x="1065.76" y="1303.42" width="1.70" height="178.98" fill="#e2e2e2"/>
<rect x="1073.76" y="1303.42" width="1.70" height="178.98" fill="#e2e2e2"/>
<rect x="1075.42" y="1296.02" width="1.70" height="186.38" fill="#e2e2e2"/>
<rect x="1083.43" y="1296.02" width="1.70" height="186.38" fill="#e2e2e2"/>
<rect x="1085.10" y="1277.25" width="1.70" height="205.15" fill="#e2e2e2"/>
<rect x="1093.10" y="1277.25" width="1.70" height="205.15" fill="#e2e2e2"/>
<rect x="1094.77" y="1280.83" width="1.70" height="201.57" fill="#e2e2e2"/>
<rect x="1102.77" y="1280.83" width="1.70" height="201.57" fill="#e2e2e2"/>
<rect x="1104.44" y="1278.49" width="1.70" height="203.91" fill="#e2e2e2"/>
<rect x="1112.44" y="1278.49" width="1.70" height="203.91" fill="#e2e2e2"/>
<rect x="1114.11" y="1302.56" width="1.70" height="179.84" fill="#e2e2e2"/>
<rect x="1122.11" y="1302.56" width="1.70" height="179.84" fill="#e2e2e2"/>
<rect x="1123.78" y="1303.42" width="1.70" height="178.98" fill="#e2e2e2"/>
<rect x="1131.78" y="1303.42" width="1.70" height="178.98" fill="#e2e2e2"/>
<rect x="1133.45" y="1304.78" width="1.70" height="177.62" fill="#e2e2e2"/>
<rect x="1141.45" y="1304.78" width="1.70" height="177.62" fill="#e2e2e2"/>
<rect x="1143.12" y="1266.76" width="1.70" height="215.64" fill="#e2e2e2"/>
<rect x="1151.12" y="1266.76" width="1.70" height="215.64" fill="#e2e2e2"/>
<rect x="1152.79" y="1298.85" width="1.70" height="183.55" fill="#e2e2e2"/>
<rect x="1160.79" y="1298.85" width="1.70" height="183.55" fill="#e2e2e2"/>
<rect x="1162.46" y="1312.43" width="1.70" height="169.97" fill="#e2e2e2"/>
<rect x="1170.46" y="1312.43" width="1.70" height="169.97" fill="#e2e2e2"/>
<rect x="1172.12" y="1294.16" width="1.70" height="188.24" fill="#e2e2e2"/>
<rect x="1180.13" y="1294.16" width="1.70" height="188.24" fill="#e2e2e2"/>
<rect x="1181.80" y="1277.62" width="1.70" height="204.78" fill="#e2e2e2"/>
<rect x="1189.80" y="1277.62" width="1.70" height="204.78" fill="#e2e2e2"/>
<rect x="1191.47" y="1297.25" width="1.70" height="185.15" fill="#e2e2e2"/>
<rect x="1199.47" y="1297.25" width="1.70" height="185.15" fill="#e2e2e2"/>
<rect x="1201.13" y="1292.68" width="1.70" height="189.72" fill="#e2e2e2"/>
<rect x="1209.14" y="1292.68" width="1.70" height="189.72" fill="#e2e2e2"/>
<rect x="1210.81" y="1323.29" width="1.70" height="159.11" fill="#e2e2e2"/>
<rect x="1218.81" y="1323.29" width="1.70" height="159.11" fill="#e2e2e2"/>
<rect x="1220.48" y="1289.23" width="1.70" height="193.17" fill="#e2e2e2"/>
<rect x="1228.48" y="1289.23" width="1.70" height="193.17" fill="#e2e2e2"/>
<rect x="1230.15" y="1281.08" width="1.70" height="201.32" fill="#e2e2e2"/>
<rect x="1238.15" y="1281.08" width="1.70" height="201.32" fill="#e2e2e2"/>
<rect x="1239.82" y="1313.91" width="1.70" height="168.49" fill="#e2e2e2"/>
<rect x="1247.82" y="1313.91" width="1.70" height="168.49" fill="#e2e2e2"/>
<rect x="1249.49" y="1283.55" width="1.70" height="198.85" fill="#e2e2e2"/>
<rect x="1257.49" y="1283.55" width="1.70" height="198.85" fill="#e2e2e2"/>
<rect x="1259.15" y="1306.88" width="1.70" height="175.52" fill="#e2e2e2"/>
<rect x="1267.16" y="1306.88" width="1.70" height="175.52" fill="#e2e2e2"/>
<rect x="1268.83" y="1322.18" width="1.70" height="160.22" fill="#e2e2e2"/>
<rect x="1276.83" y="1322.18" width="1.70" height="160.22" fill="#e2e2e2"/>
<rect x="1278.50" y="1308.61" width="1.70" height="173.79" fill="#e2e2e2"/>
<rect x="1286.50" y="1308.61" width="1.70" height="173.79" fill="#e2e2e2"/>
<rect x="1288.17" y="1279.35" width="1.70" height="203.05" fill="#e2e2e2"/>
<rect x="1296.17" y="1279.35" width="1.70" height="203.05" fill="#e2e2e2"/>
<rect x="1297.84" y="1300.83" width="1.70" height="181.57" fill="#e2e2e2"/>
<rect x="1305.84" y="1300.83" width="1.70" height="181.57" fill="#e2e2e2"/>
<rect x="1307.51" y="1295.52" width="1.70" height="186.88" fill="#e2e2e2"/>
<rect x="1315.51" y="1295.52" width="1.70" height="186.88" fill="#e2e2e2"/>
<rect x="1317.17" y="1296.88" width="1.70" height="185.52" fill="#e2e2e2"/>
<rect x="1325.18" y="1296.88" width="1.70" height="185.52" fill="#e2e2e2"/>
<rect x="1326.85" y="1311.44" width="1.70" height="170.96" fill="#e2e2e2"/>
<rect x="1334.85" y="1311.44" width="1.70" height="170.96" fill="#e2e2e2"/>
<rect x="1336.52" y="1302.93" width="1.70" height="179.47" fill="#e2e2e2"/>
<rect x="1344.52" y="1302.93" width="1.70" height="179.47" fill="#e2e2e2"/>
<rect x="1346.19" y="1303.42" width="1.70" height="178.98" fill="#e2e2e2"/>
<rect x="1354.19" y="1303.42" width="1.70" height="178.98" fill="#e2e2e2"/>
<rect x="1355.86" y="1274.17" width="1.70" height="208.23" fill="#e2e2e2"/>
<rect x="1363.86" y="1274.17" width="1.70" height="208.23" fill="#e2e2e2"/>
<rect x="1365.53" y="1274.29" width="1.70" height="208.11" fill="#e2e2e2"/>
<rect x="1373.53" y="1274.29" width="1.70" height="208.11" fill="#e2e2e2"/>
<rect x="1375.19" y="1273.67" width="1.70" height="208.73" fill="#e2e2e2"/>
<rect x="1383.20" y="1273.67" width="1.70" height="208.73" fill="#e2e2e2"/>
<rect x="1384.87" y="1296.51" width="1.70" height="185.89" fill="#e2e2e2"/>
<rect x="1392.87" y="1296.51" width="1.70" height="185.89" fill="#e2e2e2"/>
<rect x="1394.54" y="1302.56" width="1.70" height="179.84" fill="#e2e2e2"/>
<rect x="1402.54" y="1302.56" width="1.70" height="179.84" fill="#e2e2e2"/>
<rect x="1404.21" y="1292.31" width="1.70" height="190.09" fill="#e2e2e2"/>
<rect x="1412.21" y="1292.31" width="1.70" height="190.09" fill="#e2e2e2"/>
<rect x="1413.88" y="1313.54" width="1.70" height="168.86" fill="#e2e2e2"/>
<rect x="1421.88" y="1313.54" width="1.70" height="168.86" fill="#e2e2e2"/>
<rect x="1423.55" y="1304.66" width="1.70" height="177.74" fill="#e2e2e2"/>
<rect x="1431.55" y="1304.66" width="1.70" height="177.74" fill="#e2e2e2"/>
<rect x="1433.22" y="1304.66" width="1.70" height="177.74" fill="#e2e2e2"/>
<rect x="1441.22" y="1304.66" width="1.70" height="177.74" fill="#e2e2e2"/>
<rect x="941.90" y="1329.34" width="6.15" height="153.06" fill="#5e5e5e"/>
<rect x="951.42" y="1366.37" width="6.30" height="116.03" fill="#5e5e5e"/>
<rect x="961.09" y="1294.29" width="6.30" height="188.11" fill="#5e5e5e"/>
<rect x="970.76" y="1335.76" width="6.30" height="146.64" fill="#5e5e5e"/>
<rect x="980.43" y="1302.19" width="6.30" height="180.21" fill="#5e5e5e"/>
<rect x="990.10" y="1305.15" width="6.30" height="177.25" fill="#5e5e5e"/>
<rect x="999.77" y="1332.80" width="6.30" height="149.60" fill="#5e5e5e"/>
<rect x="1009.44" y="1280.22" width="6.30" height="202.18" fill="#5e5e5e"/>
<rect x="1019.11" y="1293.30" width="6.30" height="189.10" fill="#5e5e5e"/>
<rect x="1028.78" y="1306.88" width="6.30" height="175.52" fill="#5e5e5e"/>
<rect x="1038.45" y="1294.29" width="6.30" height="188.11" fill="#5e5e5e"/>
<rect x="1048.12" y="1326.63" width="6.30" height="155.77" fill="#5e5e5e"/>
<rect x="1057.79" y="1328.36" width="6.30" height="154.04" fill="#5e5e5e"/>
<rect x="1067.46" y="1324.90" width="6.30" height="157.50" fill="#5e5e5e"/>
<rect x="1077.13" y="1330.58" width="6.30" height="151.82" fill="#5e5e5e"/>
<rect x="1086.80" y="1288.61" width="6.30" height="193.79" fill="#5e5e5e"/>
<rect x="1096.47" y="1304.66" width="6.30" height="177.74" fill="#5e5e5e"/>
<rect x="1106.14" y="1307.87" width="6.30" height="174.53" fill="#5e5e5e"/>
<rect x="1115.81" y="1333.54" width="6.30" height="148.86" fill="#5e5e5e"/>
<rect x="1125.48" y="1326.63" width="6.30" height="155.77" fill="#5e5e5e"/>
<rect x="1135.15" y="1330.58" width="6.30" height="151.82" fill="#5e5e5e"/>
<rect x="1144.82" y="1302.93" width="6.30" height="179.47" fill="#5e5e5e"/>
<rect x="1154.49" y="1324.90" width="6.30" height="157.50" fill="#5e5e5e"/>
<rect x="1164.16" y="1348.10" width="6.30" height="134.30" fill="#5e5e5e"/>
<rect x="1173.83" y="1304.66" width="6.30" height="177.74" fill="#5e5e5e"/>
<rect x="1183.50" y="1314.78" width="6.30" height="167.62" fill="#5e5e5e"/>
<rect x="1193.17" y="1333.54" width="6.30" height="148.86" fill="#5e5e5e"/>
<rect x="1202.84" y="1307.37" width="6.30" height="175.03" fill="#5e5e5e"/>
<rect x="1212.51" y="1358.47" width="6.30" height="123.93" fill="#5e5e5e"/>
<rect x="1222.18" y="1301.69" width="6.30" height="180.71" fill="#5e5e5e"/>
<rect x="1231.85" y="1291.57" width="6.30" height="190.83" fill="#5e5e5e"/>
<rect x="1241.52" y="1332.80" width="6.30" height="149.60" fill="#5e5e5e"/>
<rect x="1251.19" y="1296.51" width="6.30" height="185.89" fill="#5e5e5e"/>
<rect x="1260.86" y="1339.71" width="6.30" height="142.69" fill="#5e5e5e"/>
<rect x="1270.53" y="1347.12" width="6.30" height="135.28" fill="#5e5e5e"/>
<rect x="1280.20" y="1347.12" width="6.30" height="135.28" fill="#5e5e5e"/>
<rect x="1289.87" y="1304.66" width="6.30" height="177.74" fill="#5e5e5e"/>
<rect x="1299.54" y="1321.44" width="6.30" height="160.96" fill="#5e5e5e"/>
<rect x="1309.21" y="1318.23" width="6.30" height="164.17" fill="#5e5e5e"/>
<rect x="1318.88" y="1312.56" width="6.30" height="169.84" fill="#5e5e5e"/>
<rect x="1328.55" y="1331.81" width="6.30" height="150.59" fill="#5e5e5e"/>
<rect x="1338.22" y="1335.27" width="6.30" height="147.13" fill="#5e5e5e"/>
<rect x="1347.89" y="1339.71" width="6.30" height="142.69" fill="#5e5e5e"/>
<rect x="1357.56" y="1286.39" width="6.30" height="196.01" fill="#5e5e5e"/>
<rect x="1367.23" y="1301.20" width="6.30" height="181.20" fill="#5e5e5e"/>
<rect x="1376.90" y="1307.87" width="6.30" height="174.53" fill="#5e5e5e"/>
<rect x="1386.57" y="1336.75" width="6.30" height="145.65" fill="#5e5e5e"/>
<rect x="1396.24" y="1311.82" width="6.30" height="170.58" fill="#5e5e5e"/>
<rect x="1405.91" y="1307.87" width="6.30" height="174.53" fill="#5e5e5e"/>
<rect x="1415.58" y="1344.15" width="6.30" height="138.25" fill="#5e5e5e"/>
<rect x="1425.25" y="1335.27" width="6.30" height="147.13" fill="#5e5e5e"/>
<rect x="1434.92" y="1304.66" width="6.30" height="177.74" fill="#5e5e5e"/>
</g>
<rect x="943.05" y="1289.84" width="3.70" height="39.50" fill="#000"/>
<rect x="941.90" y="1288.19" width="13.50" height="3.30" fill="#000"/>
<rect x="941.90" y="1327.69" width="13.50" height="3.30" fill="#000"/>
<rect x="952.72" y="1273.30" width="3.70" height="93.07" fill="#000"/>
<rect x="944.07" y="1271.65" width="21.00" height="3.30" fill="#000"/>
<rect x="944.07" y="1364.72" width="21.00" height="3.30" fill="#000"/>
<rect x="962.39" y="1268.37" width="3.70" height="25.92" fill="#000"/>
<rect x="953.74" y="1266.72" width="21.00" height="3.30" fill="#000"/>
<rect x="953.74" y="1292.64" width="21.00" height="3.30" fill="#000"/>
<rect x="972.06" y="1293.30" width="3.70" height="42.46" fill="#000"/>
<rect x="963.41" y="1291.65" width="21.00" height="3.30" fill="#000"/>
<rect x="963.41" y="1334.11" width="21.00" height="3.30" fill="#000"/>
<rect x="981.73" y="1261.45" width="3.70" height="40.73" fill="#000"/>
<rect x="973.08" y="1259.80" width="21.00" height="3.30" fill="#000"/>
<rect x="973.08" y="1300.54" width="21.00" height="3.30" fill="#000"/>
<rect x="991.40" y="1266.64" width="3.70" height="38.51" fill="#000"/>
<rect x="982.75" y="1264.99" width="21.00" height="3.30" fill="#000"/>
<rect x="982.75" y="1303.50" width="21.00" height="3.30" fill="#000"/>
<rect x="1001.07" y="1272.81" width="3.70" height="59.99" fill="#000"/>
<rect x="992.42" y="1271.16" width="21.00" height="3.30" fill="#000"/>
<rect x="992.42" y="1331.15" width="21.00" height="3.30" fill="#000"/>
<rect x="1010.74" y="1259.23" width="3.70" height="20.98" fill="#000"/>
<rect x="1002.09" y="1257.58" width="21.00" height="3.30" fill="#000"/>
<rect x="1002.09" y="1278.57" width="21.00" height="3.30" fill="#000"/>
<rect x="1020.41" y="1249.60" width="3.70" height="43.70" fill="#000"/>
<rect x="1011.76" y="1247.95" width="21.00" height="3.30" fill="#000"/>
<rect x="1011.76" y="1291.65" width="21.00" height="3.30" fill="#000"/>
<rect x="1030.08" y="1272.81" width="3.70" height="34.07" fill="#000"/>
<rect x="1021.43" y="1271.16" width="21.00" height="3.30" fill="#000"/>
<rect x="1021.43" y="1305.23" width="21.00" height="3.30" fill="#000"/>
<rect x="1039.75" y="1270.59" width="3.70" height="23.70" fill="#000"/>
<rect x="1031.10" y="1268.94" width="21.00" height="3.30" fill="#000"/>
<rect x="1031.10" y="1292.64" width="21.00" height="3.30" fill="#000"/>
<rect x="1049.42" y="1271.08" width="3.70" height="55.55" fill="#000"/>
<rect x="1040.77" y="1269.43" width="21.00" height="3.30" fill="#000"/>
<rect x="1040.77" y="1324.98" width="21.00" height="3.30" fill="#000"/>
<rect x="1059.09" y="1243.43" width="3.70" height="84.92" fill="#000"/>
<rect x="1050.44" y="1241.78" width="21.00" height="3.30" fill="#000"/>
<rect x="1050.44" y="1326.71" width="21.00" height="3.30" fill="#000"/>
<rect x="1068.76" y="1281.94" width="3.70" height="42.95" fill="#000"/>
<rect x="1060.11" y="1280.29" width="21.00" height="3.30" fill="#000"/>
<rect x="1060.11" y="1323.25" width="21.00" height="3.30" fill="#000"/>
<rect x="1078.43" y="1261.45" width="3.70" height="69.12" fill="#000"/>
<rect x="1069.78" y="1259.80" width="21.00" height="3.30" fill="#000"/>
<rect x="1069.78" y="1328.93" width="21.00" height="3.30" fill="#000"/>
<rect x="1088.10" y="1265.90" width="3.70" height="22.71" fill="#000"/>
<rect x="1079.45" y="1264.25" width="21.00" height="3.30" fill="#000"/>
<rect x="1079.45" y="1286.96" width="21.00" height="3.30" fill="#000"/>
<rect x="1097.77" y="1257.01" width="3.70" height="47.65" fill="#000"/>
<rect x="1089.12" y="1255.36" width="21.00" height="3.30" fill="#000"/>
<rect x="1089.12" y="1303.01" width="21.00" height="3.30" fill="#000"/>
<rect x="1107.44" y="1249.11" width="3.70" height="58.75" fill="#000"/>
<rect x="1098.79" y="1247.46" width="21.00" height="3.30" fill="#000"/>
<rect x="1098.79" y="1306.22" width="21.00" height="3.30" fill="#000"/>
<rect x="1117.11" y="1271.58" width="3.70" height="61.96" fill="#000"/>
<rect x="1108.46" y="1269.93" width="21.00" height="3.30" fill="#000"/>
<rect x="1108.46" y="1331.89" width="21.00" height="3.30" fill="#000"/>
<rect x="1126.78" y="1280.22" width="3.70" height="46.41" fill="#000"/>
<rect x="1118.13" y="1278.57" width="21.00" height="3.30" fill="#000"/>
<rect x="1118.13" y="1324.98" width="21.00" height="3.30" fill="#000"/>
<rect x="1136.45" y="1278.98" width="3.70" height="51.60" fill="#000"/>
<rect x="1127.80" y="1277.33" width="21.00" height="3.30" fill="#000"/>
<rect x="1127.80" y="1328.93" width="21.00" height="3.30" fill="#000"/>
<rect x="1146.12" y="1230.60" width="3.70" height="72.33" fill="#000"/>
<rect x="1137.47" y="1228.95" width="21.00" height="3.30" fill="#000"/>
<rect x="1137.47" y="1301.28" width="21.00" height="3.30" fill="#000"/>
<rect x="1155.79" y="1272.81" width="3.70" height="52.09" fill="#000"/>
<rect x="1147.14" y="1271.16" width="21.00" height="3.30" fill="#000"/>
<rect x="1147.14" y="1323.25" width="21.00" height="3.30" fill="#000"/>
<rect x="1165.46" y="1276.76" width="3.70" height="71.34" fill="#000"/>
<rect x="1156.81" y="1275.11" width="21.00" height="3.30" fill="#000"/>
<rect x="1156.81" y="1346.45" width="21.00" height="3.30" fill="#000"/>
<rect x="1175.13" y="1283.67" width="3.70" height="20.98" fill="#000"/>
<rect x="1166.48" y="1282.02" width="21.00" height="3.30" fill="#000"/>
<rect x="1166.48" y="1303.01" width="21.00" height="3.30" fill="#000"/>
<rect x="1184.80" y="1240.47" width="3.70" height="74.31" fill="#000"/>
<rect x="1176.15" y="1238.82" width="21.00" height="3.30" fill="#000"/>
<rect x="1176.15" y="1313.13" width="21.00" height="3.30" fill="#000"/>
<rect x="1194.47" y="1260.96" width="3.70" height="72.58" fill="#000"/>
<rect x="1185.82" y="1259.31" width="21.00" height="3.30" fill="#000"/>
<rect x="1185.82" y="1331.89" width="21.00" height="3.30" fill="#000"/>
<rect x="1204.14" y="1277.99" width="3.70" height="29.38" fill="#000"/>
<rect x="1195.49" y="1276.34" width="21.00" height="3.30" fill="#000"/>
<rect x="1195.49" y="1305.72" width="21.00" height="3.30" fill="#000"/>
<rect x="1213.81" y="1288.12" width="3.70" height="70.36" fill="#000"/>
<rect x="1205.16" y="1286.47" width="21.00" height="3.30" fill="#000"/>
<rect x="1205.16" y="1356.82" width="21.00" height="3.30" fill="#000"/>
<rect x="1223.48" y="1276.76" width="3.70" height="24.93" fill="#000"/>
<rect x="1214.83" y="1275.11" width="21.00" height="3.30" fill="#000"/>
<rect x="1214.83" y="1300.04" width="21.00" height="3.30" fill="#000"/>
<rect x="1233.15" y="1270.59" width="3.70" height="20.98" fill="#000"/>
<rect x="1224.50" y="1268.94" width="21.00" height="3.30" fill="#000"/>
<rect x="1224.50" y="1289.92" width="21.00" height="3.30" fill="#000"/>
<rect x="1242.82" y="1295.03" width="3.70" height="37.77" fill="#000"/>
<rect x="1234.17" y="1293.38" width="21.00" height="3.30" fill="#000"/>
<rect x="1234.17" y="1331.15" width="21.00" height="3.30" fill="#000"/>
<rect x="1252.49" y="1270.59" width="3.70" height="25.92" fill="#000"/>
<rect x="1243.84" y="1268.94" width="21.00" height="3.30" fill="#000"/>
<rect x="1243.84" y="1294.86" width="21.00" height="3.30" fill="#000"/>
<rect x="1262.16" y="1274.04" width="3.70" height="65.67" fill="#000"/>
<rect x="1253.51" y="1272.39" width="21.00" height="3.30" fill="#000"/>
<rect x="1253.51" y="1338.06" width="21.00" height="3.30" fill="#000"/>
<rect x="1271.83" y="1297.25" width="3.70" height="49.87" fill="#000"/>
<rect x="1263.18" y="1295.60" width="21.00" height="3.30" fill="#000"/>
<rect x="1263.18" y="1345.47" width="21.00" height="3.30" fill="#000"/>
<rect x="1281.50" y="1270.09" width="3.70" height="77.02" fill="#000"/>
<rect x="1272.85" y="1268.44" width="21.00" height="3.30" fill="#000"/>
<rect x="1272.85" y="1345.47" width="21.00" height="3.30" fill="#000"/>
<rect x="1291.17" y="1254.05" width="3.70" height="50.61" fill="#000"/>
<rect x="1282.52" y="1252.40" width="21.00" height="3.30" fill="#000"/>
<rect x="1282.52" y="1303.01" width="21.00" height="3.30" fill="#000"/>
<rect x="1300.84" y="1280.22" width="3.70" height="41.23" fill="#000"/>
<rect x="1292.19" y="1278.57" width="21.00" height="3.30" fill="#000"/>
<rect x="1292.19" y="1319.79" width="21.00" height="3.30" fill="#000"/>
<rect x="1310.51" y="1272.81" width="3.70" height="45.42" fill="#000"/>
<rect x="1301.86" y="1271.16" width="21.00" height="3.30" fill="#000"/>
<rect x="1301.86" y="1316.58" width="21.00" height="3.30" fill="#000"/>
<rect x="1320.18" y="1281.20" width="3.70" height="31.35" fill="#000"/>
<rect x="1311.53" y="1279.55" width="21.00" height="3.30" fill="#000"/>
<rect x="1311.53" y="1310.91" width="21.00" height="3.30" fill="#000"/>
<rect x="1329.85" y="1291.08" width="3.70" height="40.73" fill="#000"/>
<rect x="1321.20" y="1289.43" width="21.00" height="3.30" fill="#000"/>
<rect x="1321.20" y="1330.16" width="21.00" height="3.30" fill="#000"/>
<rect x="1339.52" y="1270.59" width="3.70" height="64.68" fill="#000"/>
<rect x="1330.87" y="1268.94" width="21.00" height="3.30" fill="#000"/>
<rect x="1330.87" y="1333.62" width="21.00" height="3.30" fill="#000"/>
<rect x="1349.19" y="1267.13" width="3.70" height="72.58" fill="#000"/>
<rect x="1340.54" y="1265.48" width="21.00" height="3.30" fill="#000"/>
<rect x="1340.54" y="1338.06" width="21.00" height="3.30" fill="#000"/>
<rect x="1358.86" y="1261.95" width="3.70" height="24.44" fill="#000"/>
<rect x="1350.21" y="1260.30" width="21.00" height="3.30" fill="#000"/>
<rect x="1350.21" y="1284.74" width="21.00" height="3.30" fill="#000"/>
<rect x="1368.53" y="1247.38" width="3.70" height="53.82" fill="#000"/>
<rect x="1359.88" y="1245.73" width="21.00" height="3.30" fill="#000"/>
<rect x="1359.88" y="1299.55" width="21.00" height="3.30" fill="#000"/>
<rect x="1378.20" y="1239.48" width="3.70" height="68.38" fill="#000"/>
<rect x="1369.55" y="1237.83" width="21.00" height="3.30" fill="#000"/>
<rect x="1369.55" y="1306.22" width="21.00" height="3.30" fill="#000"/>
<rect x="1387.87" y="1256.27" width="3.70" height="80.48" fill="#000"/>
<rect x="1379.22" y="1254.62" width="21.00" height="3.30" fill="#000"/>
<rect x="1379.22" y="1335.10" width="21.00" height="3.30" fill="#000"/>
<rect x="1397.54" y="1293.30" width="3.70" height="18.52" fill="#000"/>
<rect x="1388.89" y="1291.65" width="21.00" height="3.30" fill="#000"/>
<rect x="1388.89" y="1310.17" width="21.00" height="3.30" fill="#000"/>
<rect x="1407.21" y="1276.76" width="3.70" height="31.11" fill="#000"/>
<rect x="1398.56" y="1275.11" width="21.00" height="3.30" fill="#000"/>
<rect x="1398.56" y="1306.22" width="21.00" height="3.30" fill="#000"/>
<rect x="1416.88" y="1282.93" width="3.70" height="61.22" fill="#000"/>
<rect x="1408.23" y="1281.28" width="21.00" height="3.30" fill="#000"/>
<rect x="1408.23" y="1342.50" width="21.00" height="3.30" fill="#000"/>
<rect x="1426.55" y="1274.04" width="3.70" height="61.22" fill="#000"/>
<rect x="1417.90" y="1272.39" width="21.00" height="3.30" fill="#000"/>
<rect x="1417.90" y="1333.62" width="21.00" height="3.30" fill="#000"/>
<rect x="941.90" y="1111.10" width="5.60" height="374.20" fill="#000"/>
<rect x="932.20" y="1479.50" width="506.50" height="5.80" fill="#000"/>
<rect x="932.20" y="1479.80" width="12.50" height="5.20" fill="#000"/>
<rect x="932.20" y="1356.37" width="12.50" height="5.20" fill="#000"/>
<rect x="932.20" y="1232.93" width="12.50" height="5.20" fill="#000"/>
<rect x="932.20" y="1109.50" width="12.50" height="5.20" fill="#000"/>
<rect x="941.90" y="1482.40" width="5.60" height="11.80" fill="#000"/>
<rect x="1038.60" y="1482.40" width="5.60" height="11.80" fill="#000"/>
<rect x="1135.30" y="1482.40" width="5.60" height="11.80" fill="#000"/>
<rect x="1232.00" y="1482.40" width="5.60" height="11.80" fill="#000"/>
<rect x="1328.70" y="1482.40" width="5.60" height="11.80" fill="#000"/>
<rect x="1425.40" y="1482.40" width="5.60" height="11.80" fill="#000"/>
<text transform="translate(881.70,1493.50) scale(0.35527,0.34000)" font-weight="700">0</text>
<text transform="translate(861.99,1370.07) scale(0.35527,0.34000)" font-weight="700">50</text>
<text transform="translate(842.27,1246.63) scale(0.35527,0.34000)" font-weight="700">100</text>
<text transform="translate(842.27,1123.20) scale(0.35527,0.34000)" font-weight="700">150</text>
<text transform="translate(935.24,1529.90) scale(0.35527,0.34000)" font-weight="700">0</text>
<text transform="translate(1031.85,1529.90) scale(0.35527,0.34000)" font-weight="700">5</text>
<text transform="translate(1118.43,1529.90) scale(0.35527,0.34000)" font-weight="700">10</text>
<text transform="translate(1214.86,1529.90) scale(0.35527,0.34000)" font-weight="700">15</text>
<text transform="translate(1312.27,1529.90) scale(0.35527,0.34000)" font-weight="700">20</text>
<text transform="translate(1408.70,1529.90) scale(0.35527,0.34000)" font-weight="700">25</text>
<text transform="translate(1076.68,1573.15) scale(0.43545,0.43724)" font-weight="400" stroke="#000" stroke-width="2.06" stroke-linejoin="round">Time (min)</text>
<text transform="translate(832.95,1461.44) rotate(-90) scale(0.33616,0.36087)" font-weight="400" stroke="#000" stroke-width="2.01" stroke-linejoin="round">Events (mEPSCs/30s)</text>
<text transform="translate(807.85,1089.80) scale(0.48431,0.54058)" font-weight="700">F</text>
<rect x="951.00" y="1166.70" width="488.60" height="10.20" fill="#000"/>
<text transform="translate(1121.55,1165.05) scale(0.39100,0.40435)" font-weight="400" stroke="#000" stroke-width="1.76" stroke-linejoin="round">W7</text>
<rect x="1048.60" y="1224.40" width="190.00" height="10.40" fill="#000"/>
<text transform="translate(1052.41,1216.75) scale(0.34168,0.30571)" font-weight="400" stroke="#000" stroke-width="2.16" stroke-linejoin="round">SR58611A</text>
<g>
<rect x="180.85" y="1814.60" width="1.70" height="198.60" fill="#e2e2e2"/>
<rect x="182.51" y="1805.59" width="1.70" height="207.61" fill="#e2e2e2"/>
<rect x="190.52" y="1805.59" width="1.70" height="207.61" fill="#e2e2e2"/>
<rect x="192.19" y="1824.22" width="1.70" height="188.98" fill="#e2e2e2"/>
<rect x="200.19" y="1824.22" width="1.70" height="188.98" fill="#e2e2e2"/>
<rect x="201.85" y="1845.95" width="1.70" height="167.25" fill="#e2e2e2"/>
<rect x="209.86" y="1845.95" width="1.70" height="167.25" fill="#e2e2e2"/>
<rect x="211.53" y="1847.18" width="1.70" height="166.02" fill="#e2e2e2"/>
<rect x="219.53" y="1847.18" width="1.70" height="166.02" fill="#e2e2e2"/>
<rect x="221.19" y="1836.07" width="1.70" height="177.13" fill="#e2e2e2"/>
<rect x="229.20" y="1836.07" width="1.70" height="177.13" fill="#e2e2e2"/>
<rect x="230.86" y="1826.82" width="1.70" height="186.38" fill="#e2e2e2"/>
<rect x="238.87" y="1826.82" width="1.70" height="186.38" fill="#e2e2e2"/>
<rect x="240.53" y="1849.40" width="1.70" height="163.80" fill="#e2e2e2"/>
<rect x="248.54" y="1849.40" width="1.70" height="163.80" fill="#e2e2e2"/>
<rect x="250.21" y="1843.73" width="1.70" height="169.47" fill="#e2e2e2"/>
<rect x="258.21" y="1843.73" width="1.71" height="169.47" fill="#e2e2e2"/>
<rect x="259.87" y="1832.37" width="1.71" height="180.83" fill="#e2e2e2"/>
<rect x="267.88" y="1832.37" width="1.71" height="180.83" fill="#e2e2e2"/>
<rect x="269.54" y="1851.75" width="1.71" height="161.45" fill="#e2e2e2"/>
<rect x="277.55" y="1851.75" width="1.71" height="161.45" fill="#e2e2e2"/>
<rect x="279.21" y="1819.04" width="1.71" height="194.16" fill="#e2e2e2"/>
<rect x="287.22" y="1819.04" width="1.71" height="194.16" fill="#e2e2e2"/>
<rect x="288.88" y="1812.87" width="1.71" height="200.33" fill="#e2e2e2"/>
<rect x="296.89" y="1812.87" width="1.71" height="200.33" fill="#e2e2e2"/>
<rect x="298.55" y="1831.01" width="1.71" height="182.19" fill="#e2e2e2"/>
<rect x="306.56" y="1831.01" width="1.71" height="182.19" fill="#e2e2e2"/>
<rect x="308.22" y="1815.46" width="1.71" height="197.74" fill="#e2e2e2"/>
<rect x="316.23" y="1815.46" width="1.71" height="197.74" fill="#e2e2e2"/>
<rect x="317.89" y="1847.80" width="1.71" height="165.40" fill="#e2e2e2"/>
<rect x="325.90" y="1847.80" width="1.71" height="165.40" fill="#e2e2e2"/>
<rect x="327.56" y="1846.94" width="1.71" height="166.26" fill="#e2e2e2"/>
<rect x="335.57" y="1846.94" width="1.71" height="166.26" fill="#e2e2e2"/>
<rect x="337.23" y="1835.33" width="1.71" height="177.87" fill="#e2e2e2"/>
<rect x="345.24" y="1835.33" width="1.71" height="177.87" fill="#e2e2e2"/>
<rect x="346.90" y="1845.58" width="1.71" height="167.62" fill="#e2e2e2"/>
<rect x="354.91" y="1845.58" width="1.71" height="167.62" fill="#e2e2e2"/>
<rect x="356.57" y="1797.93" width="1.71" height="215.27" fill="#e2e2e2"/>
<rect x="364.58" y="1797.93" width="1.71" height="215.27" fill="#e2e2e2"/>
<rect x="366.24" y="1821.14" width="1.71" height="192.06" fill="#e2e2e2"/>
<rect x="374.25" y="1821.14" width="1.71" height="192.06" fill="#e2e2e2"/>
<rect x="375.91" y="1834.96" width="1.71" height="178.24" fill="#e2e2e2"/>
<rect x="383.92" y="1834.96" width="1.71" height="178.24" fill="#e2e2e2"/>
<rect x="385.58" y="1823.36" width="1.71" height="189.84" fill="#e2e2e2"/>
<rect x="393.59" y="1823.36" width="1.71" height="189.84" fill="#e2e2e2"/>
<rect x="395.25" y="1829.28" width="1.71" height="183.92" fill="#e2e2e2"/>
<rect x="403.26" y="1829.28" width="1.71" height="183.92" fill="#e2e2e2"/>
<rect x="404.92" y="1805.59" width="1.71" height="207.61" fill="#e2e2e2"/>
<rect x="412.93" y="1805.59" width="1.71" height="207.61" fill="#e2e2e2"/>
<rect x="414.59" y="1826.20" width="1.71" height="187.00" fill="#e2e2e2"/>
<rect x="422.60" y="1826.20" width="1.71" height="187.00" fill="#e2e2e2"/>
<rect x="424.26" y="1819.66" width="1.71" height="193.54" fill="#e2e2e2"/>
<rect x="432.27" y="1819.66" width="1.71" height="193.54" fill="#e2e2e2"/>
<rect x="433.93" y="1808.42" width="1.71" height="204.78" fill="#e2e2e2"/>
<rect x="441.94" y="1808.42" width="1.71" height="204.78" fill="#e2e2e2"/>
<rect x="443.60" y="1826.45" width="1.71" height="186.75" fill="#e2e2e2"/>
<rect x="451.61" y="1826.45" width="1.71" height="186.75" fill="#e2e2e2"/>
<rect x="453.27" y="1848.66" width="1.71" height="164.54" fill="#e2e2e2"/>
<rect x="461.28" y="1848.66" width="1.71" height="164.54" fill="#e2e2e2"/>
<rect x="462.94" y="1841.01" width="1.71" height="172.19" fill="#e2e2e2"/>
<rect x="470.95" y="1841.01" width="1.71" height="172.19" fill="#e2e2e2"/>
<rect x="472.61" y="1822.00" width="1.71" height="191.20" fill="#e2e2e2"/>
<rect x="480.62" y="1822.00" width="1.71" height="191.20" fill="#e2e2e2"/>
<rect x="482.28" y="1798.18" width="1.71" height="215.02" fill="#e2e2e2"/>
<rect x="490.29" y="1798.18" width="1.71" height="215.02" fill="#e2e2e2"/>
<rect x="491.95" y="1838.42" width="1.71" height="174.78" fill="#e2e2e2"/>
<rect x="499.96" y="1838.42" width="1.71" height="174.78" fill="#e2e2e2"/>
<rect x="501.62" y="1850.64" width="1.71" height="162.56" fill="#e2e2e2"/>
<rect x="509.63" y="1850.64" width="1.71" height="162.56" fill="#e2e2e2"/>
<rect x="511.30" y="1809.78" width="1.71" height="203.42" fill="#e2e2e2"/>
<rect x="519.30" y="1809.78" width="1.71" height="203.42" fill="#e2e2e2"/>
<rect x="520.97" y="1801.88" width="1.71" height="211.32" fill="#e2e2e2"/>
<rect x="528.97" y="1801.88" width="1.71" height="211.32" fill="#e2e2e2"/>
<rect x="530.63" y="1804.23" width="1.71" height="208.97" fill="#e2e2e2"/>
<rect x="538.64" y="1804.23" width="1.71" height="208.97" fill="#e2e2e2"/>
<rect x="540.31" y="1801.88" width="1.71" height="211.32" fill="#e2e2e2"/>
<rect x="548.31" y="1801.88" width="1.71" height="211.32" fill="#e2e2e2"/>
<rect x="549.98" y="1844.71" width="1.71" height="168.49" fill="#e2e2e2"/>
<rect x="557.98" y="1844.71" width="1.71" height="168.49" fill="#e2e2e2"/>
<rect x="559.64" y="1807.81" width="1.71" height="205.39" fill="#e2e2e2"/>
<rect x="567.65" y="1807.81" width="1.71" height="205.39" fill="#e2e2e2"/>
<rect x="569.32" y="1848.91" width="1.71" height="164.29" fill="#e2e2e2"/>
<rect x="577.32" y="1848.91" width="1.71" height="164.29" fill="#e2e2e2"/>
<rect x="578.99" y="1822.74" width="1.71" height="190.46" fill="#e2e2e2"/>
<rect x="586.99" y="1822.74" width="1.71" height="190.46" fill="#e2e2e2"/>
<rect x="588.65" y="1854.34" width="1.71" height="158.86" fill="#e2e2e2"/>
<rect x="596.66" y="1854.34" width="1.71" height="158.86" fill="#e2e2e2"/>
<rect x="598.33" y="1852.24" width="1.71" height="160.96" fill="#e2e2e2"/>
<rect x="606.33" y="1852.24" width="1.71" height="160.96" fill="#e2e2e2"/>
<rect x="608.00" y="1800.15" width="1.71" height="213.05" fill="#e2e2e2"/>
<rect x="616.00" y="1800.15" width="1.71" height="213.05" fill="#e2e2e2"/>
<rect x="617.66" y="1817.68" width="1.71" height="195.52" fill="#e2e2e2"/>
<rect x="625.67" y="1817.68" width="1.71" height="195.52" fill="#e2e2e2"/>
<rect x="627.34" y="1823.85" width="1.71" height="189.35" fill="#e2e2e2"/>
<rect x="635.34" y="1823.85" width="1.71" height="189.35" fill="#e2e2e2"/>
<rect x="637.00" y="1839.53" width="1.71" height="173.67" fill="#e2e2e2"/>
<rect x="645.01" y="1839.53" width="1.71" height="173.67" fill="#e2e2e2"/>
<rect x="646.67" y="1827.06" width="1.71" height="186.14" fill="#e2e2e2"/>
<rect x="654.68" y="1827.06" width="1.71" height="186.14" fill="#e2e2e2"/>
<rect x="656.35" y="1848.29" width="1.71" height="164.91" fill="#e2e2e2"/>
<rect x="664.35" y="1848.29" width="1.71" height="164.91" fill="#e2e2e2"/>
<rect x="666.02" y="1815.71" width="1.71" height="197.49" fill="#e2e2e2"/>
<rect x="674.02" y="1815.71" width="1.71" height="197.49" fill="#e2e2e2"/>
<rect x="174.70" y="1828.05" width="6.15" height="185.15" fill="#5e5e5e"/>
<rect x="184.22" y="1839.65" width="6.30" height="173.55" fill="#5e5e5e"/>
<rect x="193.89" y="1831.51" width="6.30" height="181.69" fill="#5e5e5e"/>
<rect x="203.56" y="1871.75" width="6.30" height="141.45" fill="#5e5e5e"/>
<rect x="213.23" y="1866.81" width="6.30" height="146.39" fill="#5e5e5e"/>
<rect x="222.90" y="1852.00" width="6.30" height="161.20" fill="#5e5e5e"/>
<rect x="232.57" y="1842.37" width="6.30" height="170.83" fill="#5e5e5e"/>
<rect x="242.24" y="1881.37" width="6.30" height="131.83" fill="#5e5e5e"/>
<rect x="251.91" y="1860.39" width="6.30" height="152.81" fill="#5e5e5e"/>
<rect x="261.58" y="1856.44" width="6.30" height="156.76" fill="#5e5e5e"/>
<rect x="271.25" y="1865.57" width="6.30" height="147.63" fill="#5e5e5e"/>
<rect x="280.92" y="1856.44" width="6.30" height="156.76" fill="#5e5e5e"/>
<rect x="290.59" y="1831.01" width="6.30" height="182.19" fill="#5e5e5e"/>
<rect x="300.26" y="1852.00" width="6.30" height="161.20" fill="#5e5e5e"/>
<rect x="309.93" y="1846.32" width="6.30" height="166.88" fill="#5e5e5e"/>
<rect x="319.60" y="1868.54" width="6.30" height="144.66" fill="#5e5e5e"/>
<rect x="329.27" y="1885.57" width="6.30" height="127.63" fill="#5e5e5e"/>
<rect x="338.94" y="1862.36" width="6.30" height="150.84" fill="#5e5e5e"/>
<rect x="348.61" y="1862.36" width="6.30" height="150.84" fill="#5e5e5e"/>
<rect x="358.28" y="1831.51" width="6.30" height="181.69" fill="#5e5e5e"/>
<rect x="367.95" y="1857.18" width="6.30" height="156.02" fill="#5e5e5e"/>
<rect x="377.62" y="1849.77" width="6.30" height="163.43" fill="#5e5e5e"/>
<rect x="387.29" y="1852.49" width="6.30" height="160.71" fill="#5e5e5e"/>
<rect x="396.96" y="1866.07" width="6.30" height="147.13" fill="#5e5e5e"/>
<rect x="406.63" y="1820.89" width="6.30" height="192.31" fill="#5e5e5e"/>
<rect x="416.30" y="1852.00" width="6.30" height="161.20" fill="#5e5e5e"/>
<rect x="425.97" y="1850.76" width="6.30" height="162.44" fill="#5e5e5e"/>
<rect x="435.64" y="1836.20" width="6.30" height="177.00" fill="#5e5e5e"/>
<rect x="445.31" y="1858.17" width="6.30" height="155.03" fill="#5e5e5e"/>
<rect x="454.98" y="1872.49" width="6.30" height="140.71" fill="#5e5e5e"/>
<rect x="464.65" y="1857.18" width="6.30" height="156.02" fill="#5e5e5e"/>
<rect x="474.32" y="1857.18" width="6.30" height="156.02" fill="#5e5e5e"/>
<rect x="483.99" y="1812.25" width="6.30" height="200.95" fill="#5e5e5e"/>
<rect x="493.66" y="1865.57" width="6.30" height="147.63" fill="#5e5e5e"/>
<rect x="503.33" y="1890.01" width="6.30" height="123.19" fill="#5e5e5e"/>
<rect x="513.00" y="1839.65" width="6.30" height="173.55" fill="#5e5e5e"/>
<rect x="522.67" y="1841.38" width="6.30" height="171.82" fill="#5e5e5e"/>
<rect x="532.34" y="1826.08" width="6.30" height="187.12" fill="#5e5e5e"/>
<rect x="542.01" y="1819.16" width="6.30" height="194.04" fill="#5e5e5e"/>
<rect x="551.68" y="1858.91" width="6.30" height="154.29" fill="#5e5e5e"/>
<rect x="561.35" y="1836.20" width="6.30" height="177.00" fill="#5e5e5e"/>
<rect x="571.02" y="1884.34" width="6.30" height="128.86" fill="#5e5e5e"/>
<rect x="580.69" y="1856.44" width="6.30" height="156.76" fill="#5e5e5e"/>
<rect x="590.36" y="1870.76" width="6.30" height="142.44" fill="#5e5e5e"/>
<rect x="600.03" y="1881.37" width="6.30" height="131.83" fill="#5e5e5e"/>
<rect x="609.70" y="1812.25" width="6.30" height="200.95" fill="#5e5e5e"/>
<rect x="619.37" y="1838.42" width="6.30" height="174.78" fill="#5e5e5e"/>
<rect x="629.04" y="1850.76" width="6.30" height="162.44" fill="#5e5e5e"/>
<rect x="638.71" y="1849.77" width="6.30" height="163.43" fill="#5e5e5e"/>
<rect x="648.38" y="1865.08" width="6.30" height="148.12" fill="#5e5e5e"/>
<rect x="658.05" y="1879.15" width="6.30" height="134.05" fill="#5e5e5e"/>
<rect x="667.72" y="1815.71" width="6.30" height="197.49" fill="#5e5e5e"/>
</g>
<rect x="175.85" y="1801.14" width="3.70" height="26.91" fill="#000"/>
<rect x="174.70" y="1799.49" width="13.50" height="3.30" fill="#000"/>
<rect x="174.70" y="1826.40" width="13.50" height="3.30" fill="#000"/>
<rect x="185.52" y="1771.52" width="3.70" height="68.14" fill="#000"/>
<rect x="176.87" y="1769.87" width="21.00" height="3.30" fill="#000"/>
<rect x="176.87" y="1838.00" width="21.00" height="3.30" fill="#000"/>
<rect x="195.19" y="1816.94" width="3.70" height="14.57" fill="#000"/>
<rect x="186.54" y="1815.29" width="21.00" height="3.30" fill="#000"/>
<rect x="186.54" y="1829.86" width="21.00" height="3.30" fill="#000"/>
<rect x="204.86" y="1820.15" width="3.70" height="51.60" fill="#000"/>
<rect x="196.21" y="1818.50" width="21.00" height="3.30" fill="#000"/>
<rect x="196.21" y="1870.10" width="21.00" height="3.30" fill="#000"/>
<rect x="214.53" y="1827.56" width="3.70" height="39.25" fill="#000"/>
<rect x="205.88" y="1825.91" width="21.00" height="3.30" fill="#000"/>
<rect x="205.88" y="1865.16" width="21.00" height="3.30" fill="#000"/>
<rect x="224.20" y="1820.15" width="3.70" height="31.85" fill="#000"/>
<rect x="215.55" y="1818.50" width="21.00" height="3.30" fill="#000"/>
<rect x="215.55" y="1850.35" width="21.00" height="3.30" fill="#000"/>
<rect x="233.87" y="1811.26" width="3.70" height="31.11" fill="#000"/>
<rect x="225.22" y="1809.61" width="21.00" height="3.30" fill="#000"/>
<rect x="225.22" y="1840.72" width="21.00" height="3.30" fill="#000"/>
<rect x="243.54" y="1817.43" width="3.70" height="63.94" fill="#000"/>
<rect x="234.89" y="1815.78" width="21.00" height="3.30" fill="#000"/>
<rect x="234.89" y="1879.72" width="21.00" height="3.30" fill="#000"/>
<rect x="253.21" y="1827.06" width="3.70" height="33.33" fill="#000"/>
<rect x="244.56" y="1825.41" width="21.00" height="3.30" fill="#000"/>
<rect x="244.56" y="1858.74" width="21.00" height="3.30" fill="#000"/>
<rect x="262.88" y="1808.30" width="3.70" height="48.14" fill="#000"/>
<rect x="254.23" y="1806.65" width="21.00" height="3.30" fill="#000"/>
<rect x="254.23" y="1854.79" width="21.00" height="3.30" fill="#000"/>
<rect x="272.55" y="1837.92" width="3.70" height="27.65" fill="#000"/>
<rect x="263.90" y="1836.27" width="21.00" height="3.30" fill="#000"/>
<rect x="263.90" y="1863.92" width="21.00" height="3.30" fill="#000"/>
<rect x="282.22" y="1781.64" width="3.70" height="74.80" fill="#000"/>
<rect x="273.57" y="1779.99" width="21.00" height="3.30" fill="#000"/>
<rect x="273.57" y="1854.79" width="21.00" height="3.30" fill="#000"/>
<rect x="291.89" y="1794.72" width="3.70" height="36.29" fill="#000"/>
<rect x="283.24" y="1793.07" width="21.00" height="3.30" fill="#000"/>
<rect x="283.24" y="1829.36" width="21.00" height="3.30" fill="#000"/>
<rect x="301.56" y="1810.03" width="3.70" height="41.97" fill="#000"/>
<rect x="292.91" y="1808.38" width="21.00" height="3.30" fill="#000"/>
<rect x="292.91" y="1850.35" width="21.00" height="3.30" fill="#000"/>
<rect x="311.23" y="1784.60" width="3.70" height="61.72" fill="#000"/>
<rect x="302.58" y="1782.95" width="21.00" height="3.30" fill="#000"/>
<rect x="302.58" y="1844.67" width="21.00" height="3.30" fill="#000"/>
<rect x="320.90" y="1827.06" width="3.70" height="41.47" fill="#000"/>
<rect x="312.25" y="1825.41" width="21.00" height="3.30" fill="#000"/>
<rect x="312.25" y="1866.89" width="21.00" height="3.30" fill="#000"/>
<rect x="330.57" y="1808.30" width="3.70" height="77.27" fill="#000"/>
<rect x="321.92" y="1806.65" width="21.00" height="3.30" fill="#000"/>
<rect x="321.92" y="1883.92" width="21.00" height="3.30" fill="#000"/>
<rect x="340.24" y="1808.30" width="3.70" height="54.06" fill="#000"/>
<rect x="331.59" y="1806.65" width="21.00" height="3.30" fill="#000"/>
<rect x="331.59" y="1860.71" width="21.00" height="3.30" fill="#000"/>
<rect x="349.91" y="1828.79" width="3.70" height="33.57" fill="#000"/>
<rect x="341.26" y="1827.14" width="21.00" height="3.30" fill="#000"/>
<rect x="341.26" y="1860.71" width="21.00" height="3.30" fill="#000"/>
<rect x="359.58" y="1764.36" width="3.70" height="67.15" fill="#000"/>
<rect x="350.93" y="1762.71" width="21.00" height="3.30" fill="#000"/>
<rect x="350.93" y="1829.86" width="21.00" height="3.30" fill="#000"/>
<rect x="369.25" y="1785.10" width="3.70" height="72.09" fill="#000"/>
<rect x="360.60" y="1783.45" width="21.00" height="3.30" fill="#000"/>
<rect x="360.60" y="1855.53" width="21.00" height="3.30" fill="#000"/>
<rect x="378.92" y="1820.15" width="3.70" height="29.62" fill="#000"/>
<rect x="370.27" y="1818.50" width="21.00" height="3.30" fill="#000"/>
<rect x="370.27" y="1848.12" width="21.00" height="3.30" fill="#000"/>
<rect x="388.59" y="1794.23" width="3.70" height="58.26" fill="#000"/>
<rect x="379.94" y="1792.58" width="21.00" height="3.30" fill="#000"/>
<rect x="379.94" y="1850.84" width="21.00" height="3.30" fill="#000"/>
<rect x="398.26" y="1792.50" width="3.70" height="73.57" fill="#000"/>
<rect x="389.61" y="1790.85" width="21.00" height="3.30" fill="#000"/>
<rect x="389.61" y="1864.42" width="21.00" height="3.30" fill="#000"/>
<rect x="407.93" y="1790.28" width="3.70" height="30.61" fill="#000"/>
<rect x="399.28" y="1788.63" width="21.00" height="3.30" fill="#000"/>
<rect x="399.28" y="1819.24" width="21.00" height="3.30" fill="#000"/>
<rect x="417.60" y="1800.40" width="3.70" height="51.60" fill="#000"/>
<rect x="408.95" y="1798.75" width="21.00" height="3.30" fill="#000"/>
<rect x="408.95" y="1850.35" width="21.00" height="3.30" fill="#000"/>
<rect x="427.27" y="1788.55" width="3.70" height="62.21" fill="#000"/>
<rect x="418.62" y="1786.90" width="21.00" height="3.30" fill="#000"/>
<rect x="418.62" y="1849.11" width="21.00" height="3.30" fill="#000"/>
<rect x="436.94" y="1780.65" width="3.70" height="55.54" fill="#000"/>
<rect x="428.29" y="1779.00" width="21.00" height="3.30" fill="#000"/>
<rect x="428.29" y="1834.55" width="21.00" height="3.30" fill="#000"/>
<rect x="446.61" y="1794.72" width="3.70" height="63.44" fill="#000"/>
<rect x="437.96" y="1793.07" width="21.00" height="3.30" fill="#000"/>
<rect x="437.96" y="1856.52" width="21.00" height="3.30" fill="#000"/>
<rect x="456.28" y="1824.84" width="3.70" height="47.65" fill="#000"/>
<rect x="447.63" y="1823.19" width="21.00" height="3.30" fill="#000"/>
<rect x="447.63" y="1870.84" width="21.00" height="3.30" fill="#000"/>
<rect x="465.95" y="1824.84" width="3.70" height="32.34" fill="#000"/>
<rect x="457.30" y="1823.19" width="21.00" height="3.30" fill="#000"/>
<rect x="457.30" y="1855.53" width="21.00" height="3.30" fill="#000"/>
<rect x="475.62" y="1786.82" width="3.70" height="70.36" fill="#000"/>
<rect x="466.97" y="1785.17" width="21.00" height="3.30" fill="#000"/>
<rect x="466.97" y="1855.53" width="21.00" height="3.30" fill="#000"/>
<rect x="485.29" y="1784.11" width="3.70" height="28.14" fill="#000"/>
<rect x="476.64" y="1782.46" width="21.00" height="3.30" fill="#000"/>
<rect x="476.64" y="1810.60" width="21.00" height="3.30" fill="#000"/>
<rect x="494.96" y="1811.26" width="3.70" height="54.31" fill="#000"/>
<rect x="486.31" y="1809.61" width="21.00" height="3.30" fill="#000"/>
<rect x="486.31" y="1863.92" width="21.00" height="3.30" fill="#000"/>
<rect x="504.63" y="1811.26" width="3.70" height="78.75" fill="#000"/>
<rect x="495.98" y="1809.61" width="21.00" height="3.30" fill="#000"/>
<rect x="495.98" y="1888.36" width="21.00" height="3.30" fill="#000"/>
<rect x="514.30" y="1779.91" width="3.70" height="59.74" fill="#000"/>
<rect x="505.65" y="1778.26" width="21.00" height="3.30" fill="#000"/>
<rect x="505.65" y="1838.00" width="21.00" height="3.30" fill="#000"/>
<rect x="523.97" y="1762.38" width="3.70" height="79.00" fill="#000"/>
<rect x="515.32" y="1760.73" width="21.00" height="3.30" fill="#000"/>
<rect x="515.32" y="1839.73" width="21.00" height="3.30" fill="#000"/>
<rect x="533.64" y="1782.38" width="3.70" height="43.70" fill="#000"/>
<rect x="524.99" y="1780.73" width="21.00" height="3.30" fill="#000"/>
<rect x="524.99" y="1824.43" width="21.00" height="3.30" fill="#000"/>
<rect x="543.31" y="1784.60" width="3.70" height="34.56" fill="#000"/>
<rect x="534.66" y="1782.95" width="21.00" height="3.30" fill="#000"/>
<rect x="534.66" y="1817.51" width="21.00" height="3.30" fill="#000"/>
<rect x="552.98" y="1830.52" width="3.70" height="28.39" fill="#000"/>
<rect x="544.33" y="1828.87" width="21.00" height="3.30" fill="#000"/>
<rect x="544.33" y="1857.26" width="21.00" height="3.30" fill="#000"/>
<rect x="562.65" y="1779.42" width="3.70" height="56.78" fill="#000"/>
<rect x="554.00" y="1777.77" width="21.00" height="3.30" fill="#000"/>
<rect x="554.00" y="1834.55" width="21.00" height="3.30" fill="#000"/>
<rect x="572.32" y="1813.48" width="3.70" height="70.85" fill="#000"/>
<rect x="563.67" y="1811.83" width="21.00" height="3.30" fill="#000"/>
<rect x="563.67" y="1882.69" width="21.00" height="3.30" fill="#000"/>
<rect x="581.99" y="1789.05" width="3.70" height="67.39" fill="#000"/>
<rect x="573.34" y="1787.40" width="21.00" height="3.30" fill="#000"/>
<rect x="573.34" y="1854.79" width="21.00" height="3.30" fill="#000"/>
<rect x="591.66" y="1837.92" width="3.70" height="32.83" fill="#000"/>
<rect x="583.01" y="1836.27" width="21.00" height="3.30" fill="#000"/>
<rect x="583.01" y="1869.11" width="21.00" height="3.30" fill="#000"/>
<rect x="601.33" y="1823.11" width="3.70" height="58.26" fill="#000"/>
<rect x="592.68" y="1821.46" width="21.00" height="3.30" fill="#000"/>
<rect x="592.68" y="1879.72" width="21.00" height="3.30" fill="#000"/>
<rect x="611.00" y="1788.06" width="3.70" height="24.19" fill="#000"/>
<rect x="602.35" y="1786.41" width="21.00" height="3.30" fill="#000"/>
<rect x="602.35" y="1810.60" width="21.00" height="3.30" fill="#000"/>
<rect x="620.67" y="1796.94" width="3.70" height="41.47" fill="#000"/>
<rect x="612.02" y="1795.29" width="21.00" height="3.30" fill="#000"/>
<rect x="612.02" y="1836.77" width="21.00" height="3.30" fill="#000"/>
<rect x="630.34" y="1796.94" width="3.70" height="53.82" fill="#000"/>
<rect x="621.69" y="1795.29" width="21.00" height="3.30" fill="#000"/>
<rect x="621.69" y="1849.11" width="21.00" height="3.30" fill="#000"/>
<rect x="640.01" y="1829.28" width="3.70" height="20.49" fill="#000"/>
<rect x="631.36" y="1827.63" width="21.00" height="3.30" fill="#000"/>
<rect x="631.36" y="1848.12" width="21.00" height="3.30" fill="#000"/>
<rect x="649.68" y="1789.05" width="3.70" height="76.03" fill="#000"/>
<rect x="641.03" y="1787.40" width="21.00" height="3.30" fill="#000"/>
<rect x="641.03" y="1863.43" width="21.00" height="3.30" fill="#000"/>
<rect x="659.35" y="1817.43" width="3.70" height="61.72" fill="#000"/>
<rect x="650.70" y="1815.78" width="21.00" height="3.30" fill="#000"/>
<rect x="650.70" y="1877.50" width="21.00" height="3.30" fill="#000"/>
<rect x="174.70" y="1641.90" width="5.60" height="374.20" fill="#000"/>
<rect x="165.00" y="2010.30" width="506.50" height="5.80" fill="#000"/>
<rect x="165.00" y="2010.60" width="12.50" height="5.20" fill="#000"/>
<rect x="165.00" y="1887.17" width="12.50" height="5.20" fill="#000"/>
<rect x="165.00" y="1763.73" width="12.50" height="5.20" fill="#000"/>
<rect x="165.00" y="1640.30" width="12.50" height="5.20" fill="#000"/>
<rect x="174.70" y="2013.20" width="5.60" height="11.80" fill="#000"/>
<rect x="271.40" y="2013.20" width="5.60" height="11.80" fill="#000"/>
<rect x="368.10" y="2013.20" width="5.60" height="11.80" fill="#000"/>
<rect x="464.80" y="2013.20" width="5.60" height="11.80" fill="#000"/>
<rect x="561.50" y="2013.20" width="5.60" height="11.80" fill="#000"/>
<rect x="658.20" y="2013.20" width="5.60" height="11.80" fill="#000"/>
<text transform="translate(114.50,2024.30) scale(0.35527,0.34000)" font-weight="700">0</text>
<text transform="translate(94.79,1900.87) scale(0.35527,0.34000)" font-weight="700">50</text>
<text transform="translate(75.07,1777.43) scale(0.35527,0.34000)" font-weight="700">100</text>
<text transform="translate(75.07,1654.00) scale(0.35527,0.34000)" font-weight="700">150</text>
<text transform="translate(168.04,2060.70) scale(0.35527,0.34000)" font-weight="700">0</text>
<text transform="translate(264.65,2060.70) scale(0.35527,0.34000)" font-weight="700">5</text>
<text transform="translate(351.23,2060.70) scale(0.35527,0.34000)" font-weight="700">10</text>
<text transform="translate(447.66,2060.70) scale(0.35527,0.34000)" font-weight="700">15</text>
<text transform="translate(545.07,2060.70) scale(0.35527,0.34000)" font-weight="700">20</text>
<text transform="translate(641.50,2060.70) scale(0.35527,0.34000)" font-weight="700">25</text>
<text transform="translate(311.88,2103.95) scale(0.43631,0.43724)" font-weight="400" stroke="#000" stroke-width="2.06" stroke-linejoin="round">Time (min)</text>
<text transform="translate(63.75,2004.04) rotate(-90) scale(0.33687,0.35507)" font-weight="400" stroke="#000" stroke-width="2.02" stroke-linejoin="round">Events (mEPSCs/30s)</text>
<text transform="translate(29.97,1619.00) scale(0.50815,0.51714)" font-weight="700">G</text>
<rect x="182.50" y="1701.30" width="486.80" height="10.20" fill="#000"/>
<text transform="translate(305.16,1698.55) scale(0.38943,0.38345)" font-weight="400" stroke="#000" stroke-width="1.81" stroke-linejoin="round">Wortmannin</text>
<rect x="278.90" y="1758.40" width="189.30" height="10.40" fill="#000"/>
<text transform="translate(282.41,1752.15) scale(0.34231,0.32143)" font-weight="400" stroke="#000" stroke-width="2.11" stroke-linejoin="round">SR58611A</text>
<g>
<rect x="948.05" y="1840.39" width="1.71" height="172.81" fill="#e2e2e2"/>
<rect x="949.72" y="1846.32" width="1.71" height="166.88" fill="#e2e2e2"/>
<rect x="957.72" y="1846.32" width="1.71" height="166.88" fill="#e2e2e2"/>
<rect x="959.39" y="1802.38" width="1.71" height="210.82" fill="#e2e2e2"/>
<rect x="967.39" y="1802.38" width="1.71" height="210.82" fill="#e2e2e2"/>
<rect x="969.06" y="1847.80" width="1.71" height="165.40" fill="#e2e2e2"/>
<rect x="977.06" y="1847.80" width="1.71" height="165.40" fill="#e2e2e2"/>
<rect x="978.73" y="1817.43" width="1.71" height="195.77" fill="#e2e2e2"/>
<rect x="986.73" y="1817.43" width="1.71" height="195.77" fill="#e2e2e2"/>
<rect x="988.40" y="1842.86" width="1.71" height="170.34" fill="#e2e2e2"/>
<rect x="996.40" y="1842.86" width="1.71" height="170.34" fill="#e2e2e2"/>
<rect x="998.07" y="1808.42" width="1.71" height="204.78" fill="#e2e2e2"/>
<rect x="1006.07" y="1808.42" width="1.71" height="204.78" fill="#e2e2e2"/>
<rect x="1007.74" y="1822.00" width="1.71" height="191.20" fill="#e2e2e2"/>
<rect x="1015.74" y="1822.00" width="1.71" height="191.20" fill="#e2e2e2"/>
<rect x="1017.41" y="1808.30" width="1.71" height="204.90" fill="#e2e2e2"/>
<rect x="1025.41" y="1808.30" width="1.70" height="204.90" fill="#e2e2e2"/>
<rect x="1027.08" y="1821.63" width="1.70" height="191.57" fill="#e2e2e2"/>
<rect x="1035.08" y="1821.63" width="1.70" height="191.57" fill="#e2e2e2"/>
<rect x="1036.75" y="1824.35" width="1.70" height="188.85" fill="#e2e2e2"/>
<rect x="1044.75" y="1824.35" width="1.70" height="188.85" fill="#e2e2e2"/>
<rect x="1046.42" y="1839.53" width="1.70" height="173.67" fill="#e2e2e2"/>
<rect x="1054.42" y="1839.53" width="1.70" height="173.67" fill="#e2e2e2"/>
<rect x="1056.09" y="1836.69" width="1.70" height="176.51" fill="#e2e2e2"/>
<rect x="1064.09" y="1836.69" width="1.70" height="176.51" fill="#e2e2e2"/>
<rect x="1065.76" y="1844.10" width="1.70" height="169.10" fill="#e2e2e2"/>
<rect x="1073.76" y="1844.10" width="1.70" height="169.10" fill="#e2e2e2"/>
<rect x="1075.42" y="1817.43" width="1.70" height="195.77" fill="#e2e2e2"/>
<rect x="1083.43" y="1817.43" width="1.70" height="195.77" fill="#e2e2e2"/>
<rect x="1085.10" y="1803.24" width="1.70" height="209.96" fill="#e2e2e2"/>
<rect x="1093.10" y="1803.24" width="1.70" height="209.96" fill="#e2e2e2"/>
<rect x="1094.77" y="1851.75" width="1.70" height="161.45" fill="#e2e2e2"/>
<rect x="1102.77" y="1851.75" width="1.70" height="161.45" fill="#e2e2e2"/>
<rect x="1104.44" y="1852.86" width="1.70" height="160.34" fill="#e2e2e2"/>
<rect x="1112.44" y="1852.86" width="1.70" height="160.34" fill="#e2e2e2"/>
<rect x="1114.11" y="1823.11" width="1.70" height="190.09" fill="#e2e2e2"/>
<rect x="1122.11" y="1823.11" width="1.70" height="190.09" fill="#e2e2e2"/>
<rect x="1123.78" y="1845.82" width="1.70" height="167.38" fill="#e2e2e2"/>
<rect x="1131.78" y="1845.82" width="1.70" height="167.38" fill="#e2e2e2"/>
<rect x="1133.45" y="1806.20" width="1.70" height="207.00" fill="#e2e2e2"/>
<rect x="1141.45" y="1806.20" width="1.70" height="207.00" fill="#e2e2e2"/>
<rect x="1143.12" y="1821.14" width="1.70" height="192.06" fill="#e2e2e2"/>
<rect x="1151.12" y="1821.14" width="1.70" height="192.06" fill="#e2e2e2"/>
<rect x="1152.79" y="1845.58" width="1.70" height="167.62" fill="#e2e2e2"/>
<rect x="1160.79" y="1845.58" width="1.70" height="167.62" fill="#e2e2e2"/>
<rect x="1162.46" y="1847.43" width="1.70" height="165.77" fill="#e2e2e2"/>
<rect x="1170.46" y="1847.43" width="1.70" height="165.77" fill="#e2e2e2"/>
<rect x="1172.12" y="1816.94" width="1.70" height="196.26" fill="#e2e2e2"/>
<rect x="1180.13" y="1816.94" width="1.70" height="196.26" fill="#e2e2e2"/>
<rect x="1181.80" y="1816.32" width="1.70" height="196.88" fill="#e2e2e2"/>
<rect x="1189.80" y="1816.32" width="1.70" height="196.88" fill="#e2e2e2"/>
<rect x="1191.47" y="1825.46" width="1.70" height="187.74" fill="#e2e2e2"/>
<rect x="1199.47" y="1825.46" width="1.70" height="187.74" fill="#e2e2e2"/>
<rect x="1201.13" y="1823.48" width="1.70" height="189.72" fill="#e2e2e2"/>
<rect x="1209.14" y="1823.48" width="1.70" height="189.72" fill="#e2e2e2"/>
<rect x="1210.81" y="1834.22" width="1.70" height="178.98" fill="#e2e2e2"/>
<rect x="1218.81" y="1834.22" width="1.70" height="178.98" fill="#e2e2e2"/>
<rect x="1220.48" y="1832.74" width="1.70" height="180.46" fill="#e2e2e2"/>
<rect x="1228.48" y="1832.74" width="1.70" height="180.46" fill="#e2e2e2"/>
<rect x="1230.15" y="1823.98" width="1.70" height="189.22" fill="#e2e2e2"/>
<rect x="1238.15" y="1823.98" width="1.70" height="189.22" fill="#e2e2e2"/>
<rect x="1239.82" y="1799.29" width="1.70" height="213.91" fill="#e2e2e2"/>
<rect x="1247.82" y="1799.29" width="1.70" height="213.91" fill="#e2e2e2"/>
<rect x="1249.49" y="1820.52" width="1.70" height="192.68" fill="#e2e2e2"/>
<rect x="1257.49" y="1820.52" width="1.70" height="192.68" fill="#e2e2e2"/>
<rect x="1259.15" y="1837.92" width="1.70" height="175.28" fill="#e2e2e2"/>
<rect x="1267.16" y="1837.92" width="1.70" height="175.28" fill="#e2e2e2"/>
<rect x="1268.83" y="1808.42" width="1.70" height="204.78" fill="#e2e2e2"/>
<rect x="1276.83" y="1808.42" width="1.70" height="204.78" fill="#e2e2e2"/>
<rect x="1278.50" y="1855.21" width="1.70" height="157.99" fill="#e2e2e2"/>
<rect x="1286.50" y="1855.21" width="1.70" height="157.99" fill="#e2e2e2"/>
<rect x="1288.17" y="1838.29" width="1.70" height="174.91" fill="#e2e2e2"/>
<rect x="1296.17" y="1838.29" width="1.70" height="174.91" fill="#e2e2e2"/>
<rect x="1297.84" y="1813.98" width="1.70" height="199.22" fill="#e2e2e2"/>
<rect x="1305.84" y="1813.98" width="1.70" height="199.22" fill="#e2e2e2"/>
<rect x="1307.51" y="1836.44" width="1.70" height="176.76" fill="#e2e2e2"/>
<rect x="1315.51" y="1836.44" width="1.70" height="176.76" fill="#e2e2e2"/>
<rect x="1317.17" y="1802.99" width="1.70" height="210.21" fill="#e2e2e2"/>
<rect x="1325.18" y="1802.99" width="1.70" height="210.21" fill="#e2e2e2"/>
<rect x="1326.85" y="1822.25" width="1.70" height="190.95" fill="#e2e2e2"/>
<rect x="1334.85" y="1822.25" width="1.70" height="190.95" fill="#e2e2e2"/>
<rect x="1336.52" y="1840.15" width="1.70" height="173.05" fill="#e2e2e2"/>
<rect x="1344.52" y="1840.15" width="1.70" height="173.05" fill="#e2e2e2"/>
<rect x="1346.19" y="1846.07" width="1.70" height="167.13" fill="#e2e2e2"/>
<rect x="1354.19" y="1846.07" width="1.70" height="167.13" fill="#e2e2e2"/>
<rect x="1355.86" y="1798.18" width="1.70" height="215.02" fill="#e2e2e2"/>
<rect x="1363.86" y="1798.18" width="1.70" height="215.02" fill="#e2e2e2"/>
<rect x="1365.53" y="1853.11" width="1.70" height="160.09" fill="#e2e2e2"/>
<rect x="1373.53" y="1853.11" width="1.70" height="160.09" fill="#e2e2e2"/>
<rect x="1375.19" y="1853.23" width="1.70" height="159.97" fill="#e2e2e2"/>
<rect x="1383.20" y="1853.23" width="1.70" height="159.97" fill="#e2e2e2"/>
<rect x="1384.87" y="1853.85" width="1.70" height="159.35" fill="#e2e2e2"/>
<rect x="1392.87" y="1853.85" width="1.70" height="159.35" fill="#e2e2e2"/>
<rect x="1394.54" y="1832.99" width="1.70" height="180.21" fill="#e2e2e2"/>
<rect x="1402.54" y="1832.99" width="1.70" height="180.21" fill="#e2e2e2"/>
<rect x="1404.21" y="1827.43" width="1.70" height="185.77" fill="#e2e2e2"/>
<rect x="1412.21" y="1827.43" width="1.70" height="185.77" fill="#e2e2e2"/>
<rect x="1413.88" y="1811.51" width="1.70" height="201.69" fill="#e2e2e2"/>
<rect x="1421.88" y="1811.51" width="1.70" height="201.69" fill="#e2e2e2"/>
<rect x="1423.55" y="1818.67" width="1.70" height="194.53" fill="#e2e2e2"/>
<rect x="1431.55" y="1818.67" width="1.70" height="194.53" fill="#e2e2e2"/>
<rect x="1433.22" y="1844.10" width="1.70" height="169.10" fill="#e2e2e2"/>
<rect x="1441.22" y="1844.10" width="1.70" height="169.10" fill="#e2e2e2"/>
<rect x="941.90" y="1860.14" width="6.15" height="153.06" fill="#5e5e5e"/>
<rect x="951.42" y="1867.30" width="6.30" height="145.90" fill="#5e5e5e"/>
<rect x="961.09" y="1823.61" width="6.30" height="189.59" fill="#5e5e5e"/>
<rect x="970.76" y="1879.89" width="6.30" height="133.31" fill="#5e5e5e"/>
<rect x="980.43" y="1836.69" width="6.30" height="176.51" fill="#5e5e5e"/>
<rect x="990.10" y="1870.02" width="6.30" height="143.18" fill="#5e5e5e"/>
<rect x="999.77" y="1830.52" width="6.30" height="182.68" fill="#5e5e5e"/>
<rect x="1009.44" y="1836.20" width="6.30" height="177.00" fill="#5e5e5e"/>
<rect x="1019.11" y="1840.64" width="6.30" height="172.56" fill="#5e5e5e"/>
<rect x="1028.78" y="1844.59" width="6.30" height="168.61" fill="#5e5e5e"/>
<rect x="1038.45" y="1833.97" width="6.30" height="179.23" fill="#5e5e5e"/>
<rect x="1048.12" y="1863.85" width="6.30" height="149.35" fill="#5e5e5e"/>
<rect x="1057.79" y="1853.23" width="6.30" height="159.97" fill="#5e5e5e"/>
<rect x="1067.46" y="1853.23" width="6.30" height="159.97" fill="#5e5e5e"/>
<rect x="1077.13" y="1852.49" width="6.30" height="160.71" fill="#5e5e5e"/>
<rect x="1086.80" y="1819.16" width="6.30" height="194.04" fill="#5e5e5e"/>
<rect x="1096.47" y="1874.21" width="6.30" height="138.99" fill="#5e5e5e"/>
<rect x="1106.14" y="1883.84" width="6.30" height="129.36" fill="#5e5e5e"/>
<rect x="1115.81" y="1866.07" width="6.30" height="147.13" fill="#5e5e5e"/>
<rect x="1125.48" y="1889.52" width="6.30" height="123.68" fill="#5e5e5e"/>
<rect x="1135.15" y="1818.67" width="6.30" height="194.53" fill="#5e5e5e"/>
<rect x="1144.82" y="1831.75" width="6.30" height="181.45" fill="#5e5e5e"/>
<rect x="1154.49" y="1865.08" width="6.30" height="148.12" fill="#5e5e5e"/>
<rect x="1164.16" y="1879.15" width="6.30" height="134.05" fill="#5e5e5e"/>
<rect x="1173.83" y="1853.72" width="6.30" height="159.48" fill="#5e5e5e"/>
<rect x="1183.50" y="1831.75" width="6.30" height="181.45" fill="#5e5e5e"/>
<rect x="1193.17" y="1847.55" width="6.30" height="165.65" fill="#5e5e5e"/>
<rect x="1202.84" y="1847.55" width="6.30" height="165.65" fill="#5e5e5e"/>
<rect x="1212.51" y="1868.54" width="6.30" height="144.66" fill="#5e5e5e"/>
<rect x="1222.18" y="1862.86" width="6.30" height="150.34" fill="#5e5e5e"/>
<rect x="1231.85" y="1845.82" width="6.30" height="167.38" fill="#5e5e5e"/>
<rect x="1241.52" y="1820.89" width="6.30" height="192.31" fill="#5e5e5e"/>
<rect x="1251.19" y="1846.81" width="6.30" height="166.39" fill="#5e5e5e"/>
<rect x="1260.86" y="1847.55" width="6.30" height="165.65" fill="#5e5e5e"/>
<rect x="1270.53" y="1828.30" width="6.30" height="184.90" fill="#5e5e5e"/>
<rect x="1280.20" y="1882.11" width="6.30" height="131.09" fill="#5e5e5e"/>
<rect x="1289.87" y="1870.02" width="6.30" height="143.18" fill="#5e5e5e"/>
<rect x="1299.54" y="1834.96" width="6.30" height="178.24" fill="#5e5e5e"/>
<rect x="1309.21" y="1867.30" width="6.30" height="145.90" fill="#5e5e5e"/>
<rect x="1318.88" y="1831.01" width="6.30" height="182.19" fill="#5e5e5e"/>
<rect x="1328.55" y="1858.91" width="6.30" height="154.29" fill="#5e5e5e"/>
<rect x="1338.22" y="1868.54" width="6.30" height="144.66" fill="#5e5e5e"/>
<rect x="1347.89" y="1880.39" width="6.30" height="132.81" fill="#5e5e5e"/>
<rect x="1357.56" y="1821.38" width="6.30" height="191.82" fill="#5e5e5e"/>
<rect x="1367.23" y="1887.05" width="6.30" height="126.15" fill="#5e5e5e"/>
<rect x="1376.90" y="1875.94" width="6.30" height="137.26" fill="#5e5e5e"/>
<rect x="1386.57" y="1875.94" width="6.30" height="137.26" fill="#5e5e5e"/>
<rect x="1396.24" y="1870.76" width="6.30" height="142.44" fill="#5e5e5e"/>
<rect x="1405.91" y="1854.96" width="6.30" height="158.24" fill="#5e5e5e"/>
<rect x="1415.58" y="1833.97" width="6.30" height="179.23" fill="#5e5e5e"/>
<rect x="1425.25" y="1849.28" width="6.30" height="163.92" fill="#5e5e5e"/>
<rect x="1434.92" y="1844.10" width="6.30" height="169.10" fill="#5e5e5e"/>
</g>
<rect x="943.05" y="1820.64" width="3.70" height="39.50" fill="#000"/>
<rect x="941.90" y="1818.99" width="13.50" height="3.30" fill="#000"/>
<rect x="941.90" y="1858.49" width="13.50" height="3.30" fill="#000"/>
<rect x="952.72" y="1825.33" width="3.70" height="41.97" fill="#000"/>
<rect x="944.07" y="1823.68" width="21.00" height="3.30" fill="#000"/>
<rect x="944.07" y="1865.65" width="21.00" height="3.30" fill="#000"/>
<rect x="962.39" y="1781.15" width="3.70" height="42.46" fill="#000"/>
<rect x="953.74" y="1779.50" width="21.00" height="3.30" fill="#000"/>
<rect x="953.74" y="1821.96" width="21.00" height="3.30" fill="#000"/>
<rect x="972.06" y="1815.71" width="3.70" height="64.19" fill="#000"/>
<rect x="963.41" y="1814.06" width="21.00" height="3.30" fill="#000"/>
<rect x="963.41" y="1878.24" width="21.00" height="3.30" fill="#000"/>
<rect x="981.73" y="1798.18" width="3.70" height="38.51" fill="#000"/>
<rect x="973.08" y="1796.53" width="21.00" height="3.30" fill="#000"/>
<rect x="973.08" y="1835.04" width="21.00" height="3.30" fill="#000"/>
<rect x="991.40" y="1815.71" width="3.70" height="54.31" fill="#000"/>
<rect x="982.75" y="1814.06" width="21.00" height="3.30" fill="#000"/>
<rect x="982.75" y="1868.37" width="21.00" height="3.30" fill="#000"/>
<rect x="1001.07" y="1786.33" width="3.70" height="44.19" fill="#000"/>
<rect x="992.42" y="1784.68" width="21.00" height="3.30" fill="#000"/>
<rect x="992.42" y="1828.87" width="21.00" height="3.30" fill="#000"/>
<rect x="1010.74" y="1807.81" width="3.70" height="28.39" fill="#000"/>
<rect x="1002.09" y="1806.16" width="21.00" height="3.30" fill="#000"/>
<rect x="1002.09" y="1834.55" width="21.00" height="3.30" fill="#000"/>
<rect x="1020.41" y="1775.96" width="3.70" height="64.68" fill="#000"/>
<rect x="1011.76" y="1774.31" width="21.00" height="3.30" fill="#000"/>
<rect x="1011.76" y="1838.99" width="21.00" height="3.30" fill="#000"/>
<rect x="1030.08" y="1798.67" width="3.70" height="45.92" fill="#000"/>
<rect x="1021.43" y="1797.02" width="21.00" height="3.30" fill="#000"/>
<rect x="1021.43" y="1842.94" width="21.00" height="3.30" fill="#000"/>
<rect x="1039.75" y="1814.72" width="3.70" height="19.26" fill="#000"/>
<rect x="1031.10" y="1813.07" width="21.00" height="3.30" fill="#000"/>
<rect x="1031.10" y="1832.32" width="21.00" height="3.30" fill="#000"/>
<rect x="1049.42" y="1815.21" width="3.70" height="48.63" fill="#000"/>
<rect x="1040.77" y="1813.56" width="21.00" height="3.30" fill="#000"/>
<rect x="1040.77" y="1862.20" width="21.00" height="3.30" fill="#000"/>
<rect x="1059.09" y="1820.15" width="3.70" height="33.08" fill="#000"/>
<rect x="1050.44" y="1818.50" width="21.00" height="3.30" fill="#000"/>
<rect x="1050.44" y="1851.58" width="21.00" height="3.30" fill="#000"/>
<rect x="1068.76" y="1834.96" width="3.70" height="18.27" fill="#000"/>
<rect x="1060.11" y="1833.31" width="21.00" height="3.30" fill="#000"/>
<rect x="1060.11" y="1851.58" width="21.00" height="3.30" fill="#000"/>
<rect x="1078.43" y="1782.38" width="3.70" height="70.11" fill="#000"/>
<rect x="1069.78" y="1780.73" width="21.00" height="3.30" fill="#000"/>
<rect x="1069.78" y="1850.84" width="21.00" height="3.30" fill="#000"/>
<rect x="1088.10" y="1787.32" width="3.70" height="31.85" fill="#000"/>
<rect x="1079.45" y="1785.67" width="21.00" height="3.30" fill="#000"/>
<rect x="1079.45" y="1817.51" width="21.00" height="3.30" fill="#000"/>
<rect x="1097.77" y="1829.28" width="3.70" height="44.93" fill="#000"/>
<rect x="1089.12" y="1827.63" width="21.00" height="3.30" fill="#000"/>
<rect x="1089.12" y="1872.56" width="21.00" height="3.30" fill="#000"/>
<rect x="1107.44" y="1821.88" width="3.70" height="61.96" fill="#000"/>
<rect x="1098.79" y="1820.23" width="21.00" height="3.30" fill="#000"/>
<rect x="1098.79" y="1882.19" width="21.00" height="3.30" fill="#000"/>
<rect x="1117.11" y="1780.16" width="3.70" height="85.91" fill="#000"/>
<rect x="1108.46" y="1778.51" width="21.00" height="3.30" fill="#000"/>
<rect x="1108.46" y="1864.42" width="21.00" height="3.30" fill="#000"/>
<rect x="1126.78" y="1802.13" width="3.70" height="87.39" fill="#000"/>
<rect x="1118.13" y="1800.48" width="21.00" height="3.30" fill="#000"/>
<rect x="1118.13" y="1887.87" width="21.00" height="3.30" fill="#000"/>
<rect x="1136.45" y="1793.74" width="3.70" height="24.93" fill="#000"/>
<rect x="1127.80" y="1792.09" width="21.00" height="3.30" fill="#000"/>
<rect x="1127.80" y="1817.02" width="21.00" height="3.30" fill="#000"/>
<rect x="1146.12" y="1810.52" width="3.70" height="21.23" fill="#000"/>
<rect x="1137.47" y="1808.87" width="21.00" height="3.30" fill="#000"/>
<rect x="1137.47" y="1830.10" width="21.00" height="3.30" fill="#000"/>
<rect x="1155.79" y="1826.08" width="3.70" height="39.00" fill="#000"/>
<rect x="1147.14" y="1824.43" width="21.00" height="3.30" fill="#000"/>
<rect x="1147.14" y="1863.43" width="21.00" height="3.30" fill="#000"/>
<rect x="1165.46" y="1815.71" width="3.70" height="63.44" fill="#000"/>
<rect x="1156.81" y="1814.06" width="21.00" height="3.30" fill="#000"/>
<rect x="1156.81" y="1877.50" width="21.00" height="3.30" fill="#000"/>
<rect x="1175.13" y="1780.16" width="3.70" height="73.57" fill="#000"/>
<rect x="1166.48" y="1778.51" width="21.00" height="3.30" fill="#000"/>
<rect x="1166.48" y="1852.07" width="21.00" height="3.30" fill="#000"/>
<rect x="1184.80" y="1800.89" width="3.70" height="30.86" fill="#000"/>
<rect x="1176.15" y="1799.24" width="21.00" height="3.30" fill="#000"/>
<rect x="1176.15" y="1830.10" width="21.00" height="3.30" fill="#000"/>
<rect x="1194.47" y="1803.36" width="3.70" height="44.19" fill="#000"/>
<rect x="1185.82" y="1801.71" width="21.00" height="3.30" fill="#000"/>
<rect x="1185.82" y="1845.90" width="21.00" height="3.30" fill="#000"/>
<rect x="1204.14" y="1799.41" width="3.70" height="48.14" fill="#000"/>
<rect x="1195.49" y="1797.76" width="21.00" height="3.30" fill="#000"/>
<rect x="1195.49" y="1845.90" width="21.00" height="3.30" fill="#000"/>
<rect x="1213.81" y="1799.91" width="3.70" height="68.63" fill="#000"/>
<rect x="1205.16" y="1798.26" width="21.00" height="3.30" fill="#000"/>
<rect x="1205.16" y="1866.89" width="21.00" height="3.30" fill="#000"/>
<rect x="1223.48" y="1802.62" width="3.70" height="60.24" fill="#000"/>
<rect x="1214.83" y="1800.97" width="21.00" height="3.30" fill="#000"/>
<rect x="1214.83" y="1861.21" width="21.00" height="3.30" fill="#000"/>
<rect x="1233.15" y="1802.13" width="3.70" height="43.70" fill="#000"/>
<rect x="1224.50" y="1800.48" width="21.00" height="3.30" fill="#000"/>
<rect x="1224.50" y="1844.17" width="21.00" height="3.30" fill="#000"/>
<rect x="1242.82" y="1777.69" width="3.70" height="43.20" fill="#000"/>
<rect x="1234.17" y="1776.04" width="21.00" height="3.30" fill="#000"/>
<rect x="1234.17" y="1819.24" width="21.00" height="3.30" fill="#000"/>
<rect x="1252.49" y="1794.23" width="3.70" height="52.58" fill="#000"/>
<rect x="1243.84" y="1792.58" width="21.00" height="3.30" fill="#000"/>
<rect x="1243.84" y="1845.16" width="21.00" height="3.30" fill="#000"/>
<rect x="1262.16" y="1828.30" width="3.70" height="19.26" fill="#000"/>
<rect x="1253.51" y="1826.65" width="21.00" height="3.30" fill="#000"/>
<rect x="1253.51" y="1845.90" width="21.00" height="3.30" fill="#000"/>
<rect x="1271.83" y="1788.55" width="3.70" height="39.75" fill="#000"/>
<rect x="1263.18" y="1786.90" width="21.00" height="3.30" fill="#000"/>
<rect x="1263.18" y="1826.65" width="21.00" height="3.30" fill="#000"/>
<rect x="1281.50" y="1828.30" width="3.70" height="53.82" fill="#000"/>
<rect x="1272.85" y="1826.65" width="21.00" height="3.30" fill="#000"/>
<rect x="1272.85" y="1880.46" width="21.00" height="3.30" fill="#000"/>
<rect x="1291.17" y="1806.57" width="3.70" height="63.44" fill="#000"/>
<rect x="1282.52" y="1804.92" width="21.00" height="3.30" fill="#000"/>
<rect x="1282.52" y="1868.37" width="21.00" height="3.30" fill="#000"/>
<rect x="1300.84" y="1792.99" width="3.70" height="41.97" fill="#000"/>
<rect x="1292.19" y="1791.34" width="21.00" height="3.30" fill="#000"/>
<rect x="1292.19" y="1833.31" width="21.00" height="3.30" fill="#000"/>
<rect x="1310.51" y="1805.59" width="3.70" height="61.72" fill="#000"/>
<rect x="1301.86" y="1803.94" width="21.00" height="3.30" fill="#000"/>
<rect x="1301.86" y="1865.65" width="21.00" height="3.30" fill="#000"/>
<rect x="1320.18" y="1774.97" width="3.70" height="56.04" fill="#000"/>
<rect x="1311.53" y="1773.32" width="21.00" height="3.30" fill="#000"/>
<rect x="1311.53" y="1829.36" width="21.00" height="3.30" fill="#000"/>
<rect x="1329.85" y="1785.59" width="3.70" height="73.32" fill="#000"/>
<rect x="1321.20" y="1783.94" width="21.00" height="3.30" fill="#000"/>
<rect x="1321.20" y="1857.26" width="21.00" height="3.30" fill="#000"/>
<rect x="1339.52" y="1811.76" width="3.70" height="56.78" fill="#000"/>
<rect x="1330.87" y="1810.11" width="21.00" height="3.30" fill="#000"/>
<rect x="1330.87" y="1866.89" width="21.00" height="3.30" fill="#000"/>
<rect x="1349.19" y="1811.76" width="3.70" height="68.63" fill="#000"/>
<rect x="1340.54" y="1810.11" width="21.00" height="3.30" fill="#000"/>
<rect x="1340.54" y="1878.74" width="21.00" height="3.30" fill="#000"/>
<rect x="1358.86" y="1774.97" width="3.70" height="46.41" fill="#000"/>
<rect x="1350.21" y="1773.32" width="21.00" height="3.30" fill="#000"/>
<rect x="1350.21" y="1819.73" width="21.00" height="3.30" fill="#000"/>
<rect x="1368.53" y="1819.16" width="3.70" height="67.89" fill="#000"/>
<rect x="1359.88" y="1817.51" width="21.00" height="3.30" fill="#000"/>
<rect x="1359.88" y="1885.40" width="21.00" height="3.30" fill="#000"/>
<rect x="1378.20" y="1830.52" width="3.70" height="45.42" fill="#000"/>
<rect x="1369.55" y="1828.87" width="21.00" height="3.30" fill="#000"/>
<rect x="1369.55" y="1874.29" width="21.00" height="3.30" fill="#000"/>
<rect x="1387.87" y="1831.75" width="3.70" height="44.19" fill="#000"/>
<rect x="1379.22" y="1830.10" width="21.00" height="3.30" fill="#000"/>
<rect x="1379.22" y="1874.29" width="21.00" height="3.30" fill="#000"/>
<rect x="1397.54" y="1795.22" width="3.70" height="75.54" fill="#000"/>
<rect x="1388.89" y="1793.57" width="21.00" height="3.30" fill="#000"/>
<rect x="1388.89" y="1869.11" width="21.00" height="3.30" fill="#000"/>
<rect x="1407.21" y="1799.91" width="3.70" height="55.05" fill="#000"/>
<rect x="1398.56" y="1798.26" width="21.00" height="3.30" fill="#000"/>
<rect x="1398.56" y="1853.31" width="21.00" height="3.30" fill="#000"/>
<rect x="1416.88" y="1789.05" width="3.70" height="44.93" fill="#000"/>
<rect x="1408.23" y="1787.40" width="21.00" height="3.30" fill="#000"/>
<rect x="1408.23" y="1832.32" width="21.00" height="3.30" fill="#000"/>
<rect x="1426.55" y="1788.06" width="3.70" height="61.22" fill="#000"/>
<rect x="1417.90" y="1786.41" width="21.00" height="3.30" fill="#000"/>
<rect x="1417.90" y="1847.63" width="21.00" height="3.30" fill="#000"/>
<rect x="941.90" y="1641.90" width="5.60" height="374.20" fill="#000"/>
<rect x="932.20" y="2010.30" width="506.50" height="5.80" fill="#000"/>
<rect x="932.20" y="2010.60" width="12.50" height="5.20" fill="#000"/>
<rect x="932.20" y="1887.17" width="12.50" height="5.20" fill="#000"/>
<rect x="932.20" y="1763.73" width="12.50" height="5.20" fill="#000"/>
<rect x="932.20" y="1640.30" width="12.50" height="5.20" fill="#000"/>
<rect x="941.90" y="2013.20" width="5.60" height="11.80" fill="#000"/>
<rect x="1038.60" y="2013.20" width="5.60" height="11.80" fill="#000"/>
<rect x="1135.30" y="2013.20" width="5.60" height="11.80" fill="#000"/>
<rect x="1232.00" y="2013.20" width="5.60" height="11.80" fill="#000"/>
<rect x="1328.70" y="2013.20" width="5.60" height="11.80" fill="#000"/>
<rect x="1425.40" y="2013.20" width="5.60" height="11.80" fill="#000"/>
<text transform="translate(881.70,2024.30) scale(0.35527,0.34000)" font-weight="700">0</text>
<text transform="translate(861.99,1900.87) scale(0.35527,0.34000)" font-weight="700">50</text>
<text transform="translate(842.27,1777.43) scale(0.35527,0.34000)" font-weight="700">100</text>
<text transform="translate(842.27,1654.00) scale(0.35527,0.34000)" font-weight="700">150</text>
<text transform="translate(935.24,2060.70) scale(0.35527,0.34000)" font-weight="700">0</text>
<text transform="translate(1031.85,2060.70) scale(0.35527,0.34000)" font-weight="700">5</text>
<text transform="translate(1118.43,2060.70) scale(0.35527,0.34000)" font-weight="700">10</text>
<text transform="translate(1214.86,2060.70) scale(0.35527,0.34000)" font-weight="700">15</text>
<text transform="translate(1312.27,2060.70) scale(0.35527,0.34000)" font-weight="700">20</text>
<text transform="translate(1408.70,2060.70) scale(0.35527,0.34000)" font-weight="700">25</text>
<text transform="translate(1076.68,2103.95) scale(0.43545,0.43724)" font-weight="400" stroke="#000" stroke-width="2.06" stroke-linejoin="round">Time (min)</text>
<text transform="translate(832.55,2002.23) rotate(-90) scale(0.33534,0.35507)" font-weight="400" stroke="#000" stroke-width="2.03" stroke-linejoin="round">Events (mEPSCs/30s)</text>
<text transform="translate(797.86,1616.00) scale(0.48305,0.52464)" font-weight="700">H</text>
<rect x="948.60" y="1697.00" width="488.20" height="10.20" fill="#000"/>
<text transform="translate(1123.14,1696.75) scale(0.40093,0.39714)" font-weight="400" stroke="#000" stroke-width="1.75" stroke-linejoin="round">ML-9</text>
<rect x="1045.00" y="1754.40" width="190.00" height="10.40" fill="#000"/>
<text transform="translate(1048.81,1747.55) scale(0.34168,0.31714)" font-weight="400" stroke="#000" stroke-width="2.13" stroke-linejoin="round">SR58611A</text>
<g>
<rect x="182.45" y="2338.47" width="1.70" height="162.93" fill="#e2e2e2"/>
<rect x="184.11" y="2339.09" width="1.70" height="162.31" fill="#e2e2e2"/>
<rect x="192.12" y="2339.09" width="1.70" height="162.31" fill="#e2e2e2"/>
<rect x="193.78" y="2318.84" width="1.70" height="182.56" fill="#e2e2e2"/>
<rect x="201.79" y="2318.84" width="1.70" height="182.56" fill="#e2e2e2"/>
<rect x="203.45" y="2340.81" width="1.70" height="160.59" fill="#e2e2e2"/>
<rect x="211.46" y="2340.81" width="1.70" height="160.59" fill="#e2e2e2"/>
<rect x="213.12" y="2326.74" width="1.70" height="174.66" fill="#e2e2e2"/>
<rect x="221.13" y="2326.74" width="1.70" height="174.66" fill="#e2e2e2"/>
<rect x="222.79" y="2295.51" width="1.70" height="205.89" fill="#e2e2e2"/>
<rect x="230.80" y="2295.51" width="1.70" height="205.89" fill="#e2e2e2"/>
<rect x="232.47" y="2320.20" width="1.70" height="181.20" fill="#e2e2e2"/>
<rect x="240.47" y="2320.20" width="1.70" height="181.20" fill="#e2e2e2"/>
<rect x="242.13" y="2326.99" width="1.70" height="174.41" fill="#e2e2e2"/>
<rect x="250.14" y="2326.99" width="1.70" height="174.41" fill="#e2e2e2"/>
<rect x="251.80" y="2295.02" width="1.70" height="206.38" fill="#e2e2e2"/>
<rect x="259.81" y="2295.02" width="1.71" height="206.38" fill="#e2e2e2"/>
<rect x="261.47" y="2335.75" width="1.71" height="165.65" fill="#e2e2e2"/>
<rect x="269.48" y="2335.75" width="1.71" height="165.65" fill="#e2e2e2"/>
<rect x="271.14" y="2284.53" width="1.71" height="216.87" fill="#e2e2e2"/>
<rect x="279.15" y="2284.53" width="1.71" height="216.87" fill="#e2e2e2"/>
<rect x="280.81" y="2338.84" width="1.71" height="162.56" fill="#e2e2e2"/>
<rect x="288.82" y="2338.84" width="1.71" height="162.56" fill="#e2e2e2"/>
<rect x="290.48" y="2313.16" width="1.71" height="188.24" fill="#e2e2e2"/>
<rect x="298.49" y="2313.16" width="1.71" height="188.24" fill="#e2e2e2"/>
<rect x="300.15" y="2306.87" width="1.71" height="194.53" fill="#e2e2e2"/>
<rect x="308.16" y="2306.87" width="1.71" height="194.53" fill="#e2e2e2"/>
<rect x="309.82" y="2340.81" width="1.71" height="160.59" fill="#e2e2e2"/>
<rect x="317.83" y="2340.81" width="1.71" height="160.59" fill="#e2e2e2"/>
<rect x="319.49" y="2304.03" width="1.71" height="197.37" fill="#e2e2e2"/>
<rect x="327.50" y="2304.03" width="1.71" height="197.37" fill="#e2e2e2"/>
<rect x="329.16" y="2308.60" width="1.71" height="192.80" fill="#e2e2e2"/>
<rect x="337.17" y="2308.60" width="1.71" height="192.80" fill="#e2e2e2"/>
<rect x="338.83" y="2329.58" width="1.71" height="171.82" fill="#e2e2e2"/>
<rect x="346.84" y="2329.58" width="1.71" height="171.82" fill="#e2e2e2"/>
<rect x="348.50" y="2289.34" width="1.71" height="212.06" fill="#e2e2e2"/>
<rect x="356.51" y="2289.34" width="1.71" height="212.06" fill="#e2e2e2"/>
<rect x="358.17" y="2321.06" width="1.71" height="180.34" fill="#e2e2e2"/>
<rect x="366.18" y="2321.06" width="1.71" height="180.34" fill="#e2e2e2"/>
<rect x="367.84" y="2323.53" width="1.71" height="177.87" fill="#e2e2e2"/>
<rect x="375.85" y="2323.53" width="1.71" height="177.87" fill="#e2e2e2"/>
<rect x="377.51" y="2300.94" width="1.71" height="200.46" fill="#e2e2e2"/>
<rect x="385.52" y="2300.94" width="1.71" height="200.46" fill="#e2e2e2"/>
<rect x="387.19" y="2303.29" width="1.71" height="198.11" fill="#e2e2e2"/>
<rect x="395.19" y="2303.29" width="1.71" height="198.11" fill="#e2e2e2"/>
<rect x="396.85" y="2304.89" width="1.71" height="196.51" fill="#e2e2e2"/>
<rect x="404.86" y="2304.89" width="1.71" height="196.51" fill="#e2e2e2"/>
<rect x="406.52" y="2304.03" width="1.71" height="197.37" fill="#e2e2e2"/>
<rect x="414.53" y="2304.03" width="1.71" height="197.37" fill="#e2e2e2"/>
<rect x="416.19" y="2326.49" width="1.71" height="174.91" fill="#e2e2e2"/>
<rect x="424.20" y="2326.49" width="1.71" height="174.91" fill="#e2e2e2"/>
<rect x="425.86" y="2307.98" width="1.71" height="193.42" fill="#e2e2e2"/>
<rect x="433.87" y="2307.98" width="1.71" height="193.42" fill="#e2e2e2"/>
<rect x="435.53" y="2302.43" width="1.71" height="198.97" fill="#e2e2e2"/>
<rect x="443.54" y="2302.43" width="1.71" height="198.97" fill="#e2e2e2"/>
<rect x="445.20" y="2296.99" width="1.71" height="204.41" fill="#e2e2e2"/>
<rect x="453.21" y="2296.99" width="1.71" height="204.41" fill="#e2e2e2"/>
<rect x="454.87" y="2322.67" width="1.71" height="178.73" fill="#e2e2e2"/>
<rect x="462.88" y="2322.67" width="1.71" height="178.73" fill="#e2e2e2"/>
<rect x="464.55" y="2328.72" width="1.71" height="172.68" fill="#e2e2e2"/>
<rect x="472.55" y="2328.72" width="1.71" height="172.68" fill="#e2e2e2"/>
<rect x="474.21" y="2327.24" width="1.71" height="174.16" fill="#e2e2e2"/>
<rect x="482.22" y="2327.24" width="1.71" height="174.16" fill="#e2e2e2"/>
<rect x="483.88" y="2338.59" width="1.71" height="162.81" fill="#e2e2e2"/>
<rect x="491.89" y="2338.59" width="1.71" height="162.81" fill="#e2e2e2"/>
<rect x="493.56" y="2326.74" width="1.71" height="174.66" fill="#e2e2e2"/>
<rect x="501.56" y="2326.74" width="1.71" height="174.66" fill="#e2e2e2"/>
<rect x="503.22" y="2317.98" width="1.71" height="183.42" fill="#e2e2e2"/>
<rect x="511.23" y="2317.98" width="1.70" height="183.42" fill="#e2e2e2"/>
<rect x="512.89" y="2301.56" width="1.71" height="199.84" fill="#e2e2e2"/>
<rect x="520.90" y="2301.56" width="1.71" height="199.84" fill="#e2e2e2"/>
<rect x="522.57" y="2300.57" width="1.71" height="200.83" fill="#e2e2e2"/>
<rect x="530.57" y="2300.57" width="1.71" height="200.83" fill="#e2e2e2"/>
<rect x="532.24" y="2318.84" width="1.71" height="182.56" fill="#e2e2e2"/>
<rect x="540.24" y="2318.84" width="1.71" height="182.56" fill="#e2e2e2"/>
<rect x="541.90" y="2284.53" width="1.71" height="216.87" fill="#e2e2e2"/>
<rect x="549.91" y="2284.53" width="1.71" height="216.87" fill="#e2e2e2"/>
<rect x="551.58" y="2320.45" width="1.71" height="180.95" fill="#e2e2e2"/>
<rect x="559.58" y="2320.45" width="1.71" height="180.95" fill="#e2e2e2"/>
<rect x="561.25" y="2334.02" width="1.71" height="167.38" fill="#e2e2e2"/>
<rect x="569.25" y="2334.02" width="1.71" height="167.38" fill="#e2e2e2"/>
<rect x="570.91" y="2289.84" width="1.71" height="211.56" fill="#e2e2e2"/>
<rect x="578.92" y="2289.84" width="1.71" height="211.56" fill="#e2e2e2"/>
<rect x="580.59" y="2311.68" width="1.71" height="189.72" fill="#e2e2e2"/>
<rect x="588.59" y="2311.68" width="1.71" height="189.72" fill="#e2e2e2"/>
<rect x="590.25" y="2298.35" width="1.71" height="203.05" fill="#e2e2e2"/>
<rect x="598.26" y="2298.35" width="1.71" height="203.05" fill="#e2e2e2"/>
<rect x="599.93" y="2334.64" width="1.71" height="166.76" fill="#e2e2e2"/>
<rect x="607.93" y="2334.64" width="1.71" height="166.76" fill="#e2e2e2"/>
<rect x="609.60" y="2286.13" width="1.71" height="215.27" fill="#e2e2e2"/>
<rect x="617.60" y="2286.13" width="1.71" height="215.27" fill="#e2e2e2"/>
<rect x="619.26" y="2326.62" width="1.71" height="174.78" fill="#e2e2e2"/>
<rect x="627.27" y="2326.62" width="1.71" height="174.78" fill="#e2e2e2"/>
<rect x="628.94" y="2315.26" width="1.71" height="186.14" fill="#e2e2e2"/>
<rect x="636.94" y="2315.26" width="1.71" height="186.14" fill="#e2e2e2"/>
<rect x="638.61" y="2338.84" width="1.71" height="162.56" fill="#e2e2e2"/>
<rect x="646.61" y="2338.84" width="1.71" height="162.56" fill="#e2e2e2"/>
<rect x="648.27" y="2295.76" width="1.71" height="205.64" fill="#e2e2e2"/>
<rect x="656.28" y="2295.76" width="1.71" height="205.64" fill="#e2e2e2"/>
<rect x="657.95" y="2338.34" width="1.71" height="163.06" fill="#e2e2e2"/>
<rect x="665.95" y="2338.34" width="1.71" height="163.06" fill="#e2e2e2"/>
<rect x="667.62" y="2331.06" width="1.71" height="170.34" fill="#e2e2e2"/>
<rect x="675.62" y="2331.06" width="1.71" height="170.34" fill="#e2e2e2"/>
<rect x="176.30" y="2353.28" width="6.15" height="148.12" fill="#5e5e5e"/>
<rect x="185.82" y="2355.50" width="6.30" height="145.90" fill="#5e5e5e"/>
<rect x="195.49" y="2354.51" width="6.30" height="146.89" fill="#5e5e5e"/>
<rect x="205.16" y="2359.45" width="6.30" height="141.95" fill="#5e5e5e"/>
<rect x="214.83" y="2343.16" width="6.30" height="158.24" fill="#5e5e5e"/>
<rect x="224.50" y="2331.80" width="6.30" height="169.60" fill="#5e5e5e"/>
<rect x="234.17" y="2335.75" width="6.30" height="165.65" fill="#5e5e5e"/>
<rect x="243.84" y="2347.11" width="6.30" height="154.29" fill="#5e5e5e"/>
<rect x="253.51" y="2318.22" width="6.30" height="183.18" fill="#5e5e5e"/>
<rect x="263.18" y="2365.87" width="6.30" height="135.53" fill="#5e5e5e"/>
<rect x="272.85" y="2314.28" width="6.30" height="187.12" fill="#5e5e5e"/>
<rect x="282.52" y="2351.06" width="6.30" height="150.34" fill="#5e5e5e"/>
<rect x="292.19" y="2354.51" width="6.30" height="146.89" fill="#5e5e5e"/>
<rect x="301.86" y="2330.07" width="6.30" height="171.33" fill="#5e5e5e"/>
<rect x="311.53" y="2383.89" width="6.30" height="117.51" fill="#5e5e5e"/>
<rect x="321.20" y="2335.26" width="6.30" height="166.14" fill="#5e5e5e"/>
<rect x="330.87" y="2346.61" width="6.30" height="154.79" fill="#5e5e5e"/>
<rect x="340.54" y="2346.61" width="6.30" height="154.79" fill="#5e5e5e"/>
<rect x="350.21" y="2314.77" width="6.30" height="186.63" fill="#5e5e5e"/>
<rect x="359.88" y="2345.38" width="6.30" height="156.02" fill="#5e5e5e"/>
<rect x="369.55" y="2345.38" width="6.30" height="156.02" fill="#5e5e5e"/>
<rect x="379.22" y="2335.75" width="6.30" height="165.65" fill="#5e5e5e"/>
<rect x="388.89" y="2317.73" width="6.30" height="183.67" fill="#5e5e5e"/>
<rect x="398.56" y="2319.95" width="6.30" height="181.45" fill="#5e5e5e"/>
<rect x="408.23" y="2318.22" width="6.30" height="183.18" fill="#5e5e5e"/>
<rect x="417.90" y="2336.99" width="6.30" height="164.41" fill="#5e5e5e"/>
<rect x="427.57" y="2341.92" width="6.30" height="159.48" fill="#5e5e5e"/>
<rect x="437.24" y="2327.36" width="6.30" height="174.04" fill="#5e5e5e"/>
<rect x="446.91" y="2331.80" width="6.30" height="169.60" fill="#5e5e5e"/>
<rect x="456.58" y="2360.69" width="6.30" height="140.71" fill="#5e5e5e"/>
<rect x="466.25" y="2336.99" width="6.30" height="164.41" fill="#5e5e5e"/>
<rect x="475.92" y="2343.65" width="6.30" height="157.75" fill="#5e5e5e"/>
<rect x="485.59" y="2352.29" width="6.30" height="149.11" fill="#5e5e5e"/>
<rect x="495.26" y="2350.56" width="6.30" height="150.84" fill="#5e5e5e"/>
<rect x="504.93" y="2338.71" width="6.30" height="162.69" fill="#5e5e5e"/>
<rect x="514.60" y="2339.21" width="6.30" height="162.19" fill="#5e5e5e"/>
<rect x="524.27" y="2314.77" width="6.30" height="186.63" fill="#5e5e5e"/>
<rect x="533.94" y="2334.77" width="6.30" height="166.63" fill="#5e5e5e"/>
<rect x="543.61" y="2292.80" width="6.30" height="208.60" fill="#5e5e5e"/>
<rect x="553.28" y="2339.70" width="6.30" height="161.70" fill="#5e5e5e"/>
<rect x="562.95" y="2349.82" width="6.30" height="151.58" fill="#5e5e5e"/>
<rect x="572.62" y="2318.22" width="6.30" height="183.18" fill="#5e5e5e"/>
<rect x="582.29" y="2337.97" width="6.30" height="163.43" fill="#5e5e5e"/>
<rect x="591.96" y="2327.85" width="6.30" height="173.55" fill="#5e5e5e"/>
<rect x="601.63" y="2358.46" width="6.30" height="142.94" fill="#5e5e5e"/>
<rect x="611.30" y="2295.51" width="6.30" height="205.89" fill="#5e5e5e"/>
<rect x="620.97" y="2351.55" width="6.30" height="149.85" fill="#5e5e5e"/>
<rect x="630.64" y="2349.82" width="6.30" height="151.58" fill="#5e5e5e"/>
<rect x="640.31" y="2375.99" width="6.30" height="125.41" fill="#5e5e5e"/>
<rect x="649.98" y="2330.57" width="6.30" height="170.83" fill="#5e5e5e"/>
<rect x="659.65" y="2369.33" width="6.30" height="132.07" fill="#5e5e5e"/>
<rect x="669.32" y="2331.06" width="6.30" height="170.34" fill="#5e5e5e"/>
</g>
<rect x="177.45" y="2323.66" width="3.70" height="29.62" fill="#000"/>
<rect x="176.30" y="2322.01" width="13.50" height="3.30" fill="#000"/>
<rect x="176.30" y="2351.63" width="13.50" height="3.30" fill="#000"/>
<rect x="187.12" y="2322.67" width="3.70" height="32.83" fill="#000"/>
<rect x="178.47" y="2321.02" width="21.00" height="3.30" fill="#000"/>
<rect x="178.47" y="2353.85" width="21.00" height="3.30" fill="#000"/>
<rect x="196.79" y="2283.17" width="3.70" height="71.34" fill="#000"/>
<rect x="188.14" y="2281.52" width="21.00" height="3.30" fill="#000"/>
<rect x="188.14" y="2352.86" width="21.00" height="3.30" fill="#000"/>
<rect x="206.46" y="2322.17" width="3.70" height="37.28" fill="#000"/>
<rect x="197.81" y="2320.52" width="21.00" height="3.30" fill="#000"/>
<rect x="197.81" y="2357.80" width="21.00" height="3.30" fill="#000"/>
<rect x="216.13" y="2310.33" width="3.70" height="32.83" fill="#000"/>
<rect x="207.48" y="2308.68" width="21.00" height="3.30" fill="#000"/>
<rect x="207.48" y="2341.51" width="21.00" height="3.30" fill="#000"/>
<rect x="225.80" y="2259.22" width="3.70" height="72.58" fill="#000"/>
<rect x="217.15" y="2257.57" width="21.00" height="3.30" fill="#000"/>
<rect x="217.15" y="2330.15" width="21.00" height="3.30" fill="#000"/>
<rect x="235.47" y="2304.65" width="3.70" height="31.11" fill="#000"/>
<rect x="226.82" y="2303.00" width="21.00" height="3.30" fill="#000"/>
<rect x="226.82" y="2334.10" width="21.00" height="3.30" fill="#000"/>
<rect x="245.14" y="2306.87" width="3.70" height="40.24" fill="#000"/>
<rect x="236.49" y="2305.22" width="21.00" height="3.30" fill="#000"/>
<rect x="236.49" y="2345.46" width="21.00" height="3.30" fill="#000"/>
<rect x="254.81" y="2271.81" width="3.70" height="46.41" fill="#000"/>
<rect x="246.16" y="2270.16" width="21.00" height="3.30" fill="#000"/>
<rect x="246.16" y="2316.57" width="21.00" height="3.30" fill="#000"/>
<rect x="264.48" y="2305.63" width="3.70" height="60.24" fill="#000"/>
<rect x="255.83" y="2303.98" width="21.00" height="3.30" fill="#000"/>
<rect x="255.83" y="2364.22" width="21.00" height="3.30" fill="#000"/>
<rect x="274.15" y="2254.78" width="3.70" height="59.49" fill="#000"/>
<rect x="265.50" y="2253.13" width="21.00" height="3.30" fill="#000"/>
<rect x="265.50" y="2312.63" width="21.00" height="3.30" fill="#000"/>
<rect x="283.82" y="2326.62" width="3.70" height="24.44" fill="#000"/>
<rect x="275.17" y="2324.97" width="21.00" height="3.30" fill="#000"/>
<rect x="275.17" y="2349.41" width="21.00" height="3.30" fill="#000"/>
<rect x="293.49" y="2271.81" width="3.70" height="82.70" fill="#000"/>
<rect x="284.84" y="2270.16" width="21.00" height="3.30" fill="#000"/>
<rect x="284.84" y="2352.86" width="21.00" height="3.30" fill="#000"/>
<rect x="303.16" y="2283.66" width="3.70" height="46.41" fill="#000"/>
<rect x="294.51" y="2282.01" width="21.00" height="3.30" fill="#000"/>
<rect x="294.51" y="2328.42" width="21.00" height="3.30" fill="#000"/>
<rect x="312.83" y="2297.74" width="3.70" height="86.16" fill="#000"/>
<rect x="304.18" y="2296.09" width="21.00" height="3.30" fill="#000"/>
<rect x="304.18" y="2382.24" width="21.00" height="3.30" fill="#000"/>
<rect x="322.50" y="2272.80" width="3.70" height="62.46" fill="#000"/>
<rect x="313.85" y="2271.15" width="21.00" height="3.30" fill="#000"/>
<rect x="313.85" y="2333.61" width="21.00" height="3.30" fill="#000"/>
<rect x="332.17" y="2270.58" width="3.70" height="76.03" fill="#000"/>
<rect x="323.52" y="2268.93" width="21.00" height="3.30" fill="#000"/>
<rect x="323.52" y="2344.96" width="21.00" height="3.30" fill="#000"/>
<rect x="341.84" y="2312.55" width="3.70" height="34.07" fill="#000"/>
<rect x="333.19" y="2310.90" width="21.00" height="3.30" fill="#000"/>
<rect x="333.19" y="2344.96" width="21.00" height="3.30" fill="#000"/>
<rect x="351.51" y="2263.91" width="3.70" height="50.85" fill="#000"/>
<rect x="342.86" y="2262.26" width="21.00" height="3.30" fill="#000"/>
<rect x="342.86" y="2313.12" width="21.00" height="3.30" fill="#000"/>
<rect x="361.18" y="2296.75" width="3.70" height="48.63" fill="#000"/>
<rect x="352.53" y="2295.10" width="21.00" height="3.30" fill="#000"/>
<rect x="352.53" y="2343.73" width="21.00" height="3.30" fill="#000"/>
<rect x="370.85" y="2301.68" width="3.70" height="43.70" fill="#000"/>
<rect x="362.20" y="2300.03" width="21.00" height="3.30" fill="#000"/>
<rect x="362.20" y="2343.73" width="21.00" height="3.30" fill="#000"/>
<rect x="380.52" y="2266.14" width="3.70" height="69.62" fill="#000"/>
<rect x="371.87" y="2264.49" width="21.00" height="3.30" fill="#000"/>
<rect x="371.87" y="2334.10" width="21.00" height="3.30" fill="#000"/>
<rect x="390.19" y="2288.85" width="3.70" height="28.88" fill="#000"/>
<rect x="381.54" y="2287.20" width="21.00" height="3.30" fill="#000"/>
<rect x="381.54" y="2316.08" width="21.00" height="3.30" fill="#000"/>
<rect x="399.86" y="2289.84" width="3.70" height="30.12" fill="#000"/>
<rect x="391.21" y="2288.19" width="21.00" height="3.30" fill="#000"/>
<rect x="391.21" y="2318.30" width="21.00" height="3.30" fill="#000"/>
<rect x="409.53" y="2289.84" width="3.70" height="28.39" fill="#000"/>
<rect x="400.88" y="2288.19" width="21.00" height="3.30" fill="#000"/>
<rect x="400.88" y="2316.57" width="21.00" height="3.30" fill="#000"/>
<rect x="419.20" y="2316.00" width="3.70" height="20.98" fill="#000"/>
<rect x="410.55" y="2314.35" width="21.00" height="3.30" fill="#000"/>
<rect x="410.55" y="2335.34" width="21.00" height="3.30" fill="#000"/>
<rect x="428.87" y="2274.04" width="3.70" height="67.89" fill="#000"/>
<rect x="420.22" y="2272.39" width="21.00" height="3.30" fill="#000"/>
<rect x="420.22" y="2340.27" width="21.00" height="3.30" fill="#000"/>
<rect x="438.54" y="2277.49" width="3.70" height="49.87" fill="#000"/>
<rect x="429.89" y="2275.84" width="21.00" height="3.30" fill="#000"/>
<rect x="429.89" y="2325.71" width="21.00" height="3.30" fill="#000"/>
<rect x="448.21" y="2262.19" width="3.70" height="69.62" fill="#000"/>
<rect x="439.56" y="2260.54" width="21.00" height="3.30" fill="#000"/>
<rect x="439.56" y="2330.15" width="21.00" height="3.30" fill="#000"/>
<rect x="457.88" y="2284.65" width="3.70" height="76.03" fill="#000"/>
<rect x="449.23" y="2283.00" width="21.00" height="3.30" fill="#000"/>
<rect x="449.23" y="2359.04" width="21.00" height="3.30" fill="#000"/>
<rect x="467.55" y="2320.45" width="3.70" height="16.54" fill="#000"/>
<rect x="458.90" y="2318.80" width="21.00" height="3.30" fill="#000"/>
<rect x="458.90" y="2335.34" width="21.00" height="3.30" fill="#000"/>
<rect x="477.22" y="2310.82" width="3.70" height="32.83" fill="#000"/>
<rect x="468.57" y="2309.17" width="21.00" height="3.30" fill="#000"/>
<rect x="468.57" y="2342.00" width="21.00" height="3.30" fill="#000"/>
<rect x="486.89" y="2324.89" width="3.70" height="27.40" fill="#000"/>
<rect x="478.24" y="2323.24" width="21.00" height="3.30" fill="#000"/>
<rect x="478.24" y="2350.64" width="21.00" height="3.30" fill="#000"/>
<rect x="496.56" y="2302.92" width="3.70" height="47.65" fill="#000"/>
<rect x="487.91" y="2301.27" width="21.00" height="3.30" fill="#000"/>
<rect x="487.91" y="2348.91" width="21.00" height="3.30" fill="#000"/>
<rect x="506.23" y="2297.24" width="3.70" height="41.47" fill="#000"/>
<rect x="497.58" y="2295.59" width="21.00" height="3.30" fill="#000"/>
<rect x="497.58" y="2337.06" width="21.00" height="3.30" fill="#000"/>
<rect x="515.90" y="2263.91" width="3.70" height="75.29" fill="#000"/>
<rect x="507.25" y="2262.26" width="21.00" height="3.30" fill="#000"/>
<rect x="507.25" y="2337.56" width="21.00" height="3.30" fill="#000"/>
<rect x="525.57" y="2286.38" width="3.70" height="28.39" fill="#000"/>
<rect x="516.92" y="2284.73" width="21.00" height="3.30" fill="#000"/>
<rect x="516.92" y="2313.12" width="21.00" height="3.30" fill="#000"/>
<rect x="535.24" y="2302.92" width="3.70" height="31.85" fill="#000"/>
<rect x="526.59" y="2301.27" width="21.00" height="3.30" fill="#000"/>
<rect x="526.59" y="2333.12" width="21.00" height="3.30" fill="#000"/>
<rect x="544.91" y="2276.26" width="3.70" height="16.54" fill="#000"/>
<rect x="536.26" y="2274.61" width="21.00" height="3.30" fill="#000"/>
<rect x="536.26" y="2291.15" width="21.00" height="3.30" fill="#000"/>
<rect x="554.58" y="2301.19" width="3.70" height="38.51" fill="#000"/>
<rect x="545.93" y="2299.54" width="21.00" height="3.30" fill="#000"/>
<rect x="545.93" y="2338.05" width="21.00" height="3.30" fill="#000"/>
<rect x="564.25" y="2318.22" width="3.70" height="31.60" fill="#000"/>
<rect x="555.60" y="2316.57" width="21.00" height="3.30" fill="#000"/>
<rect x="555.60" y="2348.17" width="21.00" height="3.30" fill="#000"/>
<rect x="573.92" y="2261.45" width="3.70" height="56.78" fill="#000"/>
<rect x="565.27" y="2259.80" width="21.00" height="3.30" fill="#000"/>
<rect x="565.27" y="2316.57" width="21.00" height="3.30" fill="#000"/>
<rect x="583.59" y="2285.39" width="3.70" height="52.58" fill="#000"/>
<rect x="574.94" y="2283.74" width="21.00" height="3.30" fill="#000"/>
<rect x="574.94" y="2336.32" width="21.00" height="3.30" fill="#000"/>
<rect x="593.26" y="2268.85" width="3.70" height="59.00" fill="#000"/>
<rect x="584.61" y="2267.20" width="21.00" height="3.30" fill="#000"/>
<rect x="584.61" y="2326.20" width="21.00" height="3.30" fill="#000"/>
<rect x="602.93" y="2310.82" width="3.70" height="47.65" fill="#000"/>
<rect x="594.28" y="2309.17" width="21.00" height="3.30" fill="#000"/>
<rect x="594.28" y="2356.81" width="21.00" height="3.30" fill="#000"/>
<rect x="612.60" y="2276.75" width="3.70" height="18.76" fill="#000"/>
<rect x="603.95" y="2275.10" width="21.00" height="3.30" fill="#000"/>
<rect x="603.95" y="2293.86" width="21.00" height="3.30" fill="#000"/>
<rect x="622.27" y="2301.68" width="3.70" height="49.87" fill="#000"/>
<rect x="613.62" y="2300.03" width="21.00" height="3.30" fill="#000"/>
<rect x="613.62" y="2349.90" width="21.00" height="3.30" fill="#000"/>
<rect x="631.94" y="2280.70" width="3.70" height="69.12" fill="#000"/>
<rect x="623.29" y="2279.05" width="21.00" height="3.30" fill="#000"/>
<rect x="623.29" y="2348.17" width="21.00" height="3.30" fill="#000"/>
<rect x="641.61" y="2301.68" width="3.70" height="74.31" fill="#000"/>
<rect x="632.96" y="2300.03" width="21.00" height="3.30" fill="#000"/>
<rect x="632.96" y="2374.34" width="21.00" height="3.30" fill="#000"/>
<rect x="651.28" y="2260.95" width="3.70" height="69.62" fill="#000"/>
<rect x="642.63" y="2259.30" width="21.00" height="3.30" fill="#000"/>
<rect x="642.63" y="2328.92" width="21.00" height="3.30" fill="#000"/>
<rect x="660.95" y="2307.36" width="3.70" height="61.96" fill="#000"/>
<rect x="652.30" y="2305.71" width="21.00" height="3.30" fill="#000"/>
<rect x="652.30" y="2367.68" width="21.00" height="3.30" fill="#000"/>
<rect x="176.30" y="2130.10" width="5.60" height="374.20" fill="#000"/>
<rect x="166.60" y="2498.50" width="506.50" height="5.80" fill="#000"/>
<rect x="166.60" y="2498.80" width="12.50" height="5.20" fill="#000"/>
<rect x="166.60" y="2375.37" width="12.50" height="5.20" fill="#000"/>
<rect x="166.60" y="2251.93" width="12.50" height="5.20" fill="#000"/>
<rect x="166.60" y="2128.50" width="12.50" height="5.20" fill="#000"/>
<rect x="176.30" y="2501.40" width="5.60" height="11.80" fill="#000"/>
<rect x="273.00" y="2501.40" width="5.60" height="11.80" fill="#000"/>
<rect x="369.70" y="2501.40" width="5.60" height="11.80" fill="#000"/>
<rect x="466.40" y="2501.40" width="5.60" height="11.80" fill="#000"/>
<rect x="563.10" y="2501.40" width="5.60" height="11.80" fill="#000"/>
<rect x="659.80" y="2501.40" width="5.60" height="11.80" fill="#000"/>
<text transform="translate(116.10,2512.50) scale(0.35527,0.34000)" font-weight="700">0</text>
<text transform="translate(96.39,2389.07) scale(0.35527,0.34000)" font-weight="700">50</text>
<text transform="translate(76.67,2265.63) scale(0.35527,0.34000)" font-weight="700">100</text>
<text transform="translate(76.67,2142.20) scale(0.35527,0.34000)" font-weight="700">150</text>
<text transform="translate(169.64,2548.90) scale(0.35527,0.34000)" font-weight="700">0</text>
<text transform="translate(266.25,2548.90) scale(0.35527,0.34000)" font-weight="700">5</text>
<text transform="translate(352.83,2548.90) scale(0.35527,0.34000)" font-weight="700">10</text>
<text transform="translate(449.26,2548.90) scale(0.35527,0.34000)" font-weight="700">15</text>
<text transform="translate(546.67,2548.90) scale(0.35527,0.34000)" font-weight="700">20</text>
<text transform="translate(643.10,2548.90) scale(0.35527,0.34000)" font-weight="700">25</text>
<text transform="translate(313.48,2592.15) scale(0.43631,0.43724)" font-weight="400" stroke="#000" stroke-width="2.06" stroke-linejoin="round">Time (min)</text>
<text transform="translate(59.25,2516.14) rotate(-90) scale(0.33687,0.35507)" font-weight="400" stroke="#000" stroke-width="2.02" stroke-linejoin="round">Events (mEPSCs/30s)</text>
<text transform="translate(40.85,2113.60) scale(0.46897,0.54638)" font-weight="700">I</text>
<rect x="180.70" y="2180.60" width="488.60" height="10.20" fill="#000"/>
<text transform="translate(363.60,2178.55) scale(0.39398,0.38286)" font-weight="400" stroke="#000" stroke-width="1.80" stroke-linejoin="round">BHC</text>
<rect x="278.90" y="2237.70" width="189.30" height="10.40" fill="#000"/>
<text transform="translate(282.41,2231.45) scale(0.34231,0.32143)" font-weight="400" stroke="#000" stroke-width="2.11" stroke-linejoin="round">SR58611A</text>
<g>
<rect x="949.55" y="2326.12" width="1.71" height="175.28" fill="#e2e2e2"/>
<rect x="951.22" y="2317.98" width="1.71" height="183.42" fill="#e2e2e2"/>
<rect x="959.22" y="2317.98" width="1.71" height="183.42" fill="#e2e2e2"/>
<rect x="960.89" y="2318.22" width="1.71" height="183.18" fill="#e2e2e2"/>
<rect x="968.89" y="2318.22" width="1.71" height="183.18" fill="#e2e2e2"/>
<rect x="970.56" y="2309.95" width="1.71" height="191.45" fill="#e2e2e2"/>
<rect x="978.56" y="2309.95" width="1.71" height="191.45" fill="#e2e2e2"/>
<rect x="980.23" y="2338.10" width="1.71" height="163.30" fill="#e2e2e2"/>
<rect x="988.23" y="2338.10" width="1.71" height="163.30" fill="#e2e2e2"/>
<rect x="989.90" y="2304.89" width="1.71" height="196.51" fill="#e2e2e2"/>
<rect x="997.90" y="2304.89" width="1.71" height="196.51" fill="#e2e2e2"/>
<rect x="999.57" y="2334.15" width="1.71" height="167.25" fill="#e2e2e2"/>
<rect x="1007.57" y="2334.15" width="1.71" height="167.25" fill="#e2e2e2"/>
<rect x="1009.24" y="2335.38" width="1.71" height="166.02" fill="#e2e2e2"/>
<rect x="1017.24" y="2335.38" width="1.71" height="166.02" fill="#e2e2e2"/>
<rect x="1018.91" y="2312.30" width="1.71" height="189.10" fill="#e2e2e2"/>
<rect x="1026.91" y="2312.30" width="1.70" height="189.10" fill="#e2e2e2"/>
<rect x="1028.58" y="2321.06" width="1.70" height="180.34" fill="#e2e2e2"/>
<rect x="1036.58" y="2321.06" width="1.70" height="180.34" fill="#e2e2e2"/>
<rect x="1038.25" y="2340.94" width="1.70" height="160.46" fill="#e2e2e2"/>
<rect x="1046.25" y="2340.94" width="1.70" height="160.46" fill="#e2e2e2"/>
<rect x="1047.92" y="2314.15" width="1.70" height="187.25" fill="#e2e2e2"/>
<rect x="1055.92" y="2314.15" width="1.70" height="187.25" fill="#e2e2e2"/>
<rect x="1057.59" y="2316.50" width="1.70" height="184.90" fill="#e2e2e2"/>
<rect x="1065.59" y="2316.50" width="1.70" height="184.90" fill="#e2e2e2"/>
<rect x="1067.26" y="2305.14" width="1.70" height="196.26" fill="#e2e2e2"/>
<rect x="1075.26" y="2305.14" width="1.70" height="196.26" fill="#e2e2e2"/>
<rect x="1076.92" y="2311.07" width="1.70" height="190.33" fill="#e2e2e2"/>
<rect x="1084.93" y="2311.07" width="1.70" height="190.33" fill="#e2e2e2"/>
<rect x="1086.60" y="2297.74" width="1.70" height="203.66" fill="#e2e2e2"/>
<rect x="1094.60" y="2297.74" width="1.70" height="203.66" fill="#e2e2e2"/>
<rect x="1096.27" y="2322.79" width="1.70" height="178.61" fill="#e2e2e2"/>
<rect x="1104.27" y="2322.79" width="1.70" height="178.61" fill="#e2e2e2"/>
<rect x="1105.94" y="2329.33" width="1.70" height="172.07" fill="#e2e2e2"/>
<rect x="1113.94" y="2329.33" width="1.70" height="172.07" fill="#e2e2e2"/>
<rect x="1115.61" y="2315.63" width="1.70" height="185.77" fill="#e2e2e2"/>
<rect x="1123.61" y="2315.63" width="1.70" height="185.77" fill="#e2e2e2"/>
<rect x="1125.28" y="2290.70" width="1.70" height="210.70" fill="#e2e2e2"/>
<rect x="1133.28" y="2290.70" width="1.70" height="210.70" fill="#e2e2e2"/>
<rect x="1134.95" y="2285.64" width="1.70" height="215.76" fill="#e2e2e2"/>
<rect x="1142.95" y="2285.64" width="1.70" height="215.76" fill="#e2e2e2"/>
<rect x="1144.62" y="2330.07" width="1.70" height="171.33" fill="#e2e2e2"/>
<rect x="1152.62" y="2330.07" width="1.70" height="171.33" fill="#e2e2e2"/>
<rect x="1154.29" y="2289.34" width="1.70" height="212.06" fill="#e2e2e2"/>
<rect x="1162.29" y="2289.34" width="1.70" height="212.06" fill="#e2e2e2"/>
<rect x="1163.96" y="2340.57" width="1.70" height="160.83" fill="#e2e2e2"/>
<rect x="1171.96" y="2340.57" width="1.70" height="160.83" fill="#e2e2e2"/>
<rect x="1173.62" y="2306.87" width="1.70" height="194.53" fill="#e2e2e2"/>
<rect x="1181.63" y="2306.87" width="1.70" height="194.53" fill="#e2e2e2"/>
<rect x="1183.30" y="2304.89" width="1.70" height="196.51" fill="#e2e2e2"/>
<rect x="1191.30" y="2304.89" width="1.70" height="196.51" fill="#e2e2e2"/>
<rect x="1192.97" y="2336.37" width="1.70" height="165.03" fill="#e2e2e2"/>
<rect x="1200.97" y="2336.37" width="1.70" height="165.03" fill="#e2e2e2"/>
<rect x="1202.63" y="2298.60" width="1.70" height="202.80" fill="#e2e2e2"/>
<rect x="1210.64" y="2298.60" width="1.70" height="202.80" fill="#e2e2e2"/>
<rect x="1212.31" y="2306.87" width="1.70" height="194.53" fill="#e2e2e2"/>
<rect x="1220.31" y="2306.87" width="1.70" height="194.53" fill="#e2e2e2"/>
<rect x="1221.98" y="2285.02" width="1.70" height="216.38" fill="#e2e2e2"/>
<rect x="1229.98" y="2285.02" width="1.70" height="216.38" fill="#e2e2e2"/>
<rect x="1231.65" y="2284.16" width="1.70" height="217.24" fill="#e2e2e2"/>
<rect x="1239.65" y="2284.16" width="1.70" height="217.24" fill="#e2e2e2"/>
<rect x="1241.32" y="2342.54" width="1.70" height="158.86" fill="#e2e2e2"/>
<rect x="1249.32" y="2342.54" width="1.70" height="158.86" fill="#e2e2e2"/>
<rect x="1250.99" y="2305.39" width="1.70" height="196.01" fill="#e2e2e2"/>
<rect x="1258.99" y="2305.39" width="1.70" height="196.01" fill="#e2e2e2"/>
<rect x="1260.65" y="2303.54" width="1.70" height="197.86" fill="#e2e2e2"/>
<rect x="1268.66" y="2303.54" width="1.70" height="197.86" fill="#e2e2e2"/>
<rect x="1270.33" y="2322.17" width="1.70" height="179.23" fill="#e2e2e2"/>
<rect x="1278.33" y="2322.17" width="1.70" height="179.23" fill="#e2e2e2"/>
<rect x="1280.00" y="2321.56" width="1.70" height="179.84" fill="#e2e2e2"/>
<rect x="1288.00" y="2321.56" width="1.70" height="179.84" fill="#e2e2e2"/>
<rect x="1289.67" y="2291.56" width="1.70" height="209.84" fill="#e2e2e2"/>
<rect x="1297.67" y="2291.56" width="1.70" height="209.84" fill="#e2e2e2"/>
<rect x="1299.34" y="2332.17" width="1.70" height="169.23" fill="#e2e2e2"/>
<rect x="1307.34" y="2332.17" width="1.70" height="169.23" fill="#e2e2e2"/>
<rect x="1309.01" y="2329.58" width="1.70" height="171.82" fill="#e2e2e2"/>
<rect x="1317.01" y="2329.58" width="1.70" height="171.82" fill="#e2e2e2"/>
<rect x="1318.67" y="2320.69" width="1.70" height="180.71" fill="#e2e2e2"/>
<rect x="1326.68" y="2320.69" width="1.70" height="180.71" fill="#e2e2e2"/>
<rect x="1328.35" y="2334.39" width="1.70" height="167.01" fill="#e2e2e2"/>
<rect x="1336.35" y="2334.39" width="1.70" height="167.01" fill="#e2e2e2"/>
<rect x="1338.02" y="2318.22" width="1.70" height="183.18" fill="#e2e2e2"/>
<rect x="1346.02" y="2318.22" width="1.70" height="183.18" fill="#e2e2e2"/>
<rect x="1347.69" y="2309.71" width="1.70" height="191.69" fill="#e2e2e2"/>
<rect x="1355.69" y="2309.71" width="1.70" height="191.69" fill="#e2e2e2"/>
<rect x="1357.36" y="2339.21" width="1.70" height="162.19" fill="#e2e2e2"/>
<rect x="1365.36" y="2339.21" width="1.70" height="162.19" fill="#e2e2e2"/>
<rect x="1367.03" y="2285.52" width="1.70" height="215.88" fill="#e2e2e2"/>
<rect x="1375.03" y="2285.52" width="1.70" height="215.88" fill="#e2e2e2"/>
<rect x="1376.69" y="2327.73" width="1.70" height="173.67" fill="#e2e2e2"/>
<rect x="1384.70" y="2327.73" width="1.70" height="173.67" fill="#e2e2e2"/>
<rect x="1386.37" y="2329.58" width="1.70" height="171.82" fill="#e2e2e2"/>
<rect x="1394.37" y="2329.58" width="1.70" height="171.82" fill="#e2e2e2"/>
<rect x="1396.04" y="2311.31" width="1.70" height="190.09" fill="#e2e2e2"/>
<rect x="1404.04" y="2311.31" width="1.70" height="190.09" fill="#e2e2e2"/>
<rect x="1405.71" y="2324.15" width="1.70" height="177.25" fill="#e2e2e2"/>
<rect x="1413.71" y="2324.15" width="1.70" height="177.25" fill="#e2e2e2"/>
<rect x="1415.38" y="2340.57" width="1.70" height="160.83" fill="#e2e2e2"/>
<rect x="1423.38" y="2340.57" width="1.70" height="160.83" fill="#e2e2e2"/>
<rect x="1425.05" y="2311.31" width="1.70" height="190.09" fill="#e2e2e2"/>
<rect x="1433.05" y="2311.31" width="1.70" height="190.09" fill="#e2e2e2"/>
<rect x="1434.72" y="2307.61" width="1.70" height="193.79" fill="#e2e2e2"/>
<rect x="1442.72" y="2307.61" width="1.70" height="193.79" fill="#e2e2e2"/>
<rect x="943.40" y="2348.34" width="6.15" height="153.06" fill="#5e5e5e"/>
<rect x="952.92" y="2365.87" width="6.30" height="135.53" fill="#5e5e5e"/>
<rect x="962.59" y="2343.65" width="6.30" height="157.75" fill="#5e5e5e"/>
<rect x="972.26" y="2330.57" width="6.30" height="170.83" fill="#5e5e5e"/>
<rect x="981.93" y="2346.61" width="6.30" height="154.79" fill="#5e5e5e"/>
<rect x="991.60" y="2336.99" width="6.30" height="164.41" fill="#5e5e5e"/>
<rect x="1001.27" y="2354.51" width="6.30" height="146.89" fill="#5e5e5e"/>
<rect x="1010.94" y="2369.08" width="6.30" height="132.32" fill="#5e5e5e"/>
<rect x="1020.61" y="2348.84" width="6.30" height="152.56" fill="#5e5e5e"/>
<rect x="1030.28" y="2338.71" width="6.30" height="162.69" fill="#5e5e5e"/>
<rect x="1039.95" y="2377.23" width="6.30" height="124.17" fill="#5e5e5e"/>
<rect x="1049.62" y="2336.25" width="6.30" height="165.15" fill="#5e5e5e"/>
<rect x="1059.29" y="2360.19" width="6.30" height="141.21" fill="#5e5e5e"/>
<rect x="1068.96" y="2333.53" width="6.30" height="167.87" fill="#5e5e5e"/>
<rect x="1078.63" y="2320.94" width="6.30" height="180.46" fill="#5e5e5e"/>
<rect x="1088.30" y="2314.77" width="6.30" height="186.63" fill="#5e5e5e"/>
<rect x="1097.97" y="2336.99" width="6.30" height="164.41" fill="#5e5e5e"/>
<rect x="1107.64" y="2339.21" width="6.30" height="162.19" fill="#5e5e5e"/>
<rect x="1117.31" y="2332.30" width="6.30" height="169.10" fill="#5e5e5e"/>
<rect x="1126.98" y="2316.99" width="6.30" height="184.41" fill="#5e5e5e"/>
<rect x="1136.65" y="2312.05" width="6.30" height="189.35" fill="#5e5e5e"/>
<rect x="1146.32" y="2343.16" width="6.30" height="158.24" fill="#5e5e5e"/>
<rect x="1155.99" y="2323.90" width="6.30" height="177.50" fill="#5e5e5e"/>
<rect x="1165.66" y="2359.45" width="6.30" height="141.95" fill="#5e5e5e"/>
<rect x="1175.33" y="2316.99" width="6.30" height="184.41" fill="#5e5e5e"/>
<rect x="1185.00" y="2341.92" width="6.30" height="159.48" fill="#5e5e5e"/>
<rect x="1194.67" y="2364.64" width="6.30" height="136.76" fill="#5e5e5e"/>
<rect x="1204.34" y="2324.40" width="6.30" height="177.00" fill="#5e5e5e"/>
<rect x="1214.01" y="2330.07" width="6.30" height="171.33" fill="#5e5e5e"/>
<rect x="1223.68" y="2309.58" width="6.30" height="191.82" fill="#5e5e5e"/>
<rect x="1233.35" y="2299.46" width="6.30" height="201.94" fill="#5e5e5e"/>
<rect x="1243.02" y="2366.86" width="6.30" height="134.54" fill="#5e5e5e"/>
<rect x="1252.69" y="2337.97" width="6.30" height="163.43" fill="#5e5e5e"/>
<rect x="1262.36" y="2340.94" width="6.30" height="160.46" fill="#5e5e5e"/>
<rect x="1272.03" y="2358.46" width="6.30" height="142.94" fill="#5e5e5e"/>
<rect x="1281.70" y="2335.26" width="6.30" height="166.14" fill="#5e5e5e"/>
<rect x="1291.37" y="2328.35" width="6.30" height="173.05" fill="#5e5e5e"/>
<rect x="1301.04" y="2346.12" width="6.30" height="155.28" fill="#5e5e5e"/>
<rect x="1310.71" y="2360.19" width="6.30" height="141.21" fill="#5e5e5e"/>
<rect x="1320.38" y="2351.55" width="6.30" height="149.85" fill="#5e5e5e"/>
<rect x="1330.05" y="2358.46" width="6.30" height="142.94" fill="#5e5e5e"/>
<rect x="1339.72" y="2326.12" width="6.30" height="175.28" fill="#5e5e5e"/>
<rect x="1349.39" y="2326.62" width="6.30" height="174.78" fill="#5e5e5e"/>
<rect x="1359.06" y="2357.97" width="6.30" height="143.43" fill="#5e5e5e"/>
<rect x="1368.73" y="2320.94" width="6.30" height="180.46" fill="#5e5e5e"/>
<rect x="1378.40" y="2352.05" width="6.30" height="149.35" fill="#5e5e5e"/>
<rect x="1388.07" y="2346.61" width="6.30" height="154.79" fill="#5e5e5e"/>
<rect x="1397.74" y="2330.57" width="6.30" height="170.83" fill="#5e5e5e"/>
<rect x="1407.41" y="2336.99" width="6.30" height="164.41" fill="#5e5e5e"/>
<rect x="1417.08" y="2378.21" width="6.30" height="123.19" fill="#5e5e5e"/>
<rect x="1426.75" y="2341.92" width="6.30" height="159.48" fill="#5e5e5e"/>
<rect x="1436.42" y="2307.61" width="6.30" height="193.79" fill="#5e5e5e"/>
</g>
<rect x="944.55" y="2303.91" width="3.70" height="44.44" fill="#000"/>
<rect x="943.40" y="2302.26" width="13.50" height="3.30" fill="#000"/>
<rect x="943.40" y="2346.69" width="13.50" height="3.30" fill="#000"/>
<rect x="954.22" y="2270.09" width="3.70" height="95.78" fill="#000"/>
<rect x="945.57" y="2268.44" width="21.00" height="3.30" fill="#000"/>
<rect x="945.57" y="2364.22" width="21.00" height="3.30" fill="#000"/>
<rect x="963.89" y="2292.80" width="3.70" height="50.85" fill="#000"/>
<rect x="955.24" y="2291.15" width="21.00" height="3.30" fill="#000"/>
<rect x="955.24" y="2342.00" width="21.00" height="3.30" fill="#000"/>
<rect x="973.56" y="2289.34" width="3.70" height="41.23" fill="#000"/>
<rect x="964.91" y="2287.69" width="21.00" height="3.30" fill="#000"/>
<rect x="964.91" y="2328.92" width="21.00" height="3.30" fill="#000"/>
<rect x="983.23" y="2329.58" width="3.70" height="17.03" fill="#000"/>
<rect x="974.58" y="2327.93" width="21.00" height="3.30" fill="#000"/>
<rect x="974.58" y="2344.96" width="21.00" height="3.30" fill="#000"/>
<rect x="992.90" y="2272.80" width="3.70" height="64.19" fill="#000"/>
<rect x="984.25" y="2271.15" width="21.00" height="3.30" fill="#000"/>
<rect x="984.25" y="2335.34" width="21.00" height="3.30" fill="#000"/>
<rect x="1002.57" y="2313.78" width="3.70" height="40.73" fill="#000"/>
<rect x="993.92" y="2312.13" width="21.00" height="3.30" fill="#000"/>
<rect x="993.92" y="2352.86" width="21.00" height="3.30" fill="#000"/>
<rect x="1012.24" y="2301.68" width="3.70" height="67.39" fill="#000"/>
<rect x="1003.59" y="2300.03" width="21.00" height="3.30" fill="#000"/>
<rect x="1003.59" y="2367.43" width="21.00" height="3.30" fill="#000"/>
<rect x="1021.91" y="2275.76" width="3.70" height="73.07" fill="#000"/>
<rect x="1013.26" y="2274.11" width="21.00" height="3.30" fill="#000"/>
<rect x="1013.26" y="2347.19" width="21.00" height="3.30" fill="#000"/>
<rect x="1031.58" y="2303.41" width="3.70" height="35.30" fill="#000"/>
<rect x="1022.93" y="2301.76" width="21.00" height="3.30" fill="#000"/>
<rect x="1022.93" y="2337.06" width="21.00" height="3.30" fill="#000"/>
<rect x="1041.25" y="2304.65" width="3.70" height="72.58" fill="#000"/>
<rect x="1032.60" y="2303.00" width="21.00" height="3.30" fill="#000"/>
<rect x="1032.60" y="2375.58" width="21.00" height="3.30" fill="#000"/>
<rect x="1050.92" y="2292.06" width="3.70" height="44.19" fill="#000"/>
<rect x="1042.27" y="2290.41" width="21.00" height="3.30" fill="#000"/>
<rect x="1042.27" y="2334.60" width="21.00" height="3.30" fill="#000"/>
<rect x="1060.59" y="2272.80" width="3.70" height="87.39" fill="#000"/>
<rect x="1051.94" y="2271.15" width="21.00" height="3.30" fill="#000"/>
<rect x="1051.94" y="2358.54" width="21.00" height="3.30" fill="#000"/>
<rect x="1070.26" y="2276.75" width="3.70" height="56.78" fill="#000"/>
<rect x="1061.61" y="2275.10" width="21.00" height="3.30" fill="#000"/>
<rect x="1061.61" y="2331.88" width="21.00" height="3.30" fill="#000"/>
<rect x="1079.93" y="2301.19" width="3.70" height="19.75" fill="#000"/>
<rect x="1071.28" y="2299.54" width="21.00" height="3.30" fill="#000"/>
<rect x="1071.28" y="2319.29" width="21.00" height="3.30" fill="#000"/>
<rect x="1089.60" y="2280.70" width="3.70" height="34.07" fill="#000"/>
<rect x="1080.95" y="2279.05" width="21.00" height="3.30" fill="#000"/>
<rect x="1080.95" y="2313.12" width="21.00" height="3.30" fill="#000"/>
<rect x="1099.27" y="2308.60" width="3.70" height="28.39" fill="#000"/>
<rect x="1090.62" y="2306.95" width="21.00" height="3.30" fill="#000"/>
<rect x="1090.62" y="2335.34" width="21.00" height="3.30" fill="#000"/>
<rect x="1108.94" y="2319.46" width="3.70" height="19.75" fill="#000"/>
<rect x="1100.29" y="2317.81" width="21.00" height="3.30" fill="#000"/>
<rect x="1100.29" y="2337.56" width="21.00" height="3.30" fill="#000"/>
<rect x="1118.61" y="2298.97" width="3.70" height="33.33" fill="#000"/>
<rect x="1109.96" y="2297.32" width="21.00" height="3.30" fill="#000"/>
<rect x="1109.96" y="2330.65" width="21.00" height="3.30" fill="#000"/>
<rect x="1128.28" y="2264.41" width="3.70" height="52.58" fill="#000"/>
<rect x="1119.63" y="2262.76" width="21.00" height="3.30" fill="#000"/>
<rect x="1119.63" y="2315.34" width="21.00" height="3.30" fill="#000"/>
<rect x="1137.95" y="2259.22" width="3.70" height="52.83" fill="#000"/>
<rect x="1129.30" y="2257.57" width="21.00" height="3.30" fill="#000"/>
<rect x="1129.30" y="2310.40" width="21.00" height="3.30" fill="#000"/>
<rect x="1147.62" y="2316.99" width="3.70" height="26.17" fill="#000"/>
<rect x="1138.97" y="2315.34" width="21.00" height="3.30" fill="#000"/>
<rect x="1138.97" y="2341.51" width="21.00" height="3.30" fill="#000"/>
<rect x="1157.29" y="2254.78" width="3.70" height="69.12" fill="#000"/>
<rect x="1148.64" y="2253.13" width="21.00" height="3.30" fill="#000"/>
<rect x="1148.64" y="2322.25" width="21.00" height="3.30" fill="#000"/>
<rect x="1166.96" y="2321.68" width="3.70" height="37.77" fill="#000"/>
<rect x="1158.31" y="2320.03" width="21.00" height="3.30" fill="#000"/>
<rect x="1158.31" y="2357.80" width="21.00" height="3.30" fill="#000"/>
<rect x="1176.63" y="2296.75" width="3.70" height="20.24" fill="#000"/>
<rect x="1167.98" y="2295.10" width="21.00" height="3.30" fill="#000"/>
<rect x="1167.98" y="2315.34" width="21.00" height="3.30" fill="#000"/>
<rect x="1186.30" y="2267.86" width="3.70" height="74.06" fill="#000"/>
<rect x="1177.65" y="2266.21" width="21.00" height="3.30" fill="#000"/>
<rect x="1177.65" y="2340.27" width="21.00" height="3.30" fill="#000"/>
<rect x="1195.97" y="2308.10" width="3.70" height="56.53" fill="#000"/>
<rect x="1187.32" y="2306.45" width="21.00" height="3.30" fill="#000"/>
<rect x="1187.32" y="2362.99" width="21.00" height="3.30" fill="#000"/>
<rect x="1205.64" y="2272.80" width="3.70" height="51.60" fill="#000"/>
<rect x="1196.99" y="2271.15" width="21.00" height="3.30" fill="#000"/>
<rect x="1196.99" y="2322.75" width="21.00" height="3.30" fill="#000"/>
<rect x="1215.31" y="2283.66" width="3.70" height="46.41" fill="#000"/>
<rect x="1206.66" y="2282.01" width="21.00" height="3.30" fill="#000"/>
<rect x="1206.66" y="2328.42" width="21.00" height="3.30" fill="#000"/>
<rect x="1224.98" y="2260.46" width="3.70" height="49.13" fill="#000"/>
<rect x="1216.33" y="2258.81" width="21.00" height="3.30" fill="#000"/>
<rect x="1216.33" y="2307.93" width="21.00" height="3.30" fill="#000"/>
<rect x="1234.65" y="2268.85" width="3.70" height="30.61" fill="#000"/>
<rect x="1226.00" y="2267.20" width="21.00" height="3.30" fill="#000"/>
<rect x="1226.00" y="2297.81" width="21.00" height="3.30" fill="#000"/>
<rect x="1244.32" y="2318.22" width="3.70" height="48.63" fill="#000"/>
<rect x="1235.67" y="2316.57" width="21.00" height="3.30" fill="#000"/>
<rect x="1235.67" y="2365.21" width="21.00" height="3.30" fill="#000"/>
<rect x="1253.99" y="2272.80" width="3.70" height="65.17" fill="#000"/>
<rect x="1245.34" y="2271.15" width="21.00" height="3.30" fill="#000"/>
<rect x="1245.34" y="2336.32" width="21.00" height="3.30" fill="#000"/>
<rect x="1263.66" y="2266.14" width="3.70" height="74.80" fill="#000"/>
<rect x="1255.01" y="2264.49" width="21.00" height="3.30" fill="#000"/>
<rect x="1255.01" y="2339.29" width="21.00" height="3.30" fill="#000"/>
<rect x="1273.33" y="2285.89" width="3.70" height="72.58" fill="#000"/>
<rect x="1264.68" y="2284.24" width="21.00" height="3.30" fill="#000"/>
<rect x="1264.68" y="2356.81" width="21.00" height="3.30" fill="#000"/>
<rect x="1283.00" y="2307.86" width="3.70" height="27.40" fill="#000"/>
<rect x="1274.35" y="2306.21" width="21.00" height="3.30" fill="#000"/>
<rect x="1274.35" y="2333.61" width="21.00" height="3.30" fill="#000"/>
<rect x="1292.67" y="2254.78" width="3.70" height="73.57" fill="#000"/>
<rect x="1284.02" y="2253.13" width="21.00" height="3.30" fill="#000"/>
<rect x="1284.02" y="2326.70" width="21.00" height="3.30" fill="#000"/>
<rect x="1302.34" y="2318.22" width="3.70" height="27.90" fill="#000"/>
<rect x="1293.69" y="2316.57" width="21.00" height="3.30" fill="#000"/>
<rect x="1293.69" y="2344.47" width="21.00" height="3.30" fill="#000"/>
<rect x="1312.01" y="2298.97" width="3.70" height="61.22" fill="#000"/>
<rect x="1303.36" y="2297.32" width="21.00" height="3.30" fill="#000"/>
<rect x="1303.36" y="2358.54" width="21.00" height="3.30" fill="#000"/>
<rect x="1321.68" y="2289.84" width="3.70" height="61.72" fill="#000"/>
<rect x="1313.03" y="2288.19" width="21.00" height="3.30" fill="#000"/>
<rect x="1313.03" y="2349.90" width="21.00" height="3.30" fill="#000"/>
<rect x="1331.35" y="2310.33" width="3.70" height="48.14" fill="#000"/>
<rect x="1322.70" y="2308.68" width="21.00" height="3.30" fill="#000"/>
<rect x="1322.70" y="2356.81" width="21.00" height="3.30" fill="#000"/>
<rect x="1341.02" y="2310.33" width="3.70" height="15.80" fill="#000"/>
<rect x="1332.37" y="2308.68" width="21.00" height="3.30" fill="#000"/>
<rect x="1332.37" y="2324.47" width="21.00" height="3.30" fill="#000"/>
<rect x="1350.69" y="2292.80" width="3.70" height="33.82" fill="#000"/>
<rect x="1342.04" y="2291.15" width="21.00" height="3.30" fill="#000"/>
<rect x="1342.04" y="2324.97" width="21.00" height="3.30" fill="#000"/>
<rect x="1360.36" y="2320.45" width="3.70" height="37.52" fill="#000"/>
<rect x="1351.71" y="2318.80" width="21.00" height="3.30" fill="#000"/>
<rect x="1351.71" y="2356.32" width="21.00" height="3.30" fill="#000"/>
<rect x="1370.03" y="2250.09" width="3.70" height="70.85" fill="#000"/>
<rect x="1361.38" y="2248.44" width="21.00" height="3.30" fill="#000"/>
<rect x="1361.38" y="2319.29" width="21.00" height="3.30" fill="#000"/>
<rect x="1379.70" y="2303.41" width="3.70" height="48.63" fill="#000"/>
<rect x="1371.05" y="2301.76" width="21.00" height="3.30" fill="#000"/>
<rect x="1371.05" y="2350.40" width="21.00" height="3.30" fill="#000"/>
<rect x="1389.37" y="2312.55" width="3.70" height="34.07" fill="#000"/>
<rect x="1380.72" y="2310.90" width="21.00" height="3.30" fill="#000"/>
<rect x="1380.72" y="2344.96" width="21.00" height="3.30" fill="#000"/>
<rect x="1399.04" y="2292.06" width="3.70" height="38.51" fill="#000"/>
<rect x="1390.39" y="2290.41" width="21.00" height="3.30" fill="#000"/>
<rect x="1390.39" y="2328.92" width="21.00" height="3.30" fill="#000"/>
<rect x="1408.71" y="2311.31" width="3.70" height="25.67" fill="#000"/>
<rect x="1400.06" y="2309.66" width="21.00" height="3.30" fill="#000"/>
<rect x="1400.06" y="2335.34" width="21.00" height="3.30" fill="#000"/>
<rect x="1418.38" y="2302.92" width="3.70" height="75.29" fill="#000"/>
<rect x="1409.73" y="2301.27" width="21.00" height="3.30" fill="#000"/>
<rect x="1409.73" y="2376.56" width="21.00" height="3.30" fill="#000"/>
<rect x="1428.05" y="2280.70" width="3.70" height="61.22" fill="#000"/>
<rect x="1419.40" y="2279.05" width="21.00" height="3.30" fill="#000"/>
<rect x="1419.40" y="2340.27" width="21.00" height="3.30" fill="#000"/>
<rect x="943.40" y="2130.10" width="5.60" height="374.20" fill="#000"/>
<rect x="933.70" y="2498.50" width="506.50" height="5.80" fill="#000"/>
<rect x="933.70" y="2498.80" width="12.50" height="5.20" fill="#000"/>
<rect x="933.70" y="2375.37" width="12.50" height="5.20" fill="#000"/>
<rect x="933.70" y="2251.93" width="12.50" height="5.20" fill="#000"/>
<rect x="933.70" y="2128.50" width="12.50" height="5.20" fill="#000"/>
<rect x="943.40" y="2501.40" width="5.60" height="11.80" fill="#000"/>
<rect x="1040.10" y="2501.40" width="5.60" height="11.80" fill="#000"/>
<rect x="1136.80" y="2501.40" width="5.60" height="11.80" fill="#000"/>
<rect x="1233.50" y="2501.40" width="5.60" height="11.80" fill="#000"/>
<rect x="1330.20" y="2501.40" width="5.60" height="11.80" fill="#000"/>
<rect x="1426.90" y="2501.40" width="5.60" height="11.80" fill="#000"/>
<text transform="translate(883.20,2512.50) scale(0.35527,0.34000)" font-weight="700">0</text>
<text transform="translate(863.49,2389.07) scale(0.35527,0.34000)" font-weight="700">50</text>
<text transform="translate(843.77,2265.63) scale(0.35527,0.34000)" font-weight="700">100</text>
<text transform="translate(843.77,2142.20) scale(0.35527,0.34000)" font-weight="700">150</text>
<text transform="translate(936.74,2548.90) scale(0.35527,0.34000)" font-weight="700">0</text>
<text transform="translate(1033.35,2548.90) scale(0.35527,0.34000)" font-weight="700">5</text>
<text transform="translate(1119.93,2548.90) scale(0.35527,0.34000)" font-weight="700">10</text>
<text transform="translate(1216.36,2548.90) scale(0.35527,0.34000)" font-weight="700">15</text>
<text transform="translate(1313.77,2548.90) scale(0.35527,0.34000)" font-weight="700">20</text>
<text transform="translate(1410.20,2548.90) scale(0.35527,0.34000)" font-weight="700">25</text>
<text transform="translate(1078.18,2592.15) scale(0.43545,0.43724)" font-weight="400" stroke="#000" stroke-width="2.06" stroke-linejoin="round">Time (min)</text>
<text transform="translate(832.95,2513.63) rotate(-90) scale(0.33554,0.34928)" font-weight="400" stroke="#000" stroke-width="2.04" stroke-linejoin="round">Events (mEPSCs/30s)</text>
<text transform="translate(805.22,2109.00) scale(0.45474,0.54783)" font-weight="700">J</text>
<rect x="954.60" y="2180.60" width="488.30" height="10.20" fill="#000"/>
<text transform="translate(1085.11,2177.85) scale(0.39224,0.38483)" font-weight="400" stroke="#000" stroke-width="1.80" stroke-linejoin="round">Blebbistatin</text>
<rect x="1052.10" y="2237.70" width="189.30" height="10.40" fill="#000"/>
<text transform="translate(1055.91,2231.45) scale(0.34168,0.33143)" font-weight="400" stroke="#000" stroke-width="2.08" stroke-linejoin="round">SR58611A</text>
</svg></body></html>
